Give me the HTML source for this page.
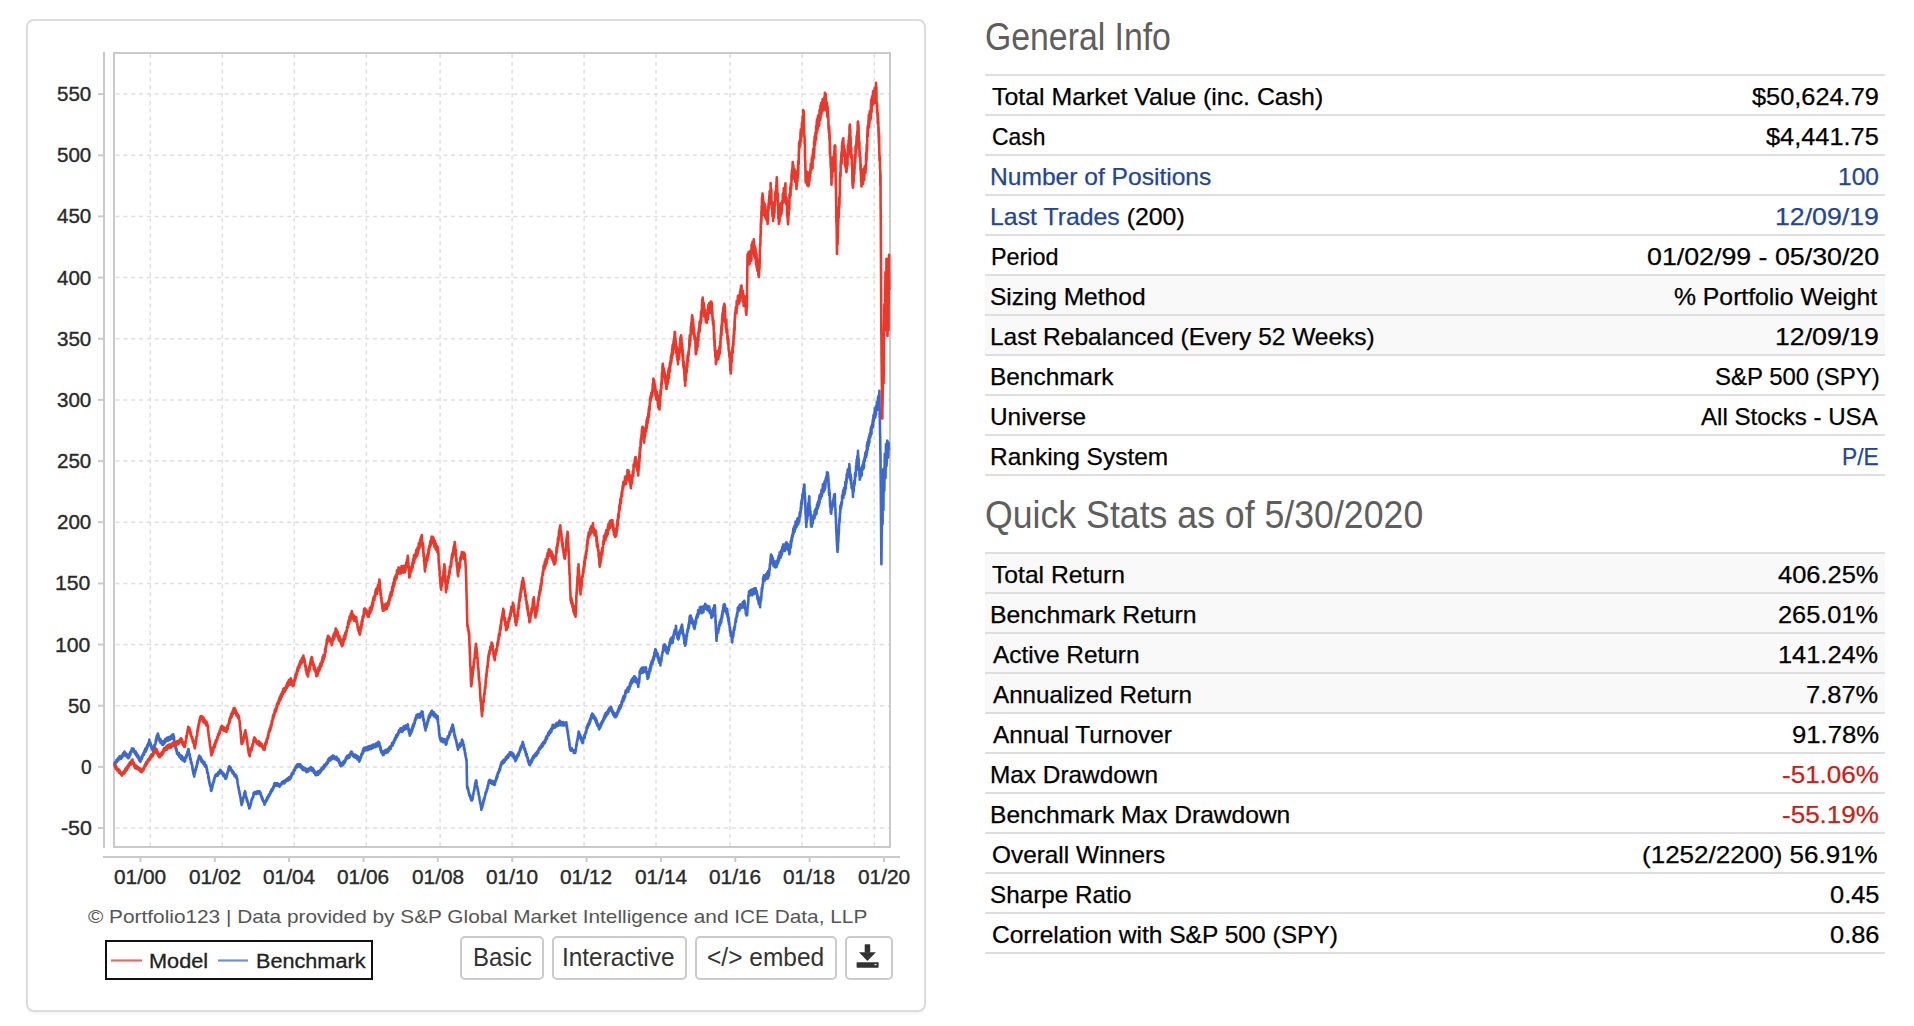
<!DOCTYPE html><html><head><meta charset="utf-8"><style>
*{margin:0;padding:0;box-sizing:border-box}
html,body{width:1914px;height:1026px;background:#fff;overflow:hidden;font-family:"Liberation Sans",sans-serif}
.card{position:absolute;left:25.5px;top:18.5px;width:900px;height:993.5px;border:2px solid #dcdcdc;border-radius:8px;box-shadow:0 2px 3px rgba(0,0,0,0.05)}
.btn{position:absolute;top:936px;height:44px;border:2px solid #cbcbcb;border-radius:5px;background:#fff}
.ln{position:absolute;left:985px;width:900px;height:2px;background:#dedede}
.bg{position:absolute;left:985px;width:900px;height:38px;background:#f9f9f9}
.t{position:absolute;line-height:40px;white-space:nowrap;transform-origin:0 0}
.lk{color:#23468f}
.ng{color:#c2231b}
</style></head><body><div class="card"></div><svg width="1914" height="1026" style="position:absolute;left:0;top:0"><g stroke="#dfdfdf" stroke-width="1.5" stroke-dasharray="4 3.8"><line x1="115" y1="828.0" x2="889" y2="828.0" stroke-dashoffset="-0.6"/><line x1="115" y1="766.9" x2="889" y2="766.9" stroke-dashoffset="-0.6"/><line x1="115" y1="705.7" x2="889" y2="705.7" stroke-dashoffset="-0.6"/><line x1="115" y1="644.6" x2="889" y2="644.6" stroke-dashoffset="-0.6"/><line x1="115" y1="583.4" x2="889" y2="583.4" stroke-dashoffset="-0.6"/><line x1="115" y1="522.2" x2="889" y2="522.2" stroke-dashoffset="-0.6"/><line x1="115" y1="461.1" x2="889" y2="461.1" stroke-dashoffset="-0.6"/><line x1="115" y1="399.9" x2="889" y2="399.9" stroke-dashoffset="-0.6"/><line x1="115" y1="338.8" x2="889" y2="338.8" stroke-dashoffset="-0.6"/><line x1="115" y1="277.6" x2="889" y2="277.6" stroke-dashoffset="-0.6"/><line x1="115" y1="216.4" x2="889" y2="216.4" stroke-dashoffset="-0.6"/><line x1="115" y1="155.3" x2="889" y2="155.3" stroke-dashoffset="-0.6"/><line x1="115" y1="94.1" x2="889" y2="94.1" stroke-dashoffset="-0.6"/><line x1="150.3" y1="54" x2="150.3" y2="846" stroke-dashoffset="0"/><line x1="222.3" y1="54" x2="222.3" y2="846" stroke-dashoffset="0"/><line x1="294.3" y1="54" x2="294.3" y2="846" stroke-dashoffset="0"/><line x1="366.3" y1="54" x2="366.3" y2="846" stroke-dashoffset="0"/><line x1="440.1" y1="54" x2="440.1" y2="846" stroke-dashoffset="0"/><line x1="512.1" y1="54" x2="512.1" y2="846" stroke-dashoffset="0"/><line x1="584.1" y1="54" x2="584.1" y2="846" stroke-dashoffset="0"/><line x1="656.0" y1="54" x2="656.0" y2="846" stroke-dashoffset="0"/><line x1="730.0" y1="54" x2="730.0" y2="846" stroke-dashoffset="0"/><line x1="802.0" y1="54" x2="802.0" y2="846" stroke-dashoffset="0"/><line x1="874.3" y1="54" x2="874.3" y2="846" stroke-dashoffset="0"/></g><rect x="114" y="53" width="776" height="794" fill="none" stroke="#cacaca" stroke-width="2"/><g stroke="#cacaca" stroke-width="2"><line x1="104" y1="52" x2="104" y2="848"/><line x1="98" y1="828.0" x2="104" y2="828.0"/><line x1="98" y1="766.9" x2="104" y2="766.9"/><line x1="98" y1="705.7" x2="104" y2="705.7"/><line x1="98" y1="644.6" x2="104" y2="644.6"/><line x1="98" y1="583.4" x2="104" y2="583.4"/><line x1="98" y1="522.2" x2="104" y2="522.2"/><line x1="98" y1="461.1" x2="104" y2="461.1"/><line x1="98" y1="399.9" x2="104" y2="399.9"/><line x1="98" y1="338.8" x2="104" y2="338.8"/><line x1="98" y1="277.6" x2="104" y2="277.6"/><line x1="98" y1="216.4" x2="104" y2="216.4"/><line x1="98" y1="155.3" x2="104" y2="155.3"/><line x1="98" y1="94.1" x2="104" y2="94.1"/></g><g stroke="#cacaca" stroke-width="2"><line x1="103" y1="857" x2="900" y2="857"/><line x1="140.4" y1="857" x2="140.4" y2="862"/><line x1="214.8" y1="857" x2="214.8" y2="862"/><line x1="289.1" y1="857" x2="289.1" y2="862"/><line x1="363.5" y1="857" x2="363.5" y2="862"/><line x1="437.8" y1="857" x2="437.8" y2="862"/><line x1="512.2" y1="857" x2="512.2" y2="862"/><line x1="586.6" y1="857" x2="586.6" y2="862"/><line x1="660.9" y1="857" x2="660.9" y2="862"/><line x1="735.3" y1="857" x2="735.3" y2="862"/><line x1="809.6" y1="857" x2="809.6" y2="862"/><line x1="884.0" y1="857" x2="884.0" y2="862"/></g><polyline fill="none" stroke="#3e68c9" stroke-width="2.6" stroke-linejoin="round" points="114.40,763.2 114.52,763.0 114.64,764.8 114.76,763.2 114.88,763.7 115.00,762.1 115.12,763.5 115.24,764.4 115.36,762.8 115.48,762.0 115.60,762.6 115.72,762.0 115.84,762.2 115.96,762.5 116.08,761.6 116.20,760.9 116.32,761.7 116.44,760.1 116.56,762.0 116.68,762.2 116.81,760.4 116.93,761.9 117.05,761.3 117.17,761.0 117.29,760.0 117.41,761.3 117.53,759.1 117.65,760.7 117.77,759.8 117.89,760.7 118.01,758.4 118.13,758.4 118.25,760.1 118.37,757.9 118.49,760.2 118.61,759.2 118.73,758.7 118.85,758.5 118.97,758.1 119.09,759.5 119.21,759.0 119.33,758.5 119.45,758.6 119.57,756.3 119.69,756.6 119.81,758.5 119.93,758.5 120.05,756.6 120.17,757.2 120.29,758.4 120.41,756.7 120.53,758.2 120.65,756.4 120.77,758.7 120.89,758.9 121.01,756.6 121.13,757.2 121.25,756.2 121.37,756.0 121.49,756.8 121.62,755.5 121.74,755.8 121.86,757.2 121.98,757.0 122.10,757.5 122.22,756.6 122.34,756.1 122.46,754.8 122.58,756.6 122.70,754.2 122.82,755.0 122.94,753.6 123.06,755.1 123.18,754.2 123.30,753.4 123.42,753.0 123.54,753.1 123.66,754.7 123.78,754.8 123.90,754.9 124.02,752.6 124.14,754.0 124.26,754.2 124.39,752.5 124.51,751.6 124.63,752.0 124.75,754.2 124.87,752.8 124.99,753.0 125.11,753.2 125.24,753.3 125.36,754.5 125.48,755.8 125.60,755.6 125.72,754.9 125.84,753.4 125.96,753.7 126.09,753.6 126.21,755.2 126.33,756.4 126.45,756.5 126.57,754.5 126.69,754.1 126.81,754.9 126.94,754.2 127.06,755.4 127.18,754.5 127.30,756.0 127.42,755.6 127.54,757.5 127.66,755.5 127.79,757.0 127.91,757.4 128.03,756.5 128.15,755.6 128.27,758.2 128.39,757.4 128.51,754.9 128.64,757.1 128.76,756.2 128.88,757.2 129.00,755.8 129.12,757.5 129.24,756.7 129.36,755.2 129.47,754.5 129.59,754.7 129.71,755.2 129.83,755.6 129.95,752.8 130.07,752.2 130.19,753.4 130.30,754.8 130.42,754.8 130.54,752.1 130.66,751.5 130.78,751.7 130.90,751.4 131.01,752.7 131.13,752.0 131.25,751.7 131.37,750.0 131.49,751.4 131.61,749.8 131.73,750.4 131.84,748.6 131.96,749.7 132.08,750.3 132.20,748.7 132.32,748.9 132.44,749.9 132.56,748.7 132.68,750.0 132.80,749.9 132.92,748.6 133.04,749.7 133.16,750.8 133.29,750.1 133.41,750.8 133.53,751.6 133.65,748.7 133.77,751.6 133.89,751.7 134.01,751.6 134.13,751.7 134.25,750.3 134.37,750.5 134.49,752.4 134.61,751.6 134.73,751.4 134.85,751.2 134.97,753.8 135.09,752.5 135.21,753.8 135.34,752.7 135.46,753.2 135.58,752.8 135.70,751.6 135.82,752.7 135.94,754.9 136.06,754.9 136.18,755.2 136.30,753.5 136.42,754.3 136.54,753.1 136.66,755.1 136.78,755.5 136.90,755.1 137.02,754.6 137.14,756.1 137.26,756.9 137.39,754.5 137.51,756.6 137.63,757.1 137.75,757.4 137.87,755.0 137.99,756.5 138.11,757.7 138.23,756.3 138.35,756.0 138.47,756.2 138.59,758.7 138.71,757.4 138.83,757.8 138.95,758.3 139.07,757.7 139.19,760.0 139.31,760.4 139.44,760.3 139.56,758.7 139.68,758.6 139.80,760.5 139.92,760.9 140.04,759.5 140.16,760.3 140.28,761.5 140.40,761.8 140.52,760.6 140.64,760.9 140.76,760.2 140.88,760.4 141.00,760.5 141.12,759.3 141.24,758.4 141.36,759.9 141.48,757.8 141.60,756.6 141.72,759.0 141.84,756.8 141.96,756.7 142.08,758.1 142.20,756.6 142.32,757.5 142.44,755.8 142.56,754.8 142.69,755.4 142.81,754.6 142.93,754.5 143.05,754.4 143.17,754.7 143.29,755.3 143.41,754.3 143.53,752.8 143.65,753.1 143.77,755.0 143.89,752.5 144.01,752.4 144.13,753.6 144.25,753.9 144.37,751.6 144.49,750.8 144.61,752.4 144.73,750.9 144.85,752.1 144.97,750.5 145.09,750.2 145.21,748.9 145.33,751.6 145.45,750.7 145.57,751.6 145.69,751.1 145.81,748.2 145.93,748.6 146.05,748.3 146.17,750.8 146.29,749.3 146.41,748.1 146.53,748.7 146.65,748.3 146.77,746.5 146.89,748.9 147.01,748.0 147.14,746.2 147.26,746.6 147.38,745.1 147.50,745.3 147.62,745.7 147.74,746.3 147.86,746.6 147.98,745.2 148.10,743.6 148.22,745.7 148.34,743.8 148.46,743.1 148.58,743.0 148.70,744.2 148.82,742.9 148.94,741.8 149.06,741.4 149.18,742.1 149.30,739.5 149.42,741.3 149.54,741.8 149.66,742.5 149.78,742.8 149.89,742.1 150.01,744.1 150.13,744.5 150.25,742.6 150.37,742.6 150.49,743.0 150.61,745.7 150.72,744.9 150.84,744.5 150.96,746.3 151.08,745.6 151.20,746.5 151.32,746.6 151.44,747.6 151.56,745.8 151.68,748.7 151.79,746.5 151.91,747.3 152.03,748.3 152.15,749.5 152.27,749.5 152.39,749.0 152.51,748.7 152.62,748.3 152.74,749.6 152.86,750.3 152.98,749.9 153.10,752.2 153.22,749.9 153.34,751.4 153.46,750.1 153.58,750.1 153.69,748.0 153.81,747.7 153.93,747.6 154.05,748.5 154.17,746.9 154.29,747.9 154.41,744.8 154.53,744.7 154.65,745.7 154.76,745.2 154.88,745.9 155.00,744.9 155.12,744.7 155.24,744.6 155.36,744.2 155.48,743.7 155.60,742.6 155.72,740.8 155.84,740.0 155.95,739.6 156.07,741.0 156.19,741.6 156.31,739.2 156.43,737.9 156.55,737.6 156.67,736.2 156.79,738.8 156.91,737.5 157.02,736.0 157.14,735.8 157.26,735.5 157.38,735.8 157.50,735.2 157.62,734.6 157.74,733.6 157.86,735.5 157.98,736.2 158.09,734.2 158.21,735.7 158.33,735.8 158.45,735.2 158.57,736.5 158.69,738.8 158.81,738.8 158.93,738.1 159.05,737.7 159.16,740.3 159.28,740.0 159.40,738.5 159.52,738.2 159.64,740.1 159.76,741.3 159.88,740.5 160.00,740.1 160.12,740.5 160.24,741.1 160.35,739.2 160.47,742.6 160.59,742.3 160.71,742.7 160.83,739.7 160.95,742.9 161.07,741.8 161.19,742.8 161.31,741.0 161.42,741.0 161.54,742.7 161.66,743.6 161.78,741.7 161.90,742.9 162.02,744.5 162.14,743.0 162.26,742.8 162.38,743.5 162.50,743.1 162.62,743.7 162.74,743.3 162.86,741.5 162.98,742.5 163.10,744.9 163.22,743.6 163.34,742.6 163.46,742.5 163.58,741.4 163.70,743.2 163.82,743.1 163.94,740.7 164.06,743.8 164.18,742.6 164.30,741.1 164.42,742.4 164.54,741.2 164.66,742.2 164.78,741.1 164.90,742.6 165.02,741.0 165.14,742.1 165.26,742.2 165.38,738.9 165.50,739.8 165.62,741.4 165.74,740.4 165.86,740.8 165.98,740.9 166.10,739.0 166.22,740.3 166.34,739.7 166.46,740.3 166.58,738.9 166.70,739.2 166.82,739.8 166.94,740.0 167.06,739.4 167.18,738.6 167.30,737.5 167.42,739.4 167.54,739.7 167.66,738.4 167.78,737.9 167.90,740.6 168.02,738.7 168.14,737.2 168.26,738.8 168.38,738.1 168.50,738.5 168.62,740.4 168.74,739.0 168.86,738.7 168.98,737.0 169.10,738.2 169.22,739.2 169.34,738.1 169.46,738.3 169.58,739.7 169.70,737.2 169.82,739.1 169.94,737.6 170.06,739.6 170.18,738.4 170.30,737.5 170.42,737.6 170.54,736.5 170.66,738.3 170.78,738.3 170.90,738.6 171.02,738.3 171.14,735.8 171.26,736.7 171.38,736.7 171.50,735.6 171.62,738.8 171.74,737.1 171.86,736.0 171.98,738.5 172.10,738.5 172.22,734.9 172.34,735.3 172.46,737.5 172.58,736.4 172.70,734.5 172.82,737.4 172.94,734.6 173.06,736.4 173.18,734.2 173.30,735.2 173.42,735.3 173.54,737.1 173.66,737.4 173.78,738.4 173.89,736.3 174.01,737.6 174.13,739.8 174.25,741.9 174.37,741.9 174.49,741.3 174.61,741.5 174.72,743.1 174.84,743.8 174.96,744.6 175.08,743.2 175.20,745.4 175.32,745.3 175.44,745.1 175.56,748.1 175.68,745.8 175.79,747.2 175.91,748.9 176.03,748.5 176.15,750.1 176.27,750.7 176.39,749.9 176.51,749.6 176.62,749.1 176.74,750.7 176.86,752.2 176.98,753.7 177.10,753.1 177.22,754.1 177.34,753.3 177.46,752.8 177.58,753.1 177.70,752.7 177.82,753.6 177.94,754.7 178.07,754.4 178.19,754.3 178.31,755.0 178.43,754.2 178.55,753.4 178.67,752.8 178.79,753.4 178.91,754.5 179.03,755.4 179.15,754.2 179.27,754.2 179.39,756.9 179.51,757.1 179.63,754.9 179.75,755.7 179.87,756.1 180.00,757.0 180.12,754.9 180.24,757.4 180.36,755.3 180.48,755.9 180.60,755.9 180.72,757.0 180.84,756.9 180.96,757.0 181.08,758.9 181.20,756.1 181.32,757.6 181.44,757.3 181.56,755.9 181.68,755.7 181.80,757.7 181.93,756.4 182.05,757.9 182.17,758.4 182.29,759.2 182.41,759.2 182.53,760.3 182.65,760.1 182.77,757.5 182.89,757.3 183.01,758.9 183.13,759.6 183.25,759.9 183.37,757.6 183.49,758.9 183.61,758.2 183.73,760.3 183.86,760.8 183.98,760.9 184.10,760.0 184.22,759.4 184.34,759.0 184.46,761.7 184.58,759.0 184.70,760.1 184.82,759.5 184.94,760.0 185.06,758.7 185.17,761.0 185.29,759.1 185.41,757.3 185.53,757.4 185.65,757.1 185.77,757.8 185.89,756.5 186.01,757.6 186.12,756.6 186.24,757.9 186.36,755.1 186.48,755.8 186.60,756.9 186.72,755.6 186.84,756.0 186.96,755.3 187.07,753.7 187.19,754.9 187.31,755.3 187.43,751.7 187.55,751.4 187.67,752.9 187.79,751.4 187.91,752.6 188.03,751.2 188.14,749.9 188.26,751.5 188.38,750.2 188.50,749.0 188.62,749.6 188.74,751.6 188.86,750.8 188.99,753.9 189.11,753.2 189.23,753.9 189.35,754.9 189.47,755.2 189.59,754.1 189.71,754.7 189.83,755.4 189.96,757.9 190.08,757.7 190.20,758.8 190.32,759.7 190.44,758.3 190.56,758.1 190.68,760.0 190.80,759.8 190.93,762.7 191.05,761.4 191.17,762.2 191.29,763.0 191.41,762.0 191.53,763.9 191.65,763.3 191.77,763.8 191.90,764.9 192.02,765.0 192.14,765.3 192.26,767.4 192.38,766.0 192.50,769.3 192.62,768.2 192.74,770.2 192.87,769.4 192.99,771.6 193.11,770.1 193.23,772.0 193.35,773.5 193.47,773.3 193.59,774.3 193.71,774.8 193.84,774.8 193.96,774.8 194.08,775.9 194.20,776.6 194.32,776.0 194.44,773.6 194.56,772.9 194.67,772.8 194.79,773.1 194.91,772.7 195.03,773.0 195.15,772.0 195.27,771.9 195.39,769.9 195.50,769.2 195.62,768.5 195.74,769.8 195.86,770.1 195.98,769.3 196.10,767.8 196.22,768.7 196.33,767.1 196.45,766.0 196.57,767.2 196.69,766.4 196.81,765.9 196.93,765.9 197.05,763.9 197.17,762.2 197.28,763.4 197.40,761.3 197.52,761.4 197.64,763.3 197.76,761.8 197.88,760.0 198.00,761.0 198.11,759.6 198.23,760.4 198.35,760.0 198.47,759.6 198.59,757.5 198.71,757.8 198.83,757.8 198.94,758.6 199.06,757.0 199.18,755.9 199.30,757.7 199.42,755.7 199.54,756.2 199.66,756.6 199.78,756.8 199.90,757.4 200.02,758.9 200.14,759.1 200.27,758.2 200.39,758.8 200.51,756.9 200.63,758.2 200.75,757.6 200.87,759.1 200.99,757.9 201.11,758.6 201.23,759.9 201.35,760.4 201.47,761.6 201.59,760.4 201.71,759.5 201.83,760.7 201.96,759.6 202.08,762.0 202.20,760.3 202.32,760.4 202.44,762.3 202.56,762.5 202.68,761.3 202.80,762.0 202.92,763.1 203.04,762.0 203.16,762.5 203.28,763.4 203.40,763.8 203.52,763.7 203.64,762.8 203.77,762.6 203.89,762.1 204.01,763.5 204.13,761.7 204.25,762.3 204.37,764.9 204.49,762.4 204.61,765.4 204.73,763.7 204.85,764.1 204.97,766.4 205.09,765.3 205.21,765.6 205.33,765.8 205.46,765.7 205.58,765.5 205.70,765.4 205.82,765.5 205.94,764.9 206.06,766.6 206.18,765.3 206.30,767.6 206.42,766.6 206.54,766.8 206.66,768.6 206.78,770.0 206.90,768.5 207.01,771.0 207.13,769.9 207.25,772.9 207.37,772.6 207.49,772.0 207.61,773.5 207.73,773.3 207.85,773.4 207.97,773.2 208.09,774.2 208.20,776.4 208.32,777.8 208.44,777.7 208.56,776.2 208.68,777.2 208.80,778.4 208.92,780.6 209.04,780.9 209.16,779.6 209.28,781.2 209.40,782.9 209.51,782.4 209.63,784.2 209.75,783.0 209.87,783.8 209.99,784.1 210.11,786.3 210.23,784.9 210.35,785.2 210.47,785.7 210.59,786.0 210.70,786.5 210.82,787.9 210.94,790.0 211.06,790.9 211.18,789.3 211.30,790.2 211.42,790.8 211.54,789.3 211.66,789.2 211.78,789.3 211.89,787.8 212.01,786.8 212.13,787.3 212.25,788.0 212.37,786.8 212.49,785.1 212.61,785.0 212.72,785.5 212.84,783.2 212.96,784.6 213.08,783.6 213.20,783.7 213.32,782.5 213.44,782.5 213.56,782.4 213.68,780.5 213.79,781.3 213.91,781.6 214.03,781.8 214.15,779.1 214.27,778.3 214.39,778.8 214.51,779.0 214.62,777.9 214.74,777.9 214.86,777.4 214.98,776.5 215.10,777.1 215.22,775.3 215.34,776.1 215.46,776.0 215.59,775.7 215.71,775.2 215.83,775.8 215.95,775.7 216.07,776.1 216.19,774.4 216.31,774.9 216.44,776.0 216.56,774.9 216.68,774.9 216.80,775.5 216.92,775.7 217.04,775.6 217.16,774.7 217.29,774.3 217.41,775.0 217.53,774.4 217.65,773.4 217.77,775.7 217.89,775.5 218.01,772.6 218.14,773.0 218.26,773.8 218.38,772.0 218.50,772.7 218.62,773.8 218.74,772.7 218.86,773.2 218.99,773.9 219.11,772.8 219.23,772.0 219.35,772.1 219.47,772.0 219.59,771.0 219.71,771.8 219.84,772.0 219.96,771.8 220.08,769.7 220.20,770.2 220.32,770.4 220.44,770.5 220.56,771.7 220.67,770.3 220.79,772.3 220.91,770.5 221.03,771.0 221.15,770.7 221.27,771.3 221.39,773.3 221.51,772.8 221.62,773.4 221.74,772.2 221.86,771.8 221.98,773.1 222.10,772.2 222.22,773.3 222.34,773.8 222.46,772.3 222.57,773.4 222.69,774.2 222.81,774.1 222.93,774.0 223.05,775.5 223.17,775.1 223.29,774.6 223.41,775.6 223.53,774.7 223.64,774.6 223.76,776.3 223.88,776.1 224.00,773.9 224.12,776.3 224.24,774.2 224.36,776.5 224.47,775.5 224.59,776.8 224.71,775.4 224.83,776.1 224.95,777.0 225.07,778.4 225.19,776.9 225.31,776.6 225.43,776.6 225.54,777.9 225.66,778.9 225.78,778.2 225.90,778.7 226.02,778.1 226.14,778.4 226.26,776.6 226.37,776.2 226.49,777.7 226.61,776.2 226.73,776.0 226.85,774.9 226.97,775.5 227.09,774.5 227.20,773.5 227.32,772.7 227.44,772.4 227.56,772.5 227.68,772.1 227.80,772.2 227.91,772.6 228.03,770.3 228.15,771.0 228.27,769.3 228.39,771.2 228.51,769.8 228.63,768.3 228.74,768.9 228.86,767.4 228.98,768.4 229.10,767.6 229.22,766.3 229.34,766.2 229.46,766.2 229.58,768.9 229.70,769.2 229.82,768.8 229.94,768.3 230.07,769.0 230.19,769.4 230.31,767.6 230.43,767.6 230.55,769.7 230.67,767.5 230.79,767.5 230.91,770.3 231.03,769.8 231.15,769.7 231.27,770.5 231.39,770.8 231.51,769.9 231.63,770.3 231.75,771.2 231.87,771.6 232.00,770.9 232.12,772.5 232.24,770.6 232.36,770.5 232.48,772.3 232.60,771.7 232.72,772.1 232.84,773.5 232.96,772.4 233.08,772.7 233.20,771.9 233.32,773.4 233.44,772.9 233.56,772.1 233.68,774.0 233.80,774.0 233.93,773.2 234.05,774.7 234.17,775.3 234.29,775.7 234.41,774.7 234.53,776.1 234.65,775.2 234.77,776.3 234.89,775.6 235.01,774.5 235.13,774.6 235.25,775.9 235.37,775.5 235.49,774.5 235.61,776.1 235.73,776.8 235.86,775.3 235.98,777.7 236.10,776.8 236.22,777.7 236.34,778.0 236.46,776.0 236.58,778.4 236.70,778.5 236.82,777.8 236.94,777.6 237.06,779.5 237.18,778.6 237.30,779.2 237.41,782.2 237.53,782.4 237.65,783.4 237.77,784.0 237.89,784.2 238.01,785.4 238.13,786.3 238.25,786.9 238.37,787.0 238.49,786.7 238.60,788.4 238.72,788.7 238.84,789.6 238.96,790.1 239.08,790.0 239.20,791.9 239.32,790.9 239.44,792.7 239.56,793.8 239.68,793.0 239.80,793.6 239.91,793.4 240.03,795.2 240.15,796.6 240.27,796.3 240.39,797.7 240.51,797.2 240.63,798.3 240.75,799.2 240.87,801.2 240.99,799.8 241.10,801.4 241.22,803.2 241.34,802.8 241.46,804.1 241.58,805.1 241.70,804.2 241.82,804.1 241.94,804.4 242.06,802.9 242.17,802.1 242.29,801.5 242.41,801.4 242.53,802.3 242.65,800.4 242.77,800.3 242.89,800.8 243.00,798.0 243.12,798.3 243.24,799.4 243.36,798.4 243.48,798.1 243.60,797.3 243.71,797.6 243.83,795.6 243.95,796.5 244.07,794.7 244.19,794.8 244.31,794.7 244.43,792.9 244.54,793.5 244.66,792.9 244.78,792.7 244.90,791.6 245.02,791.2 245.14,792.6 245.26,792.8 245.38,793.9 245.49,792.6 245.61,794.9 245.73,796.0 245.85,796.1 245.97,795.7 246.09,796.6 246.21,798.2 246.33,797.2 246.45,797.0 246.56,798.4 246.68,800.2 246.80,799.4 246.92,799.4 247.04,799.0 247.16,801.4 247.28,801.9 247.40,800.5 247.52,800.7 247.64,802.8 247.75,802.4 247.87,802.1 247.99,802.4 248.11,802.7 248.23,805.3 248.35,805.2 248.47,804.5 248.59,805.4 248.71,806.4 248.82,805.1 248.94,807.0 249.06,807.0 249.18,808.3 249.30,808.5 249.42,807.1 249.54,808.2 249.66,807.5 249.79,807.0 249.91,805.7 250.03,806.3 250.15,805.2 250.27,806.4 250.39,805.5 250.51,804.0 250.64,804.8 250.76,803.4 250.88,803.3 251.00,803.4 251.12,803.2 251.24,801.1 251.36,801.1 251.49,800.6 251.61,799.8 251.73,800.2 251.85,798.8 251.97,799.1 252.09,798.6 252.21,798.6 252.34,799.1 252.46,797.8 252.58,797.5 252.70,797.5 252.82,797.9 252.94,796.8 253.06,796.5 253.19,797.0 253.31,796.1 253.43,795.9 253.55,793.3 253.67,793.1 253.79,794.7 253.91,792.7 254.04,793.1 254.16,793.9 254.28,793.2 254.40,793.8 254.52,792.2 254.64,792.3 254.76,792.8 254.89,792.0 255.01,792.7 255.13,793.0 255.25,792.5 255.37,792.7 255.49,792.9 255.61,793.8 255.74,793.4 255.86,792.1 255.98,793.9 256.10,794.0 256.22,793.5 256.34,793.5 256.46,792.5 256.59,793.0 256.71,793.4 256.83,792.8 256.95,792.1 257.07,791.9 257.19,792.1 257.31,791.4 257.44,793.1 257.56,793.5 257.68,793.3 257.80,792.0 257.92,791.7 258.04,791.9 258.16,793.2 258.29,792.8 258.41,793.4 258.53,793.3 258.65,791.2 258.77,793.0 258.89,792.0 259.01,792.9 259.14,791.5 259.26,792.8 259.38,792.9 259.50,792.8 259.62,791.4 259.74,792.9 259.86,793.9 259.98,793.5 260.10,792.5 260.21,792.9 260.33,793.3 260.45,792.6 260.57,793.2 260.69,794.5 260.81,794.1 260.93,796.3 261.05,794.7 261.17,796.8 261.29,795.6 261.40,796.5 261.52,795.9 261.64,797.8 261.76,796.9 261.88,797.1 262.00,798.5 262.12,799.1 262.24,799.4 262.36,797.7 262.48,799.8 262.60,798.7 262.71,799.3 262.83,799.5 262.95,800.0 263.07,801.2 263.19,801.0 263.31,800.7 263.43,800.5 263.55,801.2 263.67,802.1 263.79,801.9 263.90,802.2 264.02,802.7 264.14,803.0 264.26,803.0 264.38,804.3 264.50,803.5 264.62,804.7 264.74,803.4 264.86,802.4 264.98,801.8 265.10,803.5 265.22,802.3 265.34,801.1 265.46,801.2 265.58,802.3 265.70,802.0 265.82,801.7 265.94,800.3 266.06,801.0 266.18,799.7 266.30,799.7 266.42,800.8 266.54,800.5 266.66,800.4 266.78,798.9 266.90,800.6 267.02,799.0 267.14,797.7 267.26,799.4 267.38,797.1 267.50,797.2 267.62,797.4 267.74,798.6 267.86,796.9 267.98,796.8 268.10,797.0 268.22,796.2 268.34,797.6 268.46,796.5 268.58,795.4 268.70,795.8 268.82,794.5 268.94,796.1 269.06,795.1 269.18,795.4 269.30,795.4 269.42,794.3 269.54,795.4 269.66,794.4 269.78,793.7 269.90,794.1 270.02,794.7 270.14,793.7 270.26,792.0 270.38,791.8 270.50,792.3 270.62,792.4 270.74,792.9 270.86,792.6 270.98,792.1 271.10,790.4 271.22,792.4 271.34,790.7 271.46,790.6 271.58,791.4 271.70,789.3 271.82,789.3 271.94,791.1 272.06,790.1 272.18,790.2 272.30,788.7 272.42,788.5 272.54,790.2 272.66,788.6 272.78,789.4 272.90,788.4 273.02,789.1 273.14,787.1 273.26,788.4 273.38,786.6 273.50,786.9 273.62,786.6 273.74,785.9 273.86,787.6 273.98,786.1 274.10,784.8 274.22,783.8 274.34,785.9 274.46,785.3 274.58,785.3 274.70,784.4 274.82,783.1 274.94,783.3 275.06,783.9 275.18,785.4 275.30,784.1 275.41,785.8 275.53,783.4 275.65,783.7 275.77,784.2 275.89,784.3 276.01,785.5 276.13,785.2 276.25,784.1 276.37,785.0 276.49,784.1 276.60,783.4 276.72,785.0 276.84,784.0 276.96,784.4 277.08,783.3 277.20,785.8 277.32,784.2 277.44,783.2 277.56,784.0 277.68,783.6 277.80,785.0 277.91,785.2 278.03,784.6 278.15,785.2 278.27,784.6 278.39,785.0 278.51,785.3 278.63,784.7 278.75,784.8 278.87,785.0 278.99,784.6 279.10,784.3 279.22,786.5 279.34,786.1 279.46,786.9 279.58,785.8 279.70,786.2 279.82,786.4 279.94,785.1 280.06,785.0 280.18,784.8 280.31,784.2 280.43,785.5 280.55,784.5 280.67,784.5 280.79,783.5 280.91,783.6 281.03,783.5 281.15,784.1 281.27,784.2 281.39,783.7 281.52,784.4 281.64,783.2 281.76,782.8 281.88,783.9 282.00,783.1 282.12,782.0 282.24,783.1 282.36,782.7 282.48,782.8 282.61,782.3 282.73,781.8 282.85,781.5 282.97,781.5 283.09,782.6 283.21,783.3 283.33,782.6 283.45,781.2 283.57,782.3 283.69,782.3 283.82,782.0 283.94,781.6 284.06,783.4 284.18,780.8 284.30,781.9 284.42,783.2 284.54,781.5 284.66,781.0 284.78,781.6 284.90,781.9 285.02,781.4 285.14,782.3 285.26,780.4 285.38,782.2 285.50,781.0 285.62,781.7 285.74,780.4 285.86,780.8 285.98,779.6 286.10,780.0 286.22,780.1 286.34,781.2 286.46,779.5 286.58,779.3 286.70,780.7 286.82,780.6 286.94,779.9 287.06,778.9 287.18,779.8 287.30,780.8 287.42,780.2 287.54,780.4 287.66,778.7 287.78,778.3 287.90,780.1 288.02,778.8 288.14,780.5 288.26,779.7 288.38,779.8 288.50,779.2 288.62,779.6 288.74,778.9 288.86,777.4 288.98,778.6 289.10,778.4 289.22,777.5 289.34,778.0 289.46,779.8 289.58,779.5 289.70,777.8 289.82,778.6 289.94,777.6 290.06,778.8 290.18,779.0 290.30,776.7 290.42,776.9 290.55,778.1 290.67,775.8 290.79,775.6 290.91,776.7 291.03,776.7 291.15,777.8 291.27,775.5 291.39,774.7 291.51,776.2 291.63,774.3 291.75,773.5 291.87,775.2 291.99,774.4 292.12,774.7 292.24,774.4 292.36,773.9 292.48,773.0 292.60,772.4 292.72,773.8 292.84,772.5 292.96,773.5 293.08,773.9 293.20,772.5 293.32,773.3 293.44,772.5 293.56,773.0 293.68,770.9 293.81,769.8 293.93,771.7 294.05,771.7 294.17,771.1 294.29,769.7 294.41,770.3 294.53,770.5 294.65,769.7 294.77,769.6 294.89,768.9 295.01,767.7 295.13,770.0 295.25,767.7 295.38,768.2 295.50,767.8 295.62,767.5 295.74,767.9 295.86,767.3 295.98,766.5 296.10,767.2 296.22,766.0 296.34,767.3 296.46,767.4 296.57,765.3 296.69,765.4 296.81,766.9 296.93,766.0 297.05,764.9 297.17,765.8 297.29,767.3 297.40,764.5 297.52,766.6 297.64,766.6 297.76,766.3 297.88,764.3 298.00,765.9 298.11,764.4 298.23,764.7 298.35,764.9 298.47,765.3 298.59,765.0 298.71,766.3 298.83,765.7 298.94,766.0 299.06,765.8 299.18,765.6 299.30,764.8 299.42,764.7 299.54,766.1 299.66,766.9 299.78,764.3 299.90,766.7 300.03,766.5 300.15,764.3 300.27,765.9 300.39,765.1 300.51,766.9 300.63,767.3 300.75,766.5 300.87,765.4 300.99,767.5 301.11,767.8 301.24,766.9 301.36,766.4 301.48,766.2 301.60,767.8 301.72,766.0 301.84,768.0 301.96,767.7 302.08,767.4 302.20,767.2 302.32,768.4 302.45,769.1 302.57,769.9 302.69,768.3 302.81,769.4 302.93,767.8 303.05,770.0 303.17,768.9 303.29,769.6 303.41,769.5 303.53,767.8 303.65,767.4 303.78,767.8 303.90,770.1 304.02,768.2 304.14,768.8 304.26,769.7 304.38,769.5 304.50,769.1 304.62,770.0 304.74,769.3 304.86,770.4 304.99,769.2 305.11,770.5 305.23,769.9 305.35,768.5 305.47,769.9 305.59,770.7 305.71,768.6 305.83,769.2 305.95,771.5 306.07,770.3 306.20,771.5 306.32,769.6 306.44,771.6 306.56,772.2 306.68,771.8 306.80,770.5 306.92,771.0 307.04,770.4 307.16,770.7 307.28,772.0 307.40,770.6 307.52,771.8 307.64,771.4 307.76,769.1 307.88,771.6 307.99,769.9 308.11,768.8 308.23,770.8 308.35,769.0 308.47,768.8 308.59,770.2 308.71,769.2 308.83,769.7 308.95,770.6 309.07,770.1 309.19,768.2 309.31,768.4 309.43,768.5 309.55,770.5 309.67,769.6 309.79,770.1 309.91,767.7 310.03,768.0 310.14,768.6 310.26,769.6 310.38,769.8 310.50,768.0 310.62,768.3 310.74,769.8 310.86,767.8 310.98,767.1 311.10,769.7 311.22,769.5 311.34,768.2 311.46,768.3 311.58,768.1 311.70,770.2 311.82,770.5 311.94,768.1 312.06,769.5 312.18,770.7 312.30,769.8 312.42,770.2 312.54,769.6 312.66,769.8 312.78,770.7 312.90,768.6 313.02,770.7 313.14,770.9 313.26,770.8 313.38,771.9 313.50,771.7 313.62,769.5 313.74,769.7 313.86,772.6 313.98,771.6 314.10,771.4 314.22,770.5 314.34,772.9 314.46,771.2 314.58,771.3 314.70,772.2 314.82,772.5 314.94,772.2 315.06,772.2 315.18,773.8 315.30,773.1 315.42,772.3 315.54,774.9 315.66,772.6 315.78,774.0 315.90,772.2 316.02,774.0 316.14,774.6 316.26,773.3 316.38,773.4 316.50,775.3 316.62,774.0 316.74,775.2 316.86,773.6 316.98,774.8 317.10,773.8 317.22,773.0 317.35,772.9 317.47,773.8 317.59,773.2 317.71,772.9 317.83,771.4 317.95,772.2 318.07,773.1 318.19,774.6 318.31,771.7 318.43,772.5 318.55,773.1 318.67,772.1 318.79,771.0 318.92,772.8 319.04,772.6 319.16,772.9 319.28,773.3 319.40,770.8 319.52,770.8 319.64,770.9 319.76,772.3 319.88,773.1 320.00,771.4 320.12,772.0 320.24,770.2 320.36,769.7 320.48,772.1 320.61,770.3 320.73,769.7 320.85,769.9 320.97,770.8 321.09,769.0 321.21,768.8 321.33,771.1 321.45,769.4 321.57,768.2 321.69,768.7 321.81,767.8 321.93,768.2 322.05,769.1 322.18,768.9 322.30,767.5 322.42,769.7 322.54,768.0 322.66,767.7 322.78,768.8 322.90,768.3 323.02,766.7 323.14,767.6 323.26,766.9 323.38,768.9 323.50,766.7 323.62,767.3 323.75,766.0 323.87,766.6 323.99,767.1 324.11,766.9 324.23,767.8 324.35,764.8 324.47,766.7 324.59,765.7 324.71,766.1 324.83,765.7 324.95,766.2 325.07,766.5 325.19,765.6 325.32,765.5 325.44,765.9 325.56,764.9 325.68,765.7 325.80,764.1 325.92,763.8 326.04,763.9 326.16,763.5 326.28,764.8 326.40,762.8 326.52,763.1 326.64,764.5 326.76,764.3 326.88,762.9 327.01,762.3 327.13,762.4 327.25,763.3 327.37,763.3 327.49,762.2 327.61,761.2 327.73,762.9 327.85,763.1 327.97,761.1 328.09,759.8 328.21,760.1 328.33,761.4 328.45,759.4 328.58,761.5 328.70,761.1 328.82,761.0 328.94,759.1 329.06,758.6 329.18,758.5 329.30,758.9 329.42,759.4 329.54,759.5 329.66,757.8 329.78,760.2 329.90,758.5 330.02,758.9 330.14,759.5 330.26,758.2 330.38,760.4 330.50,758.0 330.62,759.8 330.74,760.1 330.86,760.0 330.99,758.5 331.11,758.8 331.23,756.7 331.35,759.5 331.47,757.0 331.59,758.7 331.71,758.8 331.83,759.2 331.95,757.0 332.07,757.3 332.19,758.7 332.31,758.9 332.43,756.1 332.55,758.4 332.67,755.7 332.79,757.5 332.91,755.5 333.03,756.1 333.15,756.2 333.27,756.6 333.39,756.6 333.51,757.2 333.63,757.9 333.75,756.7 333.87,757.0 333.99,756.0 334.11,756.8 334.24,757.8 334.36,758.1 334.48,756.7 334.60,758.2 334.72,759.1 334.84,757.1 334.96,759.0 335.08,757.2 335.20,758.0 335.32,757.1 335.44,758.8 335.56,757.4 335.68,757.9 335.80,757.8 335.92,757.7 336.04,757.2 336.16,759.1 336.28,757.2 336.40,758.5 336.52,756.7 336.64,759.1 336.76,759.5 336.88,760.3 337.00,758.5 337.12,757.8 337.25,759.6 337.37,758.2 337.49,759.3 337.61,759.7 337.73,758.9 337.85,759.7 337.97,760.2 338.09,760.7 338.21,759.0 338.33,761.2 338.45,760.8 338.57,759.1 338.69,759.8 338.81,761.0 338.93,760.6 339.05,760.4 339.17,762.9 339.29,761.2 339.41,760.9 339.53,762.2 339.65,762.6 339.78,763.2 339.90,765.3 340.02,765.2 340.14,764.2 340.26,765.2 340.38,763.6 340.50,764.3 340.62,764.0 340.74,765.1 340.86,764.5 340.98,766.3 341.10,765.3 341.22,765.8 341.34,765.2 341.46,764.8 341.58,763.2 341.70,763.4 341.82,764.9 341.94,763.0 342.06,762.8 342.18,763.0 342.30,764.5 342.42,763.2 342.54,765.0 342.66,765.2 342.78,763.9 342.90,762.4 343.02,764.7 343.14,763.9 343.26,764.8 343.38,764.0 343.50,761.3 343.61,763.3 343.73,762.2 343.85,761.4 343.97,761.9 344.09,763.5 344.21,762.1 344.33,763.2 344.45,760.6 344.57,761.9 344.69,762.8 344.81,761.8 344.93,762.4 345.05,761.0 345.17,760.8 345.29,760.3 345.41,759.6 345.53,760.4 345.65,760.8 345.77,758.4 345.89,758.6 346.01,757.8 346.13,758.4 346.25,758.0 346.37,759.1 346.49,756.7 346.61,757.1 346.73,756.9 346.85,756.9 346.97,757.7 347.09,757.2 347.21,755.8 347.33,757.1 347.45,756.7 347.57,758.3 347.69,757.9 347.81,757.3 347.93,755.7 348.05,755.9 348.17,756.3 348.29,756.9 348.40,757.2 348.52,756.8 348.64,755.4 348.76,757.9 348.88,755.7 349.00,757.9 349.12,754.8 349.24,757.6 349.36,755.0 349.48,755.2 349.60,757.0 349.72,754.4 349.84,755.7 349.96,754.7 350.08,754.9 350.20,754.5 350.32,754.4 350.44,755.2 350.56,754.1 350.68,752.4 350.80,753.6 350.92,753.3 351.04,752.0 351.16,752.7 351.28,754.0 351.40,751.6 351.52,754.6 351.64,754.0 351.76,752.4 351.88,753.5 351.99,754.4 352.11,752.4 352.23,752.3 352.35,753.7 352.47,755.2 352.59,755.0 352.71,754.4 352.83,755.8 352.95,754.5 353.07,755.3 353.19,754.7 353.31,754.2 353.43,755.5 353.55,755.6 353.67,755.8 353.79,756.9 353.91,755.9 354.02,754.9 354.14,757.1 354.26,755.4 354.38,755.0 354.50,755.1 354.62,755.2 354.74,755.6 354.86,756.3 354.98,754.6 355.10,756.2 355.22,756.6 355.34,756.6 355.46,757.2 355.58,757.6 355.70,757.3 355.82,757.7 355.94,755.4 356.06,757.0 356.18,755.8 356.29,756.4 356.41,755.4 356.53,758.2 356.65,756.2 356.77,756.7 356.89,756.1 357.01,758.8 357.13,756.3 357.25,758.6 357.37,759.5 357.49,758.0 357.61,758.5 357.73,758.5 357.85,756.4 357.97,758.8 358.09,757.8 358.21,756.8 358.32,758.9 358.44,758.5 358.56,759.5 358.68,757.5 358.80,760.8 358.92,759.8 359.04,760.3 359.16,761.6 359.28,759.4 359.40,761.2 359.52,758.6 359.64,760.4 359.76,758.5 359.88,758.2 360.00,760.3 360.12,759.5 360.24,757.5 360.36,759.4 360.48,758.7 360.60,758.0 360.72,757.3 360.84,756.2 360.96,756.2 361.08,756.8 361.20,757.2 361.32,754.7 361.44,754.0 361.56,755.7 361.68,754.4 361.80,755.2 361.92,753.2 362.04,753.7 362.16,753.3 362.28,754.7 362.40,753.0 362.52,751.8 362.64,751.7 362.76,753.5 362.88,750.6 363.00,751.3 363.12,752.9 363.24,751.7 363.36,748.8 363.48,751.2 363.60,750.4 363.72,748.5 363.84,749.6 363.96,751.1 364.08,747.9 364.20,750.1 364.32,748.1 364.44,750.0 364.56,750.8 364.68,748.8 364.80,748.4 364.92,750.1 365.04,750.2 365.16,749.0 365.28,748.2 365.40,748.6 365.52,748.2 365.64,748.9 365.76,748.0 365.88,748.2 366.00,747.4 366.12,747.8 366.24,749.6 366.36,748.0 366.48,749.5 366.60,748.3 366.72,749.8 366.84,747.0 366.96,748.3 367.08,750.2 367.20,747.6 367.32,748.2 367.43,750.1 367.55,750.1 367.67,746.8 367.79,749.1 367.91,747.3 368.03,748.5 368.15,747.0 368.27,749.8 368.39,747.6 368.51,746.3 368.63,746.6 368.75,748.9 368.87,748.5 368.99,748.3 369.11,746.7 369.23,746.1 369.35,748.0 369.47,746.1 369.59,748.7 369.71,748.4 369.83,746.5 369.95,747.4 370.07,749.1 370.19,748.3 370.31,748.6 370.43,747.0 370.55,747.0 370.67,748.5 370.79,747.1 370.91,745.9 371.03,747.6 371.15,745.9 371.27,748.9 371.39,746.8 371.51,745.6 371.63,747.1 371.75,746.4 371.87,746.6 371.99,748.3 372.11,746.2 372.23,747.8 372.35,747.8 372.47,745.8 372.59,746.1 372.71,744.7 372.83,744.7 372.95,744.7 373.07,747.9 373.19,744.6 373.31,747.3 373.43,745.2 373.55,746.8 373.67,745.4 373.79,746.4 373.91,747.0 374.03,744.6 374.15,745.2 374.27,746.5 374.39,745.9 374.51,744.8 374.63,745.6 374.75,745.5 374.87,745.2 374.98,746.8 375.10,745.4 375.22,744.5 375.34,747.3 375.46,747.2 375.58,746.9 375.70,744.3 375.82,746.9 375.94,744.1 376.06,746.0 376.18,746.2 376.30,744.0 376.42,743.1 376.54,744.2 376.66,745.0 376.78,744.1 376.90,746.2 377.02,745.7 377.14,746.3 377.26,744.2 377.38,746.3 377.50,745.9 377.62,743.7 377.74,744.1 377.86,745.0 377.98,743.7 378.10,742.7 378.22,742.8 378.34,741.9 378.46,742.2 378.58,744.2 378.70,743.3 378.82,742.8 378.94,742.9 379.06,742.1 379.18,745.4 379.30,743.4 379.42,743.2 379.54,746.3 379.66,746.7 379.78,746.5 379.90,745.8 380.02,746.5 380.14,747.9 380.26,746.1 380.38,747.9 380.50,750.2 380.62,749.5 380.74,747.7 380.86,749.9 380.98,749.6 381.10,751.0 381.22,751.5 381.34,752.6 381.46,752.5 381.58,751.0 381.70,750.4 381.82,751.5 381.94,752.6 382.06,753.4 382.18,752.4 382.30,752.3 382.42,753.2 382.54,753.0 382.66,751.6 382.78,754.6 382.90,753.2 383.02,755.1 383.14,755.0 383.26,752.3 383.38,752.2 383.50,752.6 383.62,752.0 383.74,754.8 383.86,753.7 383.98,752.8 384.10,751.3 384.22,751.5 384.34,750.7 384.46,752.9 384.58,753.2 384.70,751.2 384.82,752.7 384.94,751.5 385.06,752.5 385.18,752.2 385.30,750.7 385.42,752.9 385.54,750.0 385.66,750.5 385.78,749.9 385.90,751.6 386.02,750.3 386.14,752.6 386.26,750.1 386.38,750.2 386.50,751.1 386.62,749.7 386.74,751.9 386.86,752.0 386.98,750.6 387.10,750.4 387.22,751.8 387.34,750.4 387.46,751.4 387.58,752.1 387.70,752.4 387.82,749.6 387.94,751.1 388.06,751.1 388.18,748.9 388.30,749.3 388.42,749.9 388.54,749.1 388.66,750.8 388.78,748.2 388.90,748.3 389.02,750.6 389.14,747.5 389.26,749.6 389.38,748.2 389.50,748.9 389.62,748.2 389.74,746.9 389.87,748.5 389.99,746.5 390.11,748.2 390.23,749.2 390.35,746.3 390.47,746.5 390.59,747.5 390.71,748.8 390.83,748.6 390.95,746.3 391.07,746.6 391.19,746.9 391.31,746.1 391.43,746.4 391.55,745.3 391.67,744.6 391.79,744.2 391.91,744.3 392.03,743.0 392.15,744.6 392.27,744.1 392.39,743.2 392.51,744.1 392.63,745.6 392.76,744.5 392.88,743.9 393.00,743.3 393.12,744.2 393.24,742.3 393.36,742.8 393.48,741.4 393.60,741.3 393.72,743.1 393.84,741.8 393.96,741.3 394.08,740.6 394.20,742.0 394.32,739.5 394.44,739.6 394.56,739.6 394.68,740.8 394.80,739.0 394.92,739.0 395.04,737.7 395.16,739.8 395.28,739.9 395.40,738.9 395.52,739.5 395.64,737.3 395.77,738.3 395.89,737.0 396.01,736.9 396.13,735.3 396.25,736.8 396.37,735.8 396.49,736.7 396.61,735.8 396.73,734.6 396.85,737.0 396.97,737.0 397.09,735.7 397.21,736.0 397.33,734.0 397.45,734.5 397.57,735.5 397.69,735.5 397.81,734.7 397.93,733.5 398.05,735.0 398.17,732.5 398.29,733.0 398.41,733.3 398.53,732.8 398.66,733.4 398.78,730.8 398.90,731.7 399.02,731.8 399.14,730.1 399.26,730.0 399.38,730.3 399.50,732.3 399.62,730.6 399.74,732.0 399.86,729.6 399.98,730.3 400.10,729.8 400.22,729.0 400.34,730.3 400.46,728.2 400.58,730.1 400.70,728.2 400.83,729.2 400.95,730.7 401.07,728.7 401.19,728.0 401.31,731.3 401.43,728.6 401.55,730.4 401.67,731.1 401.79,731.6 401.91,728.2 402.04,732.0 402.16,731.1 402.28,730.4 402.40,731.4 402.52,730.9 402.64,731.5 402.76,731.0 402.88,729.1 403.00,730.3 403.12,728.6 403.25,727.7 403.37,727.0 403.49,727.1 403.61,726.6 403.73,728.8 403.85,726.5 403.97,727.8 404.09,729.6 404.21,726.0 404.33,727.8 404.45,727.9 404.58,727.6 404.70,727.8 404.82,726.4 404.94,727.8 405.06,726.9 405.18,727.6 405.30,728.8 405.42,728.1 405.54,726.1 405.66,729.2 405.79,726.7 405.91,726.0 406.03,725.4 406.15,726.3 406.27,726.2 406.39,726.0 406.51,726.4 406.63,727.6 406.75,725.3 406.87,728.3 407.00,728.2 407.12,727.7 407.24,726.6 407.36,725.3 407.48,725.4 407.60,725.6 407.72,726.8 407.84,724.4 407.97,726.3 408.09,729.3 408.21,727.1 408.33,729.4 408.46,730.1 408.58,728.2 408.70,730.4 408.82,732.0 408.94,729.1 409.07,730.1 409.19,733.5 409.31,733.6 409.43,731.9 409.56,733.8 409.68,734.4 409.80,735.7 409.92,733.1 410.04,732.6 410.16,734.2 410.28,732.3 410.40,734.2 410.52,732.0 410.65,733.3 410.77,732.9 410.89,733.6 411.01,731.1 411.13,731.6 411.25,731.0 411.37,730.8 411.49,732.1 411.61,729.2 411.73,729.6 411.85,730.1 411.97,728.7 412.09,727.6 412.22,730.6 412.34,728.5 412.46,727.8 412.58,729.0 412.70,725.8 412.82,728.3 412.94,725.5 413.06,724.7 413.18,725.7 413.30,724.6 413.42,727.1 413.54,726.9 413.66,723.8 413.78,726.4 413.91,723.3 414.03,725.1 414.15,724.6 414.27,723.3 414.39,723.4 414.51,723.9 414.63,720.7 414.75,723.2 414.87,720.1 414.99,720.3 415.11,720.8 415.23,719.5 415.35,720.8 415.48,717.8 415.60,718.6 415.72,717.7 415.84,718.9 415.96,718.1 416.08,719.3 416.20,716.9 416.32,718.1 416.44,715.2 416.56,715.0 416.68,717.0 416.80,717.2 416.92,716.0 417.05,716.7 417.17,717.0 417.29,716.4 417.41,715.0 417.53,717.2 417.65,714.8 417.77,717.1 417.89,714.3 418.01,715.5 418.13,716.2 418.25,717.0 418.37,717.1 418.49,717.2 418.62,717.5 418.74,716.8 418.86,715.9 418.98,714.1 419.10,714.6 419.22,714.1 419.34,714.4 419.46,715.3 419.58,717.0 419.70,715.2 419.82,717.5 419.94,717.7 420.06,715.3 420.18,715.1 420.31,713.7 420.43,716.1 420.55,714.7 420.67,713.4 420.79,713.6 420.91,716.1 421.03,716.2 421.15,715.1 421.27,713.5 421.39,712.3 421.51,714.7 421.63,714.0 421.75,711.4 421.88,711.9 422.00,711.7 422.12,713.0 422.24,713.4 422.36,714.7 422.48,715.2 422.60,711.7 422.72,713.2 422.85,714.0 422.97,714.7 423.09,717.6 423.21,719.6 423.34,717.8 423.46,718.2 423.58,721.2 423.70,720.4 423.83,721.6 423.95,720.1 424.07,721.4 424.20,722.2 424.32,725.3 424.44,725.2 424.56,724.5 424.69,724.7 424.81,726.8 424.93,728.1 425.05,727.8 425.18,727.0 425.30,729.5 425.42,727.4 425.54,730.5 425.66,727.5 425.78,727.9 425.90,728.3 426.02,726.0 426.14,724.9 426.26,724.6 426.38,725.7 426.50,727.5 426.62,725.7 426.74,725.7 426.87,725.2 426.99,722.5 427.11,724.2 427.23,724.2 427.35,724.6 427.47,723.1 427.59,721.0 427.71,721.1 427.83,721.5 427.95,719.9 428.07,719.0 428.19,720.8 428.31,721.2 428.43,719.6 428.55,717.4 428.67,716.5 428.79,718.7 428.91,717.3 429.03,717.1 429.15,717.0 429.27,718.1 429.39,715.0 429.51,717.9 429.63,717.2 429.76,715.4 429.88,714.1 430.00,715.5 430.12,717.0 430.24,714.8 430.36,713.2 430.48,715.4 430.60,715.2 430.72,713.5 430.84,712.8 430.96,713.7 431.08,713.8 431.20,712.3 431.32,711.3 431.44,711.1 431.56,711.2 431.68,711.8 431.80,712.6 431.92,710.7 432.05,714.4 432.17,710.9 432.29,713.0 432.41,713.3 432.53,712.5 432.65,712.3 432.77,715.2 432.89,712.9 433.01,714.7 433.13,712.8 433.25,715.4 433.37,714.6 433.49,714.4 433.62,712.5 433.74,715.2 433.86,712.4 433.98,715.8 434.10,714.0 434.22,714.4 434.34,713.9 434.46,716.0 434.58,713.5 434.70,717.0 434.82,714.0 434.94,716.0 435.06,716.7 435.18,716.5 435.31,716.0 435.43,716.9 435.55,714.3 435.67,717.2 435.79,715.6 435.91,717.2 436.03,717.8 436.15,716.9 436.27,717.1 436.39,716.7 436.51,718.1 436.63,715.6 436.75,717.6 436.88,718.1 437.00,719.1 437.12,718.0 437.24,718.5 437.36,717.0 437.48,716.6 437.60,716.0 437.72,719.7 437.84,722.1 437.97,721.8 438.09,721.7 438.21,723.4 438.33,724.2 438.46,724.9 438.58,726.3 438.70,726.0 438.82,730.2 438.94,729.0 439.07,729.8 439.19,733.6 439.31,733.6 439.43,735.9 439.56,734.6 439.68,736.5 439.80,737.6 439.92,737.8 440.04,738.6 440.16,737.4 440.28,739.8 440.40,738.3 440.52,739.8 440.65,738.8 440.77,739.9 440.89,739.0 441.01,740.5 441.13,741.3 441.25,740.0 441.37,738.9 441.49,741.0 441.61,740.0 441.73,740.6 441.85,739.1 441.97,739.9 442.09,738.3 442.22,739.0 442.34,741.1 442.46,740.4 442.58,739.8 442.70,740.6 442.82,742.1 442.94,742.2 443.06,740.3 443.18,739.8 443.30,742.1 443.42,741.3 443.54,742.0 443.66,739.8 443.78,739.2 443.91,741.2 444.03,742.2 444.15,741.4 444.27,739.6 444.39,739.4 444.51,739.9 444.63,741.0 444.75,741.3 444.87,741.2 444.99,740.7 445.11,739.6 445.23,740.9 445.35,740.8 445.48,741.7 445.60,740.9 445.72,744.4 445.84,742.5 445.96,744.6 446.08,742.0 446.20,743.4 446.32,742.6 446.44,741.8 446.56,743.7 446.68,740.2 446.80,740.9 446.92,740.0 447.04,738.7 447.16,740.7 447.28,740.6 447.40,738.3 447.52,737.8 447.64,737.5 447.76,736.4 447.89,737.4 448.01,738.8 448.13,738.5 448.25,738.2 448.37,737.9 448.49,737.3 448.61,736.9 448.73,736.2 448.85,737.2 448.97,735.7 449.09,735.5 449.21,735.8 449.33,733.6 449.45,733.8 449.57,735.3 449.69,731.9 449.81,734.1 449.93,733.6 450.05,734.0 450.17,732.8 450.29,732.8 450.41,731.7 450.53,731.6 450.65,730.9 450.77,730.3 450.89,731.3 451.01,732.0 451.14,728.8 451.26,730.3 451.38,728.1 451.50,727.7 451.62,728.3 451.74,727.9 451.86,727.8 451.98,727.8 452.10,729.5 452.22,725.9 452.34,727.2 452.46,725.2 452.58,724.5 452.70,727.8 452.82,725.0 452.94,728.4 453.06,725.7 453.18,727.1 453.30,727.8 453.42,730.3 453.54,731.2 453.66,728.8 453.78,732.2 453.90,729.7 454.02,731.0 454.15,732.7 454.27,732.4 454.39,734.9 454.51,735.7 454.63,735.7 454.75,737.2 454.87,737.2 454.99,735.2 455.11,735.9 455.23,738.3 455.35,737.3 455.47,737.5 455.59,739.2 455.71,739.7 455.83,739.5 455.95,740.2 456.07,740.9 456.19,739.9 456.31,740.1 456.43,742.5 456.55,742.0 456.68,742.3 456.80,744.6 456.92,743.4 457.04,745.6 457.16,746.3 457.28,746.7 457.40,746.9 457.52,746.1 457.64,745.2 457.76,747.8 457.88,749.1 458.00,749.9 458.12,749.0 458.24,747.4 458.36,747.0 458.48,746.1 458.60,745.8 458.72,745.6 458.84,746.7 458.96,747.9 459.07,747.2 459.19,747.5 459.31,746.3 459.43,747.2 459.55,744.6 459.67,747.1 459.79,745.6 459.91,743.7 460.03,743.3 460.15,746.5 460.27,744.9 460.39,743.7 460.51,744.8 460.63,743.3 460.75,745.9 460.87,743.7 460.99,743.6 461.11,744.2 461.23,744.7 461.34,742.9 461.46,743.5 461.58,742.3 461.70,740.6 461.82,740.6 461.94,741.9 462.06,739.5 462.18,740.5 462.30,741.0 462.42,741.6 462.54,741.0 462.66,741.9 462.78,742.8 462.90,741.4 463.02,741.5 463.14,742.9 463.26,744.7 463.38,744.1 463.49,745.9 463.61,745.2 463.73,745.7 463.85,744.9 463.97,747.4 464.09,749.5 464.21,748.8 464.33,749.0 464.45,748.2 464.57,749.3 464.69,749.6 464.81,751.3 464.93,752.5 465.05,753.5 465.17,754.1 465.29,752.8 465.41,755.7 465.53,755.5 465.64,755.5 465.76,757.2 465.88,757.3 466.00,758.2 466.12,757.9 466.24,760.0 466.36,758.8 466.48,759.3 466.60,761.2 466.73,767.9 466.85,774.2 466.98,780.6 467.10,786.7 467.22,787.6 467.34,787.2 467.46,788.8 467.58,789.0 467.70,787.9 467.82,787.2 467.94,788.1 468.06,788.6 468.18,788.9 468.31,790.3 468.43,790.3 468.55,791.6 468.67,792.3 468.79,792.7 468.91,793.6 469.03,792.5 469.15,792.9 469.27,794.4 469.39,795.6 469.51,794.8 469.63,794.5 469.75,795.9 469.87,795.9 469.99,795.9 470.11,796.3 470.23,795.4 470.35,797.2 470.47,798.3 470.59,797.4 470.72,797.7 470.84,798.2 470.96,798.7 471.08,799.3 471.20,800.4 471.32,799.7 471.44,799.3 471.56,799.2 471.68,800.0 471.80,800.5 471.92,800.4 472.04,800.1 472.16,800.4 472.28,799.6 472.40,798.4 472.52,799.3 472.64,797.9 472.76,797.0 472.88,796.9 472.99,795.9 473.11,794.3 473.23,794.8 473.35,794.5 473.47,793.6 473.59,792.3 473.71,791.9 473.83,791.6 473.95,790.8 474.07,790.2 474.19,790.8 474.31,790.3 474.43,789.3 474.55,787.5 474.67,786.6 474.79,786.6 474.91,786.1 475.03,784.6 475.14,783.4 475.26,783.8 475.38,785.0 475.50,782.3 475.62,782.5 475.74,781.3 475.86,780.6 475.98,781.0 476.10,780.9 476.22,781.3 476.34,780.6 476.46,781.4 476.58,782.2 476.70,784.4 476.82,785.2 476.94,786.2 477.06,786.5 477.18,786.5 477.30,788.2 477.43,786.9 477.55,788.9 477.67,789.2 477.79,788.8 477.91,791.2 478.03,789.9 478.15,791.8 478.27,791.8 478.39,792.1 478.51,794.4 478.63,793.1 478.75,795.2 478.87,795.2 478.99,796.0 479.11,796.4 479.23,796.3 479.35,796.5 479.47,799.4 479.59,799.9 479.71,800.0 479.83,801.1 479.95,801.7 480.07,802.1 480.20,803.4 480.32,802.0 480.44,803.3 480.56,803.9 480.68,805.0 480.80,805.1 480.92,807.3 481.04,807.1 481.16,808.0 481.28,808.1 481.40,809.8 481.52,807.6 481.64,807.8 481.76,807.8 481.88,807.6 482.00,806.4 482.12,807.7 482.24,807.6 482.36,806.4 482.48,806.0 482.60,804.0 482.72,804.6 482.84,803.4 482.96,804.7 483.08,804.4 483.20,802.0 483.32,801.3 483.43,800.6 483.55,802.0 483.67,799.4 483.79,801.0 483.91,800.9 484.03,798.8 484.15,800.0 484.27,798.8 484.39,799.4 484.51,799.0 484.63,797.5 484.75,796.6 484.87,796.8 484.99,796.2 485.11,794.9 485.23,795.4 485.35,794.4 485.47,794.0 485.59,792.5 485.71,793.9 485.83,792.0 485.95,792.6 486.07,792.1 486.19,792.5 486.31,791.5 486.43,791.6 486.55,791.6 486.67,789.7 486.79,789.4 486.91,789.4 487.03,790.2 487.15,788.2 487.27,789.6 487.38,789.0 487.50,788.2 487.62,785.8 487.74,786.2 487.86,787.0 487.98,785.1 488.10,785.7 488.22,784.9 488.34,785.1 488.46,783.3 488.58,783.2 488.70,781.3 488.82,782.8 488.94,781.1 489.06,781.6 489.18,780.9 489.30,782.0 489.42,780.1 489.54,780.8 489.66,782.0 489.78,780.5 489.90,780.1 490.02,782.5 490.14,780.9 490.26,780.3 490.38,782.0 490.50,782.8 490.62,781.5 490.75,781.8 490.87,781.1 490.99,781.1 491.11,780.8 491.23,780.6 491.35,780.9 491.47,781.5 491.59,781.7 491.71,782.5 491.83,781.8 491.95,783.3 492.07,783.9 492.19,781.5 492.31,782.5 492.43,782.4 492.55,783.3 492.67,781.7 492.79,781.8 492.91,781.1 493.03,783.7 493.15,783.3 493.28,783.5 493.40,783.1 493.52,782.1 493.64,781.9 493.76,782.8 493.88,784.7 494.00,782.3 494.12,784.5 494.24,783.7 494.36,782.7 494.48,785.0 494.60,784.7 494.72,783.2 494.84,783.1 494.96,784.4 495.08,782.0 495.20,782.8 495.32,780.6 495.44,781.2 495.57,780.9 495.69,781.4 495.81,780.1 495.93,780.0 496.05,778.8 496.17,779.6 496.29,777.5 496.41,778.7 496.53,777.1 496.65,779.1 496.77,778.0 496.89,775.6 497.01,776.0 497.13,775.8 497.26,776.5 497.38,777.0 497.50,775.9 497.62,773.6 497.74,773.6 497.86,774.5 497.98,772.4 498.10,774.0 498.22,772.4 498.34,772.4 498.46,773.0 498.58,772.9 498.70,772.2 498.82,771.6 498.94,772.5 499.07,770.0 499.19,771.5 499.31,770.7 499.43,768.7 499.55,769.2 499.67,770.4 499.79,770.2 499.91,768.6 500.03,769.8 500.15,769.4 500.27,766.3 500.39,768.0 500.51,766.6 500.63,764.6 500.76,764.8 500.88,764.9 501.00,765.4 501.12,764.2 501.24,765.7 501.36,763.6 501.48,762.2 501.60,764.1 501.72,764.2 501.84,761.9 501.96,761.7 502.08,762.1 502.20,762.0 502.32,762.3 502.44,761.6 502.55,762.7 502.67,761.3 502.79,762.9 502.91,763.5 503.03,760.6 503.15,762.3 503.27,762.6 503.39,762.0 503.51,762.7 503.63,762.6 503.75,762.7 503.87,759.5 503.99,759.5 504.11,759.5 504.23,759.9 504.34,760.6 504.46,760.2 504.58,759.6 504.70,761.6 504.82,759.2 504.94,759.8 505.06,760.2 505.18,759.2 505.30,759.9 505.42,759.3 505.54,758.5 505.66,759.6 505.78,758.3 505.90,757.0 506.01,759.6 506.13,757.7 506.25,757.3 506.37,759.1 506.49,759.4 506.61,758.2 506.73,758.6 506.85,757.9 506.97,757.2 507.09,758.1 507.21,757.0 507.33,757.4 507.45,756.8 507.57,755.4 507.69,756.8 507.80,757.7 507.92,756.9 508.04,756.5 508.16,756.4 508.28,757.6 508.40,754.8 508.52,754.3 508.64,755.7 508.76,755.7 508.88,755.9 509.00,754.1 509.12,754.9 509.24,755.6 509.36,754.3 509.48,755.3 509.59,755.1 509.71,755.0 509.83,752.4 509.95,755.3 510.07,753.1 510.19,753.7 510.31,754.6 510.43,754.4 510.55,753.8 510.67,753.3 510.79,752.2 510.91,753.3 511.03,754.8 511.15,754.4 511.26,753.1 511.38,753.4 511.50,755.4 511.62,754.7 511.74,754.3 511.86,754.1 511.98,754.2 512.10,752.8 512.22,752.8 512.34,753.3 512.46,753.7 512.58,753.8 512.70,755.4 512.82,754.5 512.94,756.4 513.07,753.7 513.19,756.4 513.31,754.6 513.43,753.9 513.55,756.1 513.67,757.6 513.79,757.6 513.91,756.4 514.03,758.0 514.15,758.2 514.27,758.2 514.39,756.1 514.51,757.5 514.63,758.5 514.76,759.7 514.88,757.5 515.00,759.4 515.12,757.5 515.24,759.6 515.36,761.2 515.48,760.5 515.60,759.0 515.72,760.1 515.84,758.7 515.96,759.0 516.08,758.8 516.20,759.8 516.32,759.7 516.44,758.1 516.57,758.3 516.69,758.6 516.81,756.5 516.93,756.8 517.05,757.3 517.17,757.5 517.29,757.0 517.41,754.9 517.53,756.6 517.65,756.2 517.77,755.2 517.89,755.1 518.01,754.8 518.13,753.7 518.26,754.4 518.38,753.3 518.50,753.0 518.62,755.4 518.74,753.4 518.86,752.0 518.98,753.1 519.10,753.3 519.22,751.9 519.34,752.8 519.46,752.7 519.58,751.6 519.70,752.0 519.82,750.7 519.94,749.2 520.07,749.4 520.19,750.1 520.31,750.8 520.43,748.5 520.55,747.5 520.67,748.7 520.79,749.8 520.91,746.4 521.03,747.3 521.15,748.0 521.27,746.8 521.39,747.7 521.51,747.9 521.63,745.5 521.76,747.2 521.88,744.8 522.00,746.1 522.12,744.3 522.24,744.3 522.36,745.7 522.48,744.6 522.60,742.0 522.72,744.2 522.84,742.1 522.96,743.5 523.08,744.2 523.20,745.1 523.32,744.6 523.44,745.8 523.57,744.4 523.69,746.5 523.81,746.8 523.93,746.1 524.05,747.1 524.17,748.2 524.29,749.2 524.41,748.0 524.53,748.0 524.65,750.4 524.77,748.7 524.89,748.5 525.01,750.3 525.13,749.0 525.26,750.8 525.38,752.5 525.50,752.7 525.62,751.3 525.74,751.7 525.86,753.4 525.98,754.7 526.10,755.6 526.22,754.8 526.34,755.0 526.46,755.8 526.58,755.7 526.70,753.7 526.82,756.4 526.94,757.0 527.07,756.5 527.19,756.0 527.31,757.9 527.43,758.6 527.55,757.2 527.67,758.1 527.79,758.3 527.91,761.3 528.03,759.1 528.15,761.8 528.27,759.8 528.39,760.5 528.51,763.0 528.63,762.8 528.76,763.4 528.88,761.3 529.00,764.0 529.12,763.1 529.24,763.6 529.36,764.8 529.48,762.8 529.60,764.2 529.72,764.8 529.84,763.3 529.96,762.7 530.08,765.2 530.20,763.7 530.32,763.9 530.44,761.8 530.56,761.7 530.68,762.2 530.80,763.2 530.92,763.0 531.05,763.0 531.17,760.7 531.29,760.0 531.41,762.1 531.53,759.8 531.65,762.4 531.77,761.4 531.89,761.3 532.01,760.9 532.13,760.9 532.25,758.2 532.37,759.8 532.49,760.3 532.61,757.8 532.73,757.5 532.85,759.0 532.97,757.2 533.09,757.7 533.21,756.9 533.33,756.3 533.45,755.9 533.58,757.1 533.70,756.9 533.82,755.8 533.94,757.6 534.06,757.8 534.18,757.4 534.30,756.7 534.42,755.3 534.54,756.7 534.66,754.6 534.78,756.2 534.90,756.0 535.02,756.0 535.14,754.7 535.26,754.3 535.38,756.2 535.50,753.6 535.62,754.6 535.74,754.4 535.86,753.2 535.98,755.6 536.11,752.8 536.23,753.3 536.35,755.2 536.47,753.4 536.59,755.4 536.71,753.4 536.83,754.0 536.95,752.0 537.07,752.5 537.19,753.0 537.31,751.7 537.43,751.6 537.55,751.0 537.67,753.6 537.79,753.0 537.91,751.4 538.03,752.9 538.15,753.2 538.28,750.6 538.40,752.7 538.52,749.6 538.64,749.6 538.76,749.9 538.88,748.5 539.00,748.5 539.12,747.9 539.24,748.9 539.36,748.1 539.48,749.3 539.60,749.0 539.72,749.3 539.84,747.9 539.96,747.4 540.08,749.4 540.20,748.6 540.32,748.3 540.45,748.5 540.57,746.0 540.69,748.2 540.81,746.0 540.93,746.7 541.05,746.6 541.17,746.8 541.29,746.4 541.41,747.2 541.53,747.5 541.65,744.4 541.77,744.2 541.89,746.7 542.01,743.7 542.13,746.5 542.25,744.4 542.37,746.6 542.49,746.4 542.62,746.0 542.74,745.8 542.86,743.3 542.98,744.5 543.10,745.2 543.22,742.2 543.34,742.9 543.46,742.0 543.58,742.2 543.70,743.5 543.82,743.6 543.94,742.1 544.06,743.7 544.18,742.0 544.30,742.4 544.42,742.2 544.54,741.7 544.66,740.7 544.78,743.2 544.91,742.8 545.03,742.7 545.15,739.9 545.27,742.2 545.39,741.1 545.51,740.8 545.63,741.0 545.75,739.9 545.87,738.5 545.99,737.2 546.11,738.2 546.23,737.4 546.35,738.4 546.47,737.4 546.59,739.3 546.71,736.0 546.83,737.4 546.95,736.8 547.08,738.7 547.20,736.8 547.32,735.9 547.44,735.7 547.56,735.8 547.68,735.4 547.80,735.6 547.92,734.0 548.04,733.5 548.16,735.1 548.28,735.2 548.40,733.0 548.52,732.3 548.64,735.5 548.76,735.0 548.88,734.0 549.00,733.8 549.12,732.9 549.25,733.0 549.37,732.9 549.49,731.4 549.61,732.0 549.73,731.9 549.85,730.8 549.97,730.7 550.09,733.3 550.21,732.4 550.33,733.0 550.45,729.9 550.57,732.7 550.69,731.9 550.81,730.7 550.93,731.4 551.05,728.8 551.17,731.2 551.29,729.6 551.42,731.7 551.54,730.4 551.66,729.2 551.78,728.2 551.90,727.6 552.02,727.8 552.14,727.7 552.26,727.9 552.38,729.0 552.50,728.8 552.62,725.1 552.74,724.8 552.86,725.2 552.98,726.0 553.10,725.4 553.22,724.9 553.34,726.3 553.47,726.9 553.59,728.1 553.71,727.2 553.83,726.7 553.95,727.6 554.07,727.9 554.19,726.0 554.31,727.4 554.43,727.3 554.55,725.9 554.67,727.1 554.79,727.4 554.91,727.0 555.03,725.2 555.16,727.2 555.28,726.3 555.40,727.4 555.52,725.8 555.64,726.6 555.76,723.7 555.88,726.8 556.00,724.5 556.12,724.4 556.24,726.1 556.36,723.2 556.48,726.3 556.60,723.2 556.72,723.3 556.84,724.9 556.97,726.3 557.09,722.9 557.21,723.2 557.33,723.1 557.45,723.3 557.57,723.8 557.69,724.5 557.81,724.5 557.93,723.0 558.05,725.8 558.17,724.0 558.29,725.3 558.41,724.3 558.53,722.8 558.66,722.3 558.78,723.8 558.90,721.9 559.02,722.9 559.14,724.1 559.26,720.7 559.38,721.2 559.50,722.7 559.62,723.3 559.74,720.8 559.86,722.9 559.98,723.9 560.10,723.9 560.22,723.2 560.34,725.2 560.47,721.6 560.59,723.1 560.71,724.6 560.83,724.0 560.95,721.9 561.07,724.9 561.19,722.4 561.31,722.7 561.43,723.4 561.55,722.0 561.67,724.2 561.79,723.4 561.91,722.9 562.03,725.2 562.16,722.7 562.28,725.2 562.40,725.5 562.52,725.5 562.64,724.9 562.76,723.9 562.88,723.7 563.00,724.9 563.12,725.4 563.24,722.0 563.36,723.5 563.48,722.7 563.60,724.5 563.72,725.5 563.84,725.5 563.97,725.1 564.09,724.4 564.21,723.5 564.33,723.4 564.45,725.3 564.57,723.9 564.69,725.1 564.81,724.0 564.93,723.2 565.05,724.8 565.17,722.9 565.29,724.3 565.41,725.1 565.53,723.4 565.66,723.7 565.78,724.2 565.90,723.7 566.02,723.9 566.14,723.4 566.26,722.7 566.38,722.3 566.50,724.8 566.62,724.9 566.74,727.4 566.86,725.2 566.98,727.6 567.10,729.7 567.22,727.5 567.34,730.7 567.47,731.3 567.59,730.3 567.71,733.4 567.83,733.3 567.95,731.7 568.07,735.5 568.19,736.0 568.31,736.8 568.43,735.9 568.55,738.8 568.67,737.8 568.79,740.1 568.91,740.6 569.03,739.5 569.16,740.2 569.28,744.0 569.40,745.0 569.52,743.2 569.64,746.7 569.76,747.4 569.88,747.8 570.00,748.1 570.12,749.3 570.24,747.5 570.36,750.2 570.48,748.6 570.60,748.9 570.72,749.1 570.84,747.7 570.96,750.8 571.08,748.0 571.20,749.2 571.33,749.1 571.45,748.1 571.57,749.1 571.69,750.7 571.81,748.4 571.93,749.7 572.05,748.9 572.17,749.3 572.29,749.8 572.41,750.1 572.53,750.6 572.65,750.3 572.77,750.9 572.89,750.6 573.01,750.8 573.13,750.4 573.25,751.4 573.37,750.0 573.49,750.7 573.61,751.4 573.73,753.0 573.85,750.9 573.97,750.7 574.10,750.3 574.22,751.0 574.34,752.3 574.46,753.0 574.58,752.7 574.70,751.5 574.82,752.3 574.94,751.5 575.06,752.3 575.18,752.1 575.30,752.9 575.42,750.2 575.54,751.4 575.66,750.7 575.78,749.7 575.90,748.0 576.02,748.4 576.14,746.2 576.27,745.3 576.39,745.6 576.51,744.1 576.63,745.9 576.75,742.4 576.87,743.8 576.99,741.1 577.11,740.9 577.23,741.1 577.35,741.1 577.47,738.8 577.59,738.6 577.71,739.4 577.83,738.4 577.96,736.1 578.08,737.4 578.20,736.4 578.32,733.7 578.44,733.0 578.56,734.5 578.68,731.6 578.80,732.3 578.92,734.2 579.04,732.1 579.16,733.5 579.28,734.6 579.40,736.1 579.52,735.6 579.64,735.6 579.77,736.8 579.89,734.4 580.01,734.9 580.13,734.9 580.25,738.3 580.37,736.5 580.49,736.1 580.61,736.2 580.73,737.9 580.85,736.6 580.97,736.5 581.09,740.3 581.21,739.4 581.33,739.2 581.46,738.9 581.58,740.5 581.70,740.1 581.82,740.6 581.94,741.7 582.06,742.0 582.18,740.7 582.30,741.4 582.42,741.4 582.54,742.5 582.66,743.2 582.78,741.8 582.90,742.0 583.02,742.1 583.14,738.6 583.25,739.0 583.37,739.9 583.49,737.8 583.61,738.9 583.73,737.6 583.85,738.8 583.97,738.3 584.09,737.1 584.21,735.2 584.33,737.7 584.45,737.6 584.57,735.1 584.69,738.0 584.81,735.1 584.92,735.5 585.04,734.3 585.16,735.0 585.28,733.4 585.40,733.3 585.52,733.8 585.64,731.5 585.76,732.7 585.88,732.0 586.00,732.9 586.12,731.4 586.24,732.6 586.36,730.8 586.48,730.6 586.60,727.3 586.71,729.2 586.83,726.9 586.95,726.9 587.07,726.4 587.19,726.4 587.31,727.6 587.43,725.2 587.55,725.0 587.67,726.1 587.79,727.6 587.91,724.8 588.03,723.9 588.15,726.4 588.27,725.2 588.39,724.3 588.50,724.8 588.62,724.3 588.74,723.9 588.86,722.5 588.98,725.1 589.10,722.5 589.22,722.9 589.34,723.3 589.46,723.9 589.58,720.3 589.70,721.2 589.82,721.2 589.94,722.8 590.06,720.5 590.17,720.2 590.29,718.5 590.41,721.4 590.53,719.3 590.65,717.8 590.77,717.6 590.89,717.1 591.01,717.4 591.13,718.5 591.25,715.3 591.37,718.7 591.49,716.9 591.61,716.5 591.73,716.6 591.85,716.0 591.96,714.7 592.08,717.4 592.20,713.5 592.32,715.3 592.44,715.6 592.56,715.6 592.68,716.1 592.80,715.3 592.92,714.2 593.04,714.3 593.16,715.0 593.28,715.0 593.40,714.5 593.52,715.9 593.64,718.0 593.76,716.9 593.88,718.5 594.00,716.4 594.12,718.1 594.24,718.1 594.35,718.1 594.47,717.6 594.59,716.8 594.71,718.0 594.83,717.5 594.95,718.8 595.07,720.1 595.19,719.5 595.31,717.7 595.43,720.6 595.55,719.4 595.67,719.7 595.79,720.0 595.91,722.4 596.03,718.8 596.15,722.9 596.27,723.1 596.39,723.2 596.51,720.2 596.63,722.4 596.75,723.3 596.87,721.4 596.99,725.2 597.11,724.8 597.23,722.7 597.35,723.1 597.46,723.0 597.58,724.2 597.70,725.8 597.82,724.3 597.94,725.5 598.06,726.2 598.18,726.5 598.30,726.8 598.42,726.3 598.54,727.0 598.66,726.9 598.78,728.0 598.90,728.8 599.02,727.3 599.14,729.4 599.26,726.4 599.38,726.2 599.50,727.0 599.62,726.8 599.74,727.7 599.86,728.1 599.98,727.8 600.10,726.4 600.22,725.1 600.34,726.0 600.46,724.6 600.58,726.1 600.70,723.5 600.82,724.3 600.94,726.5 601.06,726.1 601.18,722.9 601.30,723.8 601.42,724.5 601.54,722.6 601.66,723.9 601.77,722.0 601.89,723.1 602.01,724.0 602.13,722.2 602.25,720.9 602.37,721.9 602.49,722.7 602.61,720.9 602.73,721.6 602.85,720.8 602.97,720.5 603.09,720.0 603.21,721.5 603.33,718.9 603.45,720.7 603.57,718.6 603.69,719.4 603.81,717.7 603.93,719.6 604.05,716.6 604.17,718.7 604.29,717.7 604.41,719.0 604.53,716.2 604.65,718.7 604.77,717.7 604.89,714.5 605.01,714.4 605.13,715.3 605.25,716.7 605.37,715.7 605.49,717.1 605.61,713.1 605.73,714.9 605.85,716.5 605.97,713.9 606.09,714.6 606.21,715.7 606.33,714.1 606.45,715.7 606.57,715.2 606.69,712.9 606.81,712.8 606.93,712.3 607.05,713.3 607.17,711.8 607.29,713.3 607.41,713.1 607.52,711.8 607.64,713.4 607.76,714.1 607.88,713.8 608.00,711.1 608.12,710.3 608.24,711.9 608.36,712.1 608.48,709.6 608.60,712.6 608.72,710.0 608.84,709.6 608.96,711.1 609.08,708.9 609.20,708.2 609.32,710.8 609.44,709.1 609.56,710.1 609.68,707.7 609.80,708.4 609.92,708.8 610.04,710.0 610.16,709.9 610.28,707.7 610.40,709.6 610.52,708.4 610.64,709.2 610.76,709.4 610.88,707.5 611.00,706.8 611.13,707.7 611.25,710.2 611.37,709.8 611.49,710.8 611.61,708.6 611.73,710.6 611.85,711.4 611.97,710.8 612.09,710.2 612.21,712.4 612.33,711.0 612.46,713.1 612.58,710.9 612.70,710.9 612.82,712.3 612.94,711.9 613.06,714.7 613.18,713.5 613.30,713.3 613.42,714.6 613.54,713.0 613.67,715.2 613.79,713.1 613.91,715.0 614.03,714.5 614.15,712.8 614.27,716.2 614.39,715.1 614.51,713.3 614.63,716.9 614.75,714.3 614.87,716.7 615.00,714.6 615.12,716.4 615.24,713.8 615.36,714.8 615.48,717.3 615.60,716.9 615.72,714.8 615.84,714.7 615.96,716.1 616.08,714.2 616.20,715.1 616.32,716.6 616.44,715.4 616.56,713.4 616.68,714.2 616.81,714.4 616.93,714.1 617.05,715.3 617.17,712.8 617.29,713.0 617.41,714.3 617.53,711.2 617.65,711.0 617.77,710.9 617.89,712.2 618.01,711.2 618.13,709.9 618.25,712.3 618.37,712.1 618.49,709.6 618.61,708.4 618.73,708.0 618.85,711.1 618.98,709.7 619.10,710.0 619.22,707.4 619.34,706.5 619.46,706.4 619.58,706.1 619.70,708.6 619.82,705.5 619.94,705.5 620.06,709.0 620.18,708.2 620.30,706.4 620.42,705.0 620.54,708.1 620.66,707.5 620.78,706.3 620.90,705.5 621.02,707.0 621.15,706.0 621.27,706.3 621.39,705.0 621.51,703.0 621.63,701.3 621.75,702.0 621.87,701.8 621.99,704.2 622.11,701.0 622.23,702.8 622.35,700.1 622.47,700.3 622.59,701.1 622.71,700.1 622.83,698.2 622.95,699.7 623.07,697.5 623.19,701.1 623.32,698.0 623.44,701.1 623.56,696.2 623.68,696.0 623.80,698.0 623.92,695.8 624.04,699.5 624.16,696.5 624.28,697.8 624.40,698.6 624.52,697.3 624.64,697.5 624.76,697.5 624.88,695.7 625.00,696.4 625.12,692.8 625.24,696.5 625.35,692.3 625.47,692.2 625.59,690.9 625.71,691.7 625.83,690.6 625.95,690.2 626.07,690.2 626.19,691.5 626.31,692.4 626.43,692.6 626.55,692.2 626.67,691.1 626.79,692.5 626.91,692.1 627.02,689.2 627.14,692.0 627.26,691.1 627.38,691.8 627.50,688.8 627.62,689.1 627.74,687.5 627.86,687.6 627.98,688.7 628.10,687.9 628.22,689.9 628.34,691.6 628.46,689.4 628.58,689.1 628.70,689.6 628.81,687.0 628.93,689.0 629.05,687.1 629.17,686.7 629.29,686.5 629.41,689.1 629.53,685.5 629.65,685.7 629.77,685.8 629.89,686.3 630.01,683.4 630.13,686.3 630.25,683.9 630.37,684.1 630.49,686.1 630.60,683.7 630.72,681.7 630.84,683.6 630.96,682.1 631.08,683.0 631.20,681.9 631.32,680.3 631.44,681.7 631.56,680.0 631.68,680.0 631.80,682.1 631.92,680.2 632.04,683.1 632.16,679.2 632.27,678.7 632.39,679.9 632.51,680.4 632.63,679.5 632.75,680.6 632.87,680.3 632.99,678.6 633.11,680.3 633.23,677.7 633.35,677.8 633.47,681.0 633.59,681.3 633.71,678.9 633.83,680.7 633.95,676.6 634.06,678.6 634.18,681.5 634.30,678.3 634.42,676.3 634.54,678.5 634.66,679.4 634.78,679.9 634.90,680.2 635.02,680.3 635.14,676.9 635.26,678.6 635.38,678.7 635.50,679.6 635.62,680.1 635.74,679.3 635.87,682.1 635.99,679.8 636.11,678.1 636.23,679.4 636.35,678.5 636.47,682.0 636.59,679.6 636.71,681.3 636.83,681.9 636.95,682.3 637.07,679.5 637.19,680.0 637.31,681.5 637.43,682.0 637.56,682.4 637.68,684.3 637.80,683.3 637.92,682.9 638.04,684.7 638.16,684.3 638.28,687.0 638.40,684.1 638.52,682.9 638.65,683.6 638.77,683.1 638.89,680.8 639.02,681.2 639.14,682.6 639.26,680.2 639.38,679.1 639.51,676.9 639.63,675.4 639.75,671.3 639.88,673.6 640.00,671.3 640.12,674.3 640.24,671.1 640.36,670.5 640.48,672.9 640.60,669.6 640.72,672.5 640.83,672.1 640.95,673.0 641.07,670.6 641.19,668.7 641.31,668.9 641.43,671.1 641.55,669.4 641.67,669.7 641.79,667.8 641.91,670.2 642.03,669.9 642.15,667.7 642.27,670.5 642.38,672.5 642.50,672.4 642.62,672.7 642.74,668.5 642.86,672.6 642.98,669.0 643.10,672.2 643.22,668.6 643.34,669.9 643.46,667.6 643.58,667.6 643.70,667.9 643.82,670.4 643.93,671.3 644.05,667.9 644.17,670.8 644.29,671.6 644.41,670.2 644.53,668.8 644.65,669.6 644.77,670.7 644.89,668.8 645.01,669.9 645.13,668.7 645.25,669.3 645.37,671.7 645.48,667.2 645.60,667.6 645.72,671.2 645.84,670.9 645.96,668.0 646.08,667.6 646.20,670.5 646.32,672.1 646.45,672.1 646.57,672.3 646.69,674.1 646.82,674.2 646.94,672.2 647.06,673.4 647.18,676.3 647.31,675.1 647.43,675.8 647.55,679.0 647.68,677.3 647.80,676.4 647.92,677.2 648.04,675.9 648.16,677.1 648.28,678.0 648.40,677.4 648.52,673.5 648.64,676.7 648.76,672.7 648.88,671.3 649.00,671.4 649.12,673.4 649.24,674.0 649.36,672.9 649.48,669.3 649.60,668.5 649.72,671.7 649.84,669.5 649.96,670.5 650.08,667.6 650.20,667.6 650.32,666.5 650.44,670.7 650.56,664.9 650.68,665.3 650.80,667.6 650.92,663.7 651.04,664.5 651.16,667.4 651.28,662.5 651.40,663.3 651.52,663.0 651.64,661.1 651.76,663.9 651.88,662.1 652.00,663.5 652.12,661.6 652.24,660.2 652.36,664.1 652.48,661.4 652.60,661.5 652.72,662.4 652.84,662.2 652.96,660.7 653.08,659.0 653.20,657.6 653.32,660.7 653.44,656.9 653.56,657.6 653.68,659.4 653.80,659.6 653.92,655.8 654.04,656.9 654.16,657.9 654.28,653.4 654.40,652.6 654.52,652.4 654.64,654.6 654.76,653.4 654.88,655.6 655.00,653.5 655.12,649.5 655.24,651.7 655.36,651.9 655.48,649.4 655.60,650.0 655.72,651.9 655.84,650.7 655.96,654.2 656.08,650.1 656.20,655.0 656.32,655.0 656.44,655.2 656.56,653.5 656.68,655.9 656.81,652.3 656.93,656.0 657.05,653.1 657.17,655.7 657.29,656.6 657.41,655.9 657.53,656.4 657.65,654.8 657.77,653.9 657.89,658.2 658.01,655.4 658.13,657.7 658.25,659.0 658.37,659.0 658.49,657.1 658.61,660.8 658.73,658.9 658.85,661.7 658.97,661.1 659.09,658.1 659.22,661.4 659.34,662.8 659.46,659.7 659.58,661.7 659.70,661.5 659.82,663.2 659.94,663.0 660.06,662.4 660.18,663.3 660.30,664.0 660.42,665.4 660.54,663.2 660.66,661.2 660.78,659.0 660.90,660.4 661.02,658.8 661.13,661.4 661.25,659.5 661.37,661.1 661.49,657.8 661.61,658.1 661.73,655.3 661.85,656.5 661.97,655.7 662.09,655.5 662.21,654.5 662.33,653.4 662.45,652.0 662.57,651.9 662.68,651.1 662.80,652.0 662.92,652.3 663.04,651.0 663.16,649.7 663.28,649.3 663.40,645.7 663.52,646.7 663.64,647.6 663.77,645.2 663.89,649.6 664.01,649.4 664.13,647.9 664.25,644.6 664.38,644.9 664.50,644.8 664.62,649.0 664.74,649.0 664.86,647.1 664.98,644.5 665.11,646.4 665.23,647.5 665.35,649.7 665.47,645.9 665.59,650.6 665.72,650.3 665.84,646.2 665.96,648.7 666.08,649.4 666.20,651.6 666.32,650.3 666.45,647.6 666.57,651.1 666.69,652.4 666.81,652.7 666.93,649.7 667.06,651.2 667.18,649.3 667.30,653.5 667.42,653.4 667.54,653.2 667.66,652.4 667.78,653.4 667.90,649.1 668.02,648.8 668.14,649.1 668.26,648.3 668.38,647.2 668.49,648.0 668.61,647.8 668.73,650.4 668.85,648.6 668.97,647.5 669.09,646.6 669.21,647.0 669.33,644.8 669.45,646.9 669.57,642.4 669.69,645.4 669.81,644.9 669.93,642.5 670.05,644.5 670.17,644.3 670.29,640.9 670.41,639.4 670.52,643.3 670.64,641.6 670.76,642.2 670.88,638.6 671.00,639.9 671.12,639.1 671.24,641.1 671.36,639.1 671.48,638.6 671.60,638.8 671.72,637.5 671.84,638.3 671.96,638.5 672.08,639.7 672.20,638.9 672.32,643.0 672.44,639.3 672.56,638.7 672.67,642.8 672.79,641.6 672.91,636.9 673.03,636.2 673.15,637.9 673.27,637.8 673.39,639.0 673.51,637.8 673.63,634.2 673.75,634.8 673.87,635.0 673.99,633.8 674.11,632.2 674.23,634.2 674.35,633.0 674.47,630.9 674.59,633.0 674.71,633.9 674.82,629.8 674.94,633.9 675.06,634.0 675.18,633.9 675.30,630.4 675.42,631.6 675.54,630.6 675.66,628.6 675.78,630.1 675.90,625.9 676.02,626.7 676.14,627.9 676.26,629.6 676.38,631.0 676.51,631.4 676.63,632.2 676.75,634.8 676.87,635.0 676.99,634.7 677.11,635.7 677.23,637.2 677.35,633.2 677.47,634.8 677.59,638.5 677.72,638.8 677.84,634.8 677.96,637.6 678.08,637.7 678.20,639.5 678.32,638.5 678.44,638.5 678.57,634.9 678.69,638.8 678.81,633.4 678.93,634.3 679.05,634.1 679.18,636.0 679.30,636.3 679.42,631.8 679.54,632.3 679.66,633.4 679.78,631.1 679.91,632.8 680.03,630.1 680.15,633.7 680.27,631.9 680.39,631.2 680.52,631.1 680.64,631.4 680.76,630.6 680.88,630.5 681.00,629.2 681.12,627.3 681.25,629.2 681.37,627.4 681.49,628.7 681.61,625.9 681.73,625.9 681.86,629.4 681.98,624.7 682.10,624.5 682.22,626.2 682.34,629.4 682.46,631.1 682.58,632.8 682.70,630.6 682.82,629.5 682.93,632.9 683.05,632.7 683.17,634.4 683.29,633.5 683.41,633.8 683.53,635.9 683.65,634.5 683.77,638.3 683.89,635.6 684.01,639.7 684.13,639.0 684.25,639.3 684.37,643.6 684.48,642.3 684.60,643.2 684.72,642.5 684.84,640.8 684.96,642.0 685.08,643.2 685.20,645.8 685.32,642.5 685.44,642.1 685.56,644.5 685.68,644.0 685.80,642.4 685.92,638.9 686.04,642.4 686.16,641.1 686.28,636.0 686.41,639.5 686.53,634.5 686.65,635.8 686.77,636.4 686.89,636.4 687.01,634.2 687.13,631.7 687.25,632.5 687.37,631.6 687.49,629.5 687.61,632.3 687.73,628.9 687.85,630.5 687.97,630.4 688.09,629.8 688.21,627.9 688.33,627.7 688.45,625.0 688.57,628.2 688.69,628.3 688.82,625.0 688.94,622.5 689.06,626.1 689.18,624.8 689.30,621.9 689.42,621.0 689.54,619.6 689.66,616.9 689.78,618.6 689.90,616.3 690.02,615.9 690.14,617.4 690.26,618.0 690.38,615.6 690.50,620.0 690.62,617.8 690.74,619.5 690.86,615.8 690.98,618.0 691.11,617.5 691.23,619.5 691.35,617.9 691.47,619.0 691.59,619.6 691.71,623.2 691.83,619.6 691.95,618.7 692.07,620.3 692.19,622.4 692.31,623.4 692.43,622.8 692.55,622.3 692.67,620.6 692.79,622.5 692.91,623.2 693.03,624.2 693.15,622.5 693.27,621.9 693.39,623.8 693.52,621.9 693.64,626.9 693.76,622.2 693.88,627.2 694.00,627.4 694.12,624.8 694.24,625.6 694.36,626.1 694.48,628.9 694.60,626.3 694.72,627.8 694.84,628.0 694.96,625.5 695.08,622.3 695.20,624.5 695.32,621.3 695.44,624.1 695.56,624.1 695.68,620.4 695.81,619.8 695.93,618.8 696.05,622.7 696.17,617.4 696.29,619.1 696.41,617.0 696.53,618.1 696.65,618.8 696.77,616.1 696.89,615.1 697.01,615.3 697.13,614.8 697.25,617.3 697.37,614.0 697.49,615.2 697.61,617.2 697.73,615.0 697.85,614.2 697.97,615.0 698.09,610.4 698.22,612.5 698.34,610.6 698.46,612.2 698.58,614.1 698.70,613.4 698.82,610.4 698.94,614.2 699.06,613.9 699.18,613.8 699.30,612.9 699.42,613.1 699.54,612.8 699.66,611.9 699.78,609.3 699.90,607.2 700.02,608.1 700.14,609.2 700.26,611.1 700.38,609.3 700.50,606.9 700.62,607.6 700.74,607.8 700.86,607.5 700.98,607.0 701.10,608.8 701.22,608.3 701.34,607.7 701.46,611.3 701.58,611.9 701.70,607.6 701.82,608.5 701.94,613.1 702.06,610.6 702.18,610.1 702.30,608.1 702.42,610.0 702.54,610.9 702.66,606.9 702.78,607.6 702.90,610.0 703.02,607.8 703.14,611.6 703.26,607.5 703.38,612.1 703.50,609.6 703.62,608.7 703.74,609.2 703.86,606.0 703.98,606.9 704.10,606.7 704.22,609.0 704.34,608.0 704.46,607.1 704.58,606.6 704.70,609.0 704.82,605.1 704.94,607.8 705.06,608.1 705.18,603.8 705.30,607.6 705.42,605.4 705.54,605.6 705.66,607.8 705.78,607.7 705.90,604.9 706.02,605.9 706.14,607.9 706.26,607.7 706.38,605.6 706.50,608.6 706.62,608.8 706.74,608.1 706.86,605.8 706.98,607.4 707.10,609.7 707.22,607.8 707.34,609.9 707.46,607.4 707.58,608.1 707.71,609.6 707.83,608.0 707.95,609.7 708.07,607.1 708.19,606.8 708.31,606.0 708.43,610.5 708.55,610.9 708.67,610.4 708.79,611.1 708.92,607.7 709.04,610.5 709.16,608.3 709.28,606.5 709.40,608.0 709.52,610.0 709.64,609.2 709.76,613.0 709.88,612.2 710.01,612.4 710.13,610.7 710.25,609.8 710.37,610.5 710.49,610.9 710.61,612.2 710.73,611.3 710.85,614.7 710.97,615.0 711.09,612.3 711.22,612.7 711.34,617.8 711.46,612.6 711.58,617.9 711.70,617.2 711.82,617.2 711.94,616.8 712.06,612.8 712.17,613.4 712.29,615.6 712.41,613.4 712.53,613.4 712.65,616.5 712.77,610.9 712.89,611.6 713.00,612.1 713.12,611.6 713.24,608.2 713.36,611.6 713.48,612.2 713.60,612.0 713.71,612.1 713.83,612.2 713.95,610.1 714.07,612.3 714.19,605.6 714.31,610.9 714.43,610.3 714.54,610.5 714.66,607.3 714.78,605.8 714.90,605.3 715.02,607.7 715.15,613.9 715.27,615.7 715.40,614.5 715.52,623.3 715.65,620.1 715.77,625.1 715.90,630.1 716.02,628.3 716.15,632.6 716.27,634.4 716.40,638.3 716.52,640.8 716.64,638.9 716.76,636.5 716.88,636.7 717.00,632.5 717.12,632.3 717.24,633.4 717.36,631.9 717.48,630.8 717.60,629.9 717.72,630.7 717.84,632.3 717.96,632.8 718.08,633.0 718.20,631.2 718.32,631.7 718.44,629.8 718.56,629.6 718.68,627.7 718.80,625.2 718.92,629.3 719.04,626.1 719.16,624.5 719.28,625.9 719.40,626.2 719.52,623.3 719.64,625.9 719.76,621.9 719.88,623.8 720.00,621.7 720.12,622.1 720.24,622.8 720.36,624.2 720.48,620.1 720.60,622.0 720.72,621.6 720.84,621.5 720.96,620.0 721.08,618.7 721.20,622.6 721.32,621.2 721.44,620.0 721.56,617.7 721.68,616.2 721.80,615.4 721.92,615.2 722.04,614.2 722.16,617.9 722.28,612.6 722.40,616.1 722.52,613.6 722.64,610.5 722.76,613.1 722.88,610.6 723.00,610.3 723.12,611.4 723.24,607.4 723.36,611.5 723.48,608.3 723.60,604.8 723.72,609.2 723.84,607.4 723.96,609.2 724.08,608.2 724.20,607.7 724.32,606.6 724.44,604.1 724.56,605.3 724.68,607.2 724.80,610.0 724.92,604.7 725.03,606.7 725.15,610.6 725.27,610.1 725.39,607.9 725.51,611.2 725.63,611.6 725.75,608.4 725.87,611.4 725.99,609.0 726.11,610.2 726.23,610.4 726.35,612.4 726.47,609.9 726.58,609.8 726.70,614.2 726.82,609.8 726.94,608.7 727.06,613.6 727.18,609.1 727.30,610.4 727.42,614.0 727.54,615.9 727.66,617.1 727.78,615.9 727.90,613.8 728.02,614.4 728.14,618.1 728.26,620.8 728.38,616.9 728.51,618.5 728.63,617.9 728.75,618.2 728.87,623.9 728.99,621.2 729.11,621.0 729.23,624.0 729.35,623.4 729.47,625.2 729.59,625.9 729.71,627.3 729.83,628.4 729.95,630.8 730.07,627.6 730.19,632.4 730.31,632.0 730.43,630.4 730.55,631.8 730.67,631.7 730.79,636.1 730.92,635.0 731.04,636.3 731.16,633.7 731.28,636.8 731.40,634.2 731.52,635.8 731.64,636.8 731.76,639.0 731.88,639.4 732.00,640.1 732.12,642.1 732.24,642.3 732.36,638.5 732.48,638.8 732.60,638.4 732.72,638.4 732.83,635.4 732.95,634.5 733.07,636.0 733.19,636.6 733.31,635.4 733.43,631.9 733.55,634.1 733.67,629.7 733.79,629.1 733.91,629.4 734.03,630.4 734.15,627.2 734.27,627.4 734.38,629.8 734.50,629.8 734.62,626.8 734.74,627.8 734.86,625.1 734.98,626.9 735.10,624.8 735.22,622.2 735.34,622.3 735.46,623.0 735.58,621.1 735.70,619.1 735.82,618.8 735.93,621.9 736.05,621.8 736.17,617.3 736.29,618.4 736.41,617.9 736.53,617.2 736.65,616.2 736.77,614.3 736.89,615.1 737.01,616.7 737.13,616.3 737.25,612.7 737.37,614.8 737.48,611.6 737.60,610.9 737.72,608.7 737.84,607.5 737.96,610.9 738.08,611.7 738.20,607.8 738.32,610.0 738.44,611.3 738.56,607.9 738.68,609.1 738.81,608.6 738.93,606.4 739.05,609.7 739.17,609.1 739.29,606.8 739.41,605.9 739.53,610.1 739.65,606.2 739.78,608.1 739.90,607.3 740.02,604.6 740.14,606.9 740.26,606.3 740.38,605.2 740.50,608.2 740.62,605.0 740.74,604.5 740.87,606.8 740.99,607.7 741.11,608.1 741.23,605.8 741.35,607.3 741.47,606.4 741.59,608.0 741.71,605.6 741.83,606.7 741.96,606.2 742.08,606.1 742.20,607.2 742.32,604.0 742.44,607.1 742.56,605.4 742.68,603.1 742.80,602.0 742.92,606.8 743.05,604.7 743.17,606.4 743.29,606.7 743.41,604.0 743.53,604.7 743.65,602.3 743.77,607.2 743.89,607.2 744.02,603.4 744.14,603.3 744.26,600.7 744.38,603.9 744.50,601.2 744.62,603.6 744.74,602.0 744.86,603.8 744.98,609.3 745.11,607.7 745.23,608.5 745.35,608.5 745.47,609.4 745.59,608.8 745.71,610.1 745.83,613.9 745.95,612.3 746.07,613.5 746.19,610.8 746.32,614.1 746.44,615.0 746.56,615.4 746.68,613.1 746.80,613.7 746.92,613.9 747.04,615.3 747.16,615.3 747.28,612.7 747.40,610.3 747.52,607.8 747.64,607.0 747.76,606.9 747.88,604.1 748.00,604.3 748.12,604.5 748.24,602.1 748.36,601.6 748.48,596.4 748.60,595.2 748.72,594.6 748.84,596.4 748.96,591.8 749.08,594.4 749.20,595.5 749.32,594.4 749.44,591.1 749.56,593.6 749.68,594.9 749.80,593.4 749.92,593.2 750.03,595.4 750.15,592.6 750.27,592.4 750.39,590.4 750.51,593.4 750.63,594.6 750.75,594.0 750.87,592.8 750.99,593.9 751.11,594.3 751.23,594.2 751.35,593.0 751.47,592.3 751.58,589.6 751.70,590.6 751.82,590.3 751.94,591.1 752.06,594.2 752.18,592.8 752.30,595.3 752.42,592.2 752.54,590.5 752.66,594.3 752.78,591.7 752.90,592.8 753.02,589.2 753.13,591.2 753.25,592.3 753.37,592.3 753.49,591.9 753.61,593.1 753.73,590.5 753.85,592.9 753.97,593.4 754.09,591.1 754.21,594.0 754.33,589.5 754.45,588.3 754.57,591.1 754.68,588.4 754.80,588.5 754.92,589.0 755.04,590.6 755.16,589.1 755.28,592.0 755.40,588.4 755.52,592.9 755.64,588.2 755.76,589.9 755.88,591.1 756.00,590.5 756.12,593.1 756.24,590.2 756.36,592.7 756.48,593.0 756.61,591.1 756.73,593.3 756.85,592.2 756.97,593.9 757.09,595.8 757.21,596.9 757.33,594.2 757.45,599.0 757.57,596.7 757.69,598.8 757.81,596.0 757.93,600.3 758.05,600.4 758.17,600.6 758.29,601.0 758.41,596.7 758.53,602.8 758.65,600.4 758.77,600.1 758.89,604.3 759.02,599.5 759.14,599.2 759.26,604.5 759.38,603.2 759.50,600.1 759.62,602.1 759.74,603.5 759.86,601.3 759.98,605.5 760.10,607.1 760.22,602.6 760.34,601.8 760.46,602.6 760.58,601.6 760.70,599.8 760.82,600.2 760.93,597.7 761.05,600.1 761.17,597.2 761.29,597.1 761.41,595.8 761.53,592.7 761.65,591.8 761.77,589.2 761.89,587.9 762.01,591.3 762.13,589.4 762.25,587.4 762.37,588.4 762.48,588.2 762.60,585.3 762.72,584.2 762.84,583.6 762.96,584.5 763.08,577.9 763.20,578.7 763.32,580.2 763.44,578.8 763.56,577.2 763.68,576.2 763.80,577.4 763.92,575.4 764.03,578.4 764.15,577.9 764.27,581.0 764.39,579.0 764.51,575.7 764.63,580.7 764.75,577.9 764.87,576.8 764.99,579.2 765.11,578.6 765.23,575.9 765.35,577.2 765.47,578.4 765.58,579.4 765.70,577.7 765.82,575.7 765.94,578.7 766.06,578.8 766.18,574.0 766.30,576.7 766.42,576.4 766.54,579.0 766.66,574.7 766.78,577.8 766.90,577.4 767.02,574.3 767.13,573.1 767.25,575.8 767.37,573.4 767.49,578.1 767.61,575.5 767.73,576.4 767.85,571.4 767.97,576.2 768.09,578.2 768.21,573.6 768.33,572.2 768.45,571.4 768.57,571.2 768.68,572.5 768.80,575.0 768.92,575.8 769.04,575.2 769.16,574.7 769.28,571.5 769.40,569.4 769.52,568.2 769.65,569.9 769.77,567.6 769.89,564.0 770.02,563.5 770.14,564.3 770.26,563.6 770.38,563.0 770.51,558.8 770.63,562.5 770.75,556.3 770.88,558.2 771.00,554.6 771.12,559.6 771.24,560.7 771.36,555.3 771.48,561.0 771.60,557.5 771.72,558.0 771.84,558.9 771.96,555.9 772.08,558.6 772.21,561.1 772.33,560.8 772.45,557.7 772.57,560.2 772.69,563.7 772.81,562.0 772.93,558.4 773.05,565.4 773.17,562.6 773.29,564.1 773.41,561.0 773.53,564.4 773.65,560.9 773.77,565.8 773.89,565.6 774.01,566.4 774.13,564.9 774.25,562.2 774.37,561.8 774.49,561.0 774.62,561.6 774.74,563.7 774.86,563.4 774.98,563.3 775.10,567.1 775.22,561.8 775.34,561.9 775.46,561.9 775.58,567.5 775.70,562.4 775.82,565.8 775.94,564.4 776.06,566.7 776.18,566.3 776.30,564.0 776.42,563.8 776.53,563.3 776.65,566.8 776.77,563.1 776.89,564.1 777.01,561.9 777.13,560.9 777.25,562.1 777.37,562.2 777.49,564.2 777.61,561.5 777.73,561.9 777.85,560.8 777.97,558.7 778.08,563.0 778.20,562.4 778.32,561.9 778.44,557.5 778.56,560.4 778.68,556.1 778.80,559.6 778.92,557.7 779.04,558.1 779.16,560.2 779.28,555.1 779.40,557.6 779.52,557.7 779.63,555.6 779.75,552.4 779.87,557.3 779.99,552.6 780.11,553.3 780.23,553.2 780.35,557.5 780.47,554.7 780.59,555.4 780.71,557.6 780.83,551.3 780.95,554.7 781.07,552.4 781.18,553.9 781.30,551.1 781.42,555.8 781.54,549.7 781.66,552.9 781.78,551.9 781.90,554.0 782.02,553.7 782.14,552.7 782.26,547.0 782.38,550.6 782.50,550.2 782.62,546.9 782.74,546.5 782.86,547.1 782.98,551.3 783.11,544.9 783.23,544.4 783.35,549.3 783.47,546.4 783.59,547.9 783.71,549.7 783.83,545.7 783.95,550.4 784.07,546.0 784.19,549.7 784.31,548.7 784.43,548.4 784.55,546.8 784.67,546.6 784.79,551.0 784.91,546.6 785.03,546.2 785.15,546.5 785.27,545.0 785.39,549.8 785.52,545.5 785.64,543.3 785.76,543.2 785.88,546.0 786.00,544.8 786.12,549.0 786.24,546.0 786.36,543.6 786.48,542.3 786.60,544.2 786.72,545.7 786.84,547.8 786.96,547.3 787.08,545.8 787.20,547.0 787.32,548.7 787.43,549.0 787.55,547.9 787.67,548.2 787.79,544.0 787.91,549.2 788.03,548.5 788.15,545.8 788.27,549.1 788.39,550.5 788.51,545.9 788.63,545.9 788.75,545.6 788.87,549.9 788.98,549.5 789.10,550.6 789.22,551.8 789.34,554.2 789.46,552.4 789.58,553.3 789.70,549.8 789.82,552.8 789.94,549.2 790.06,546.6 790.18,545.2 790.30,545.8 790.42,545.8 790.53,548.0 790.65,541.4 790.77,542.1 790.89,546.6 791.01,545.1 791.13,544.2 791.25,540.3 791.37,542.1 791.49,537.9 791.61,538.6 791.73,540.8 791.85,540.1 791.97,540.7 792.08,537.0 792.20,535.0 792.32,535.6 792.44,536.8 792.56,534.9 792.68,536.9 792.80,536.0 792.92,531.8 793.04,531.6 793.16,533.8 793.28,528.8 793.40,532.0 793.52,533.9 793.64,528.3 793.76,528.3 793.88,528.2 794.00,528.3 794.12,531.7 794.24,526.6 794.36,529.0 794.47,529.8 794.59,531.6 794.71,525.5 794.83,527.1 794.95,526.6 795.07,526.8 795.19,526.2 795.31,525.0 795.43,528.9 795.55,521.6 795.67,527.5 795.79,527.1 795.91,522.0 796.03,527.5 796.15,522.5 796.27,526.8 796.39,527.0 796.51,522.5 796.63,526.8 796.75,521.9 796.87,522.0 796.99,525.6 797.11,522.5 797.23,523.2 797.35,518.6 797.47,521.0 797.59,524.3 797.71,521.7 797.83,518.5 797.94,522.2 798.06,521.0 798.18,518.1 798.30,524.3 798.42,518.5 798.54,520.5 798.66,521.2 798.78,517.5 798.90,519.0 799.02,520.5 799.14,521.6 799.26,521.6 799.38,516.5 799.50,519.2 799.62,512.9 799.74,515.5 799.86,514.8 799.98,512.1 800.10,516.2 800.22,514.4 800.34,512.5 800.46,511.2 800.58,513.4 800.70,509.3 800.81,507.1 800.93,510.5 801.05,505.2 801.17,503.1 801.29,508.6 801.41,503.3 801.53,500.7 801.65,500.5 801.77,502.5 801.89,504.1 802.01,498.8 802.13,503.1 802.25,498.2 802.37,494.6 802.49,495.5 802.61,495.6 802.73,494.2 802.85,496.3 802.97,497.3 803.09,496.5 803.20,496.9 803.32,492.3 803.44,488.3 803.56,488.7 803.68,492.4 803.80,487.8 803.92,488.2 804.04,487.6 804.16,489.8 804.28,484.5 804.40,484.7 804.52,491.4 804.64,495.0 804.76,492.2 804.88,493.0 804.99,496.8 805.11,500.8 805.23,499.7 805.35,506.1 805.47,509.3 805.59,514.6 805.71,511.3 805.82,516.3 805.94,520.5 806.06,519.7 806.18,523.6 806.30,527.0 806.42,522.0 806.54,522.0 806.66,522.6 806.78,521.3 806.90,517.7 807.02,517.1 807.15,515.0 807.27,519.4 807.39,515.1 807.51,509.5 807.63,516.3 807.75,515.2 807.87,513.4 807.99,513.2 808.11,505.7 808.23,507.5 808.35,503.1 808.48,504.5 808.60,506.5 808.72,503.7 808.84,503.8 808.96,503.6 809.08,498.0 809.20,496.4 809.32,497.5 809.44,504.7 809.55,505.0 809.67,507.0 809.79,506.9 809.91,508.4 810.02,507.9 810.14,513.9 810.26,515.6 810.38,511.2 810.49,511.5 810.61,513.7 810.73,519.0 810.85,521.4 810.96,525.7 811.08,521.4 811.20,525.1 811.32,526.6 811.44,523.8 811.56,523.4 811.68,520.6 811.80,522.8 811.92,526.5 812.04,520.7 812.16,519.9 812.28,518.2 812.40,522.6 812.52,519.9 812.64,518.5 812.76,516.6 812.88,523.3 813.00,518.3 813.12,516.4 813.24,516.3 813.36,516.1 813.48,516.1 813.60,518.0 813.72,514.7 813.84,517.1 813.96,515.5 814.08,516.9 814.20,518.0 814.32,518.4 814.44,514.5 814.56,518.3 814.68,511.1 814.80,515.0 814.92,511.6 815.04,513.7 815.16,512.0 815.28,510.0 815.40,514.2 815.52,509.7 815.64,508.9 815.76,514.8 815.88,508.8 816.00,513.8 816.12,509.0 816.24,512.7 816.36,510.4 816.48,507.8 816.60,513.6 816.72,509.2 816.84,507.6 816.96,504.7 817.08,508.0 817.20,506.0 817.32,506.7 817.44,504.8 817.56,508.7 817.68,503.5 817.80,502.4 817.92,508.4 818.04,505.9 818.16,507.0 818.28,502.7 818.40,504.4 818.52,504.1 818.64,505.9 818.76,501.6 818.88,499.4 819.00,504.7 819.12,497.7 819.24,503.6 819.36,497.7 819.48,495.5 819.60,502.1 819.72,499.4 819.84,495.3 819.96,495.6 820.08,496.5 820.21,499.3 820.33,497.2 820.45,498.4 820.57,494.0 820.69,498.7 820.81,496.4 820.93,498.1 821.05,495.3 821.17,494.0 821.29,495.0 821.41,490.5 821.53,496.4 821.65,494.7 821.77,489.5 821.89,495.9 822.01,491.7 822.13,494.2 822.25,494.2 822.38,493.1 822.50,492.2 822.62,490.4 822.74,489.0 822.86,484.2 822.98,491.3 823.10,485.1 823.22,487.0 823.34,484.4 823.46,486.4 823.58,492.0 823.70,486.1 823.82,488.9 823.94,488.1 824.06,487.2 824.18,486.1 824.30,489.5 824.42,482.2 824.55,490.3 824.67,481.2 824.79,486.8 824.91,486.0 825.03,483.1 825.15,482.9 825.27,488.0 825.39,480.8 825.51,484.7 825.63,478.7 825.75,480.1 825.87,478.3 825.99,481.4 826.11,479.2 826.23,476.7 826.35,479.2 826.47,478.5 826.59,476.4 826.72,475.6 826.84,476.9 826.96,472.4 827.08,473.7 827.20,476.2 827.32,473.2 827.44,474.0 827.56,474.2 827.68,473.5 827.80,474.7 827.92,472.9 828.04,477.8 828.16,475.2 828.28,481.2 828.40,477.8 828.52,483.6 828.65,487.5 828.77,483.5 828.89,483.7 829.01,493.9 829.13,495.2 829.25,489.2 829.37,491.2 829.49,495.6 829.61,494.6 829.73,492.9 829.85,498.8 829.98,502.9 830.10,505.2 830.22,506.8 830.34,505.3 830.46,506.0 830.58,506.7 830.70,512.7 830.82,511.5 830.94,508.0 831.07,507.6 831.19,513.8 831.31,511.6 831.43,510.2 831.55,507.8 831.68,510.0 831.80,509.1 831.92,506.9 832.04,508.1 832.16,507.0 832.28,503.7 832.41,505.9 832.53,506.3 832.65,504.6 832.77,500.7 832.89,501.8 833.02,502.8 833.14,503.5 833.26,501.5 833.38,502.1 833.50,498.5 833.62,502.3 833.75,497.4 833.87,500.0 833.99,496.7 834.11,494.9 834.23,499.3 834.36,498.7 834.48,495.5 834.60,495.9 834.72,498.1 834.84,494.0 834.96,501.6 835.08,503.6 835.20,507.9 835.33,508.3 835.45,509.1 835.57,513.8 835.69,516.4 835.81,515.8 835.93,520.1 836.05,521.7 836.17,526.1 836.29,531.1 836.41,531.5 836.53,535.2 836.65,534.4 836.77,541.2 836.90,540.5 837.02,544.6 837.14,546.5 837.26,546.9 837.38,549.7 837.50,552.0 837.62,548.5 837.74,545.6 837.86,549.9 837.98,545.4 838.10,541.0 838.23,542.4 838.35,540.7 838.47,536.7 838.59,534.8 838.71,534.1 838.83,532.7 838.95,528.3 839.07,524.5 839.19,524.4 839.31,522.4 839.43,518.2 839.55,522.2 839.67,518.9 839.80,517.1 839.92,513.3 840.04,514.2 840.16,513.8 840.28,511.1 840.40,505.5 840.52,506.4 840.64,508.6 840.76,508.9 840.88,508.0 841.00,508.5 841.12,506.3 841.24,505.2 841.36,502.3 841.48,505.7 841.61,502.3 841.73,502.9 841.85,503.2 841.97,503.8 842.09,495.6 842.21,498.7 842.33,497.2 842.45,496.1 842.57,496.3 842.69,495.6 842.81,496.0 842.93,492.7 843.05,494.4 843.17,491.2 843.29,490.5 843.41,498.0 843.53,490.5 843.65,493.1 843.78,494.9 843.90,495.2 844.02,488.1 844.14,488.8 844.26,489.5 844.38,494.6 844.50,491.9 844.62,493.4 844.74,493.1 844.86,492.7 844.98,491.2 845.10,484.9 845.22,486.4 845.34,482.0 845.46,489.7 845.58,483.4 845.70,485.8 845.82,488.8 845.95,481.7 846.07,484.8 846.19,479.0 846.31,481.9 846.43,479.1 846.55,482.7 846.67,474.6 846.79,474.9 846.91,476.2 847.03,473.6 847.15,478.6 847.27,474.8 847.39,477.7 847.51,476.9 847.63,469.8 847.75,475.5 847.87,469.7 847.99,470.5 848.12,469.8 848.24,469.1 848.36,471.6 848.48,471.6 848.60,473.5 848.72,468.3 848.84,468.2 848.96,467.7 849.08,469.4 849.20,471.0 849.32,464.0 849.44,468.7 849.57,467.4 849.69,468.7 849.81,477.0 849.93,471.9 850.05,476.0 850.18,478.1 850.30,475.4 850.42,480.0 850.54,474.4 850.66,474.8 850.78,478.5 850.91,480.8 851.03,484.0 851.15,477.6 851.27,482.7 851.39,484.4 851.52,485.5 851.64,488.3 851.76,486.7 851.88,486.7 852.00,485.5 852.12,487.6 852.25,488.4 852.37,488.9 852.49,487.7 852.61,487.4 852.73,491.2 852.86,494.7 852.98,496.9 853.10,491.6 853.22,493.1 853.34,489.4 853.46,490.5 853.58,491.4 853.70,491.2 853.82,486.9 853.94,486.0 854.06,482.6 854.18,486.2 854.30,480.7 854.41,485.0 854.53,484.3 854.65,483.9 854.77,482.1 854.89,480.9 855.01,474.1 855.13,476.4 855.25,472.7 855.37,477.2 855.49,473.9 855.61,473.0 855.73,476.1 855.85,473.5 855.97,470.2 856.09,465.9 856.21,471.2 856.33,470.3 856.45,465.7 856.57,461.4 856.69,460.7 856.80,460.1 856.92,459.1 857.04,460.5 857.16,460.9 857.28,456.2 857.40,459.4 857.52,456.9 857.64,460.2 857.76,459.0 857.88,454.1 858.00,450.7 858.12,460.3 858.24,455.5 858.36,461.0 858.48,461.9 858.59,460.7 858.71,459.1 858.83,468.2 858.95,470.1 859.07,469.4 859.19,467.0 859.31,471.3 859.42,474.4 859.54,476.5 859.66,471.1 859.78,479.7 859.90,478.3 860.02,474.5 860.14,477.5 860.26,478.2 860.38,473.6 860.50,474.7 860.62,474.3 860.74,472.2 860.86,474.5 860.98,472.1 861.10,473.7 861.22,472.2 861.34,474.6 861.47,470.9 861.59,475.6 861.71,475.2 861.83,467.8 861.95,471.0 862.07,469.1 862.19,468.9 862.31,466.1 862.43,467.6 862.55,469.9 862.67,468.6 862.79,464.4 862.91,464.7 863.03,468.8 863.15,465.0 863.27,468.6 863.39,466.1 863.51,461.4 863.63,465.0 863.75,468.1 863.87,466.4 863.99,466.5 864.11,459.9 864.23,462.2 864.36,459.2 864.48,459.0 864.60,457.5 864.72,460.5 864.84,460.9 864.96,456.6 865.08,455.4 865.20,457.9 865.32,452.9 865.44,457.4 865.56,457.8 865.68,456.7 865.80,456.7 865.92,453.7 866.04,454.2 866.16,456.9 866.28,451.1 866.40,451.9 866.52,455.5 866.65,452.1 866.77,453.9 866.89,445.2 867.01,452.8 867.13,448.1 867.25,450.7 867.37,442.3 867.49,449.8 867.61,449.5 867.73,448.5 867.85,444.0 867.98,441.7 868.10,446.1 868.22,444.4 868.34,439.8 868.46,439.6 868.58,445.7 868.70,440.3 868.82,437.2 868.94,438.0 869.06,436.7 869.18,440.4 869.30,442.7 869.42,441.1 869.55,434.3 869.67,436.0 869.79,437.1 869.91,435.0 870.03,437.9 870.15,435.3 870.27,437.4 870.39,432.1 870.51,436.5 870.63,429.3 870.75,433.9 870.88,430.8 871.00,432.5 871.12,426.6 871.24,430.7 871.36,427.7 871.48,434.1 871.60,426.9 871.72,427.5 871.84,426.8 871.96,427.1 872.08,428.3 872.20,425.0 872.32,423.8 872.44,423.4 872.56,427.8 872.68,425.0 872.80,420.1 872.92,419.8 873.04,427.0 873.16,426.1 873.28,418.8 873.40,418.2 873.52,415.4 873.64,416.8 873.76,421.1 873.88,414.9 874.00,416.3 874.12,418.7 874.24,417.6 874.36,414.0 874.48,414.4 874.60,411.8 874.72,414.5 874.84,408.1 874.96,413.0 875.08,416.7 875.20,417.6 875.32,416.0 875.44,411.6 875.56,408.6 875.68,409.4 875.80,407.3 875.92,414.7 876.04,406.4 876.16,406.6 876.28,407.7 876.40,410.0 876.52,408.6 876.64,405.2 876.76,405.8 876.88,401.7 877.00,402.0 877.12,403.5 877.24,409.9 877.36,409.8 877.48,402.0 877.60,408.4 877.72,407.9 877.84,402.8 877.96,397.8 878.08,404.0 878.20,396.9 878.32,404.4 878.44,399.8 878.56,398.1 878.68,402.8 878.80,395.3 878.92,396.2 879.04,401.5 879.16,394.3 879.28,396.6 879.40,390.9 879.51,399.1 879.63,406.5 879.74,417.6 879.86,416.3 879.97,428.5 880.09,433.7 880.20,437.6 880.33,449.4 880.47,456.4 880.60,473.3 880.73,483.9 880.87,498.9 881.00,518.3 881.13,532.1 881.27,549.4 881.40,564.2 881.53,552.9 881.67,536.1 881.80,529.3 881.93,515.2 882.07,496.9 882.20,481.1 882.33,492.8 882.47,513.4 882.60,524.3 882.73,502.9 882.87,488.8 883.00,469.5 883.13,483.6 883.27,493.8 883.40,510.0 883.53,494.9 883.67,484.5 883.80,468.6 883.92,473.3 884.05,476.6 884.17,480.0 884.30,490.7 884.42,482.7 884.55,474.9 884.67,463.1 884.80,453.7 884.92,464.8 885.03,460.2 885.15,465.4 885.27,476.5 885.38,478.2 885.50,477.5 885.62,470.3 885.75,466.7 885.88,451.5 886.00,444.1 886.12,451.0 886.25,460.8 886.38,465.6 886.50,466.1 886.62,462.5 886.73,462.9 886.85,451.6 886.97,453.7 887.08,446.8 887.20,441.0 887.31,440.7 887.43,441.1 887.54,448.9 887.66,455.4 887.77,451.9 887.89,454.4 888.00,457.6 888.12,455.5 888.24,456.0 888.36,448.1 888.48,443.2 888.60,442.7 888.73,447.3 888.87,447.8 889.00,450.0"/><polyline fill="none" stroke="#e8392c" stroke-width="2.6" stroke-linejoin="round" points="114.40,765.8 114.52,764.6 114.64,765.8 114.76,766.3 114.88,766.6 115.00,765.6 115.12,765.8 115.24,766.7 115.37,767.5 115.49,765.5 115.61,768.6 115.73,767.0 115.85,766.1 115.97,767.0 116.09,766.9 116.21,767.1 116.33,767.4 116.45,766.9 116.57,769.0 116.69,767.5 116.81,767.8 116.93,768.5 117.05,770.3 117.17,768.6 117.30,768.5 117.42,769.2 117.54,769.4 117.66,769.5 117.78,770.4 117.90,769.5 118.02,770.6 118.14,770.8 118.26,770.3 118.38,771.4 118.50,770.5 118.62,769.2 118.74,772.5 118.86,771.5 118.98,771.3 119.10,772.9 119.23,772.7 119.35,770.7 119.47,771.4 119.59,771.2 119.71,772.8 119.83,770.5 119.95,773.3 120.07,772.7 120.19,772.4 120.31,772.0 120.43,773.0 120.55,772.2 120.67,772.6 120.79,772.7 120.91,773.4 121.03,773.1 121.16,772.6 121.28,774.0 121.40,775.0 121.52,774.9 121.64,774.7 121.76,773.6 121.88,775.7 122.00,774.4 122.12,774.7 122.24,773.8 122.36,774.0 122.48,774.3 122.60,774.2 122.72,774.2 122.84,774.0 122.96,773.2 123.08,774.2 123.20,773.3 123.32,772.3 123.44,771.8 123.56,772.2 123.68,773.8 123.80,772.1 123.92,773.8 124.04,771.5 124.16,772.3 124.28,771.0 124.40,771.9 124.52,772.9 124.64,772.5 124.76,770.5 124.88,772.5 125.00,770.3 125.12,769.2 125.24,771.4 125.36,771.6 125.48,771.0 125.60,771.1 125.72,769.1 125.84,768.6 125.96,768.8 126.08,768.2 126.20,768.6 126.32,769.2 126.44,770.0 126.56,767.5 126.68,770.2 126.80,769.6 126.92,769.0 127.04,769.4 127.16,769.4 127.28,768.5 127.40,766.4 127.52,767.7 127.64,768.2 127.76,766.0 127.88,767.7 128.00,765.8 128.12,767.1 128.24,766.3 128.36,765.1 128.48,766.0 128.60,764.4 128.72,766.7 128.84,765.0 128.96,765.2 129.08,765.0 129.20,763.6 129.32,765.6 129.44,764.5 129.56,763.6 129.68,764.9 129.80,764.4 129.92,762.4 130.04,762.4 130.16,763.1 130.28,762.7 130.40,762.6 130.52,762.2 130.64,764.8 130.76,764.1 130.88,762.4 131.00,761.5 131.12,763.3 131.24,764.1 131.36,761.7 131.48,761.3 131.60,760.2 131.72,763.3 131.84,760.1 131.96,762.7 132.08,761.4 132.20,760.1 132.32,760.9 132.44,759.6 132.56,760.6 132.68,762.2 132.80,762.4 132.92,761.7 133.03,761.9 133.15,763.7 133.27,762.5 133.39,763.4 133.51,763.9 133.63,763.0 133.75,762.7 133.87,762.8 133.99,764.7 134.11,764.4 134.23,766.1 134.35,766.2 134.47,764.4 134.58,766.9 134.70,767.6 134.82,765.2 134.94,766.5 135.06,768.0 135.18,765.8 135.30,766.6 135.42,768.4 135.54,768.4 135.66,767.7 135.78,766.8 135.90,765.9 136.02,766.2 136.15,765.5 136.27,767.4 136.39,767.4 136.51,767.2 136.63,766.9 136.75,767.9 136.87,767.4 136.99,767.2 137.11,766.6 137.23,768.9 137.35,767.8 137.47,767.1 137.59,766.7 137.72,768.5 137.84,767.9 137.96,767.3 138.08,767.9 138.20,767.6 138.32,768.2 138.44,767.9 138.56,768.8 138.68,768.6 138.80,769.8 138.92,770.1 139.04,768.8 139.16,768.9 139.28,769.6 139.41,770.2 139.53,770.1 139.65,768.4 139.77,768.6 139.89,770.3 140.01,768.6 140.13,769.4 140.25,769.7 140.37,768.6 140.49,771.7 140.61,769.8 140.73,771.5 140.85,771.3 140.98,771.5 141.10,770.3 141.22,771.5 141.34,771.5 141.46,770.4 141.58,769.7 141.70,772.3 141.82,771.3 141.94,770.5 142.06,770.0 142.18,771.4 142.29,770.4 142.41,769.0 142.53,771.0 142.65,768.8 142.77,768.8 142.89,769.8 143.01,770.2 143.13,770.4 143.25,769.5 143.36,770.3 143.48,768.7 143.60,767.9 143.72,767.5 143.84,769.4 143.96,768.8 144.08,769.1 144.20,767.9 144.32,767.1 144.43,767.4 144.55,765.6 144.67,766.1 144.79,766.3 144.91,766.5 145.03,766.5 145.15,764.3 145.27,765.1 145.38,766.3 145.50,765.0 145.62,766.1 145.74,764.6 145.86,764.2 145.98,763.0 146.10,763.3 146.22,762.0 146.34,763.0 146.45,764.5 146.57,764.2 146.69,763.5 146.81,762.8 146.93,762.8 147.05,762.5 147.17,762.3 147.29,763.3 147.41,762.8 147.52,761.5 147.64,760.9 147.76,761.6 147.88,759.9 148.00,760.9 148.12,759.3 148.24,760.0 148.36,759.7 148.48,760.1 148.60,761.3 148.72,760.4 148.84,759.8 148.97,760.6 149.09,758.7 149.21,759.7 149.33,759.3 149.45,758.1 149.57,759.5 149.69,758.0 149.81,758.6 149.93,757.1 150.05,759.2 150.17,757.3 150.29,759.4 150.41,756.1 150.53,758.4 150.65,756.6 150.77,757.4 150.90,756.9 151.02,755.1 151.14,757.6 151.26,756.9 151.38,755.9 151.50,754.4 151.62,755.2 151.74,756.6 151.86,756.3 151.98,755.1 152.10,755.7 152.22,754.3 152.34,755.7 152.46,756.5 152.58,755.7 152.70,755.8 152.83,754.3 152.95,755.6 153.07,753.2 153.19,754.1 153.31,752.9 153.43,752.9 153.55,753.9 153.67,752.2 153.79,753.2 153.91,753.8 154.03,753.3 154.15,753.3 154.27,752.0 154.39,753.1 154.51,752.0 154.63,750.1 154.76,749.9 154.88,751.4 155.00,749.6 155.12,750.5 155.24,749.1 155.36,748.6 155.48,749.1 155.60,748.3 155.72,750.3 155.84,750.9 155.96,750.7 156.07,749.7 156.19,750.4 156.31,749.0 156.43,750.9 156.55,750.6 156.67,751.2 156.79,749.8 156.91,750.4 157.03,753.1 157.14,752.6 157.26,753.1 157.38,751.7 157.50,754.0 157.62,754.2 157.74,754.8 157.86,755.0 157.97,754.2 158.09,752.6 158.21,754.9 158.33,754.6 158.45,755.9 158.57,755.6 158.69,754.4 158.81,754.5 158.93,755.7 159.04,755.1 159.16,757.3 159.28,756.2 159.40,756.4 159.52,756.0 159.64,756.1 159.76,756.9 159.88,754.6 160.01,757.2 160.13,756.1 160.25,755.5 160.37,756.3 160.49,753.9 160.61,754.3 160.73,754.0 160.85,754.6 160.97,755.1 161.10,754.0 161.22,753.8 161.34,755.2 161.46,752.8 161.58,755.2 161.70,752.2 161.82,755.2 161.94,754.4 162.07,754.5 162.19,754.4 162.31,753.4 162.43,752.7 162.55,754.1 162.67,753.2 162.79,751.5 162.91,751.8 163.03,751.7 163.16,750.8 163.28,750.6 163.40,752.8 163.52,750.0 163.64,749.1 163.76,749.3 163.88,749.0 164.00,749.4 164.12,748.5 164.25,748.1 164.37,748.5 164.49,750.5 164.61,750.5 164.73,749.9 164.85,749.3 164.97,750.5 165.09,749.9 165.22,749.2 165.34,750.0 165.46,749.9 165.58,747.8 165.70,749.5 165.82,748.6 165.94,747.9 166.06,748.8 166.18,746.6 166.29,747.2 166.41,747.3 166.53,746.7 166.65,747.2 166.77,749.7 166.89,747.9 167.01,747.6 167.13,747.5 167.25,747.2 167.36,747.5 167.48,747.0 167.60,747.4 167.72,745.4 167.84,746.8 167.96,747.0 168.08,746.3 168.20,747.7 168.32,747.2 168.43,748.2 168.55,746.3 168.67,745.9 168.79,747.3 168.91,746.1 169.03,745.0 169.15,744.5 169.27,745.2 169.38,746.6 169.50,746.0 169.62,746.9 169.74,747.6 169.86,747.6 169.98,746.3 170.10,747.9 170.22,746.7 170.34,747.6 170.45,745.2 170.57,746.2 170.69,747.8 170.81,747.0 170.93,744.7 171.05,745.6 171.17,745.1 171.29,746.3 171.41,743.9 171.52,745.6 171.64,743.7 171.76,744.9 171.88,746.2 172.00,746.0 172.12,743.6 172.24,744.1 172.36,745.0 172.48,746.3 172.60,743.6 172.72,743.5 172.84,744.9 172.96,746.1 173.08,743.9 173.20,744.3 173.32,743.2 173.44,744.1 173.56,742.3 173.68,745.8 173.80,745.8 173.92,744.0 174.04,745.3 174.16,743.7 174.29,745.0 174.41,743.0 174.53,744.3 174.65,743.7 174.77,743.6 174.89,742.6 175.01,744.2 175.13,743.1 175.25,743.5 175.37,742.3 175.49,745.0 175.61,742.0 175.73,742.6 175.85,744.1 175.97,744.1 176.09,742.0 176.21,741.5 176.33,741.5 176.45,743.1 176.57,743.5 176.69,741.6 176.81,743.9 176.93,742.6 177.05,742.2 177.17,743.2 177.29,743.5 177.41,744.5 177.53,742.7 177.65,741.1 177.77,741.8 177.89,743.6 178.01,741.1 178.13,743.2 178.25,741.7 178.37,740.9 178.49,742.2 178.61,744.0 178.74,742.9 178.86,741.2 178.98,743.3 179.10,741.1 179.22,742.9 179.34,741.7 179.46,742.1 179.58,741.6 179.70,741.0 179.82,740.4 179.94,741.2 180.06,739.2 180.18,739.6 180.30,740.3 180.42,739.6 180.54,740.4 180.66,738.7 180.78,739.6 180.90,740.1 181.02,741.1 181.14,738.4 181.26,739.3 181.38,741.6 181.49,739.0 181.61,741.9 181.73,742.0 181.85,739.6 181.97,742.7 182.09,740.1 182.21,742.2 182.32,743.1 182.44,742.9 182.56,744.7 182.68,743.9 182.80,744.7 182.92,743.5 183.04,743.6 183.16,745.2 183.28,742.1 183.39,743.8 183.51,742.7 183.63,743.1 183.75,744.9 183.87,744.6 183.99,746.5 184.11,746.4 184.22,745.2 184.34,746.8 184.46,745.4 184.58,745.1 184.70,745.8 184.82,746.7 184.94,746.3 185.06,745.2 185.17,743.5 185.29,742.7 185.41,743.6 185.53,742.5 185.65,741.9 185.77,742.1 185.89,740.3 186.01,739.4 186.12,737.5 186.24,739.4 186.36,736.0 186.48,737.7 186.60,738.2 186.72,736.6 186.84,735.4 186.96,734.7 187.07,733.1 187.19,733.1 187.31,734.0 187.43,733.1 187.55,730.0 187.67,729.4 187.79,731.7 187.91,730.8 188.03,728.4 188.14,730.7 188.26,726.8 188.38,727.2 188.50,728.3 188.62,727.0 188.74,728.5 188.86,729.6 188.98,727.9 189.10,727.7 189.22,730.9 189.35,727.8 189.47,729.0 189.59,730.7 189.71,731.1 189.83,731.4 189.95,730.0 190.07,732.2 190.19,731.4 190.31,732.7 190.43,734.5 190.55,732.0 190.67,733.3 190.79,733.6 190.92,736.2 191.04,735.8 191.16,735.1 191.28,735.9 191.40,735.8 191.52,736.2 191.64,736.6 191.76,736.6 191.88,738.8 192.00,738.4 192.12,737.1 192.24,737.7 192.36,738.7 192.48,738.1 192.61,738.8 192.73,741.4 192.85,740.4 192.97,742.3 193.09,740.7 193.21,740.3 193.33,742.7 193.45,740.5 193.57,743.1 193.69,742.9 193.81,741.8 193.93,743.0 194.05,744.7 194.18,746.3 194.30,743.8 194.42,746.2 194.54,744.3 194.66,747.4 194.78,746.0 194.90,748.4 195.02,747.2 195.14,744.6 195.26,744.5 195.38,745.6 195.50,742.7 195.61,744.4 195.73,741.3 195.85,741.5 195.97,741.8 196.09,741.7 196.21,738.1 196.33,739.8 196.45,736.9 196.57,736.4 196.69,736.7 196.80,736.2 196.92,735.6 197.04,736.1 197.16,735.0 197.28,733.6 197.40,730.2 197.52,732.3 197.64,730.4 197.76,728.3 197.88,729.5 198.00,730.6 198.11,729.0 198.23,725.7 198.35,728.2 198.47,726.2 198.59,725.3 198.71,723.5 198.83,725.4 198.95,724.3 199.07,722.7 199.19,723.6 199.30,723.1 199.42,720.0 199.54,722.2 199.66,720.8 199.78,719.2 199.90,719.1 200.02,719.2 200.14,717.3 200.26,719.4 200.38,717.7 200.50,716.8 200.62,716.4 200.74,716.5 200.87,718.7 200.99,717.2 201.11,719.2 201.23,716.0 201.35,717.6 201.47,717.4 201.59,717.7 201.71,718.3 201.83,718.0 201.95,717.7 202.07,717.7 202.19,716.6 202.31,717.4 202.43,717.0 202.55,717.6 202.67,720.4 202.80,721.5 202.92,718.0 203.04,718.0 203.16,718.6 203.28,721.2 203.40,719.6 203.52,717.6 203.64,718.8 203.76,718.8 203.88,719.5 204.00,719.9 204.12,722.0 204.24,720.6 204.36,723.2 204.48,719.9 204.60,722.8 204.73,720.6 204.85,722.8 204.97,720.2 205.09,723.5 205.21,720.7 205.33,723.7 205.45,721.9 205.57,720.9 205.69,721.1 205.81,721.6 205.93,721.4 206.05,722.6 206.17,725.4 206.29,725.3 206.41,721.6 206.53,722.7 206.66,723.9 206.78,722.6 206.90,725.5 207.02,723.6 207.14,724.0 207.26,724.2 207.38,725.3 207.50,725.5 207.62,725.1 207.74,726.9 207.86,725.9 207.97,729.2 208.09,730.3 208.21,731.6 208.33,731.0 208.45,733.5 208.57,734.8 208.69,735.2 208.81,735.9 208.93,737.0 209.04,737.5 209.16,738.2 209.28,740.1 209.40,740.0 209.52,741.5 209.64,740.6 209.76,742.4 209.88,744.6 209.99,743.4 210.11,746.4 210.23,746.7 210.35,746.6 210.47,748.1 210.59,746.7 210.71,750.5 210.83,749.0 210.94,750.8 211.06,753.3 211.18,751.9 211.30,755.5 211.42,754.2 211.54,755.2 211.66,753.9 211.78,754.0 211.90,752.5 212.02,753.4 212.14,752.1 212.26,752.2 212.38,751.9 212.50,750.7 212.62,752.8 212.74,751.1 212.86,749.3 212.98,748.6 213.10,751.2 213.22,747.5 213.34,749.1 213.46,748.7 213.58,746.5 213.70,748.8 213.82,747.5 213.94,747.3 214.06,746.3 214.18,744.8 214.30,745.5 214.42,746.1 214.54,747.1 214.66,747.2 214.78,744.0 214.90,743.0 215.02,744.3 215.14,745.2 215.26,745.1 215.38,741.7 215.50,743.7 215.62,740.9 215.74,742.4 215.86,740.2 215.98,740.6 216.10,741.6 216.22,740.4 216.34,742.3 216.46,739.8 216.58,739.6 216.70,739.4 216.82,740.1 216.94,740.2 217.06,740.4 217.18,737.3 217.30,737.3 217.42,738.9 217.54,736.7 217.66,736.6 217.78,737.7 217.90,736.8 218.02,736.9 218.14,734.4 218.26,734.9 218.38,734.6 218.50,734.2 218.62,733.3 218.74,734.1 218.86,734.2 218.98,734.7 219.10,735.0 219.22,732.2 219.34,734.1 219.46,733.3 219.58,730.8 219.70,733.7 219.82,732.2 219.94,733.1 220.06,731.0 220.18,730.5 220.30,730.4 220.42,729.0 220.54,730.2 220.66,728.5 220.78,729.0 220.90,727.1 221.02,728.7 221.14,726.7 221.26,729.3 221.38,727.6 221.50,728.8 221.62,728.5 221.74,725.9 221.86,729.5 221.98,728.9 222.10,729.8 222.21,728.4 222.33,729.7 222.45,728.8 222.57,726.8 222.69,729.7 222.81,728.7 222.93,730.1 223.05,729.8 223.17,728.0 223.29,726.8 223.40,730.4 223.52,727.2 223.64,727.4 223.76,727.1 223.88,727.9 224.00,730.4 224.12,729.4 224.24,729.3 224.36,730.8 224.48,729.2 224.60,728.6 224.71,728.0 224.83,730.2 224.95,728.2 225.07,729.1 225.19,730.3 225.31,730.7 225.43,730.7 225.55,729.0 225.67,731.3 225.79,731.0 225.90,729.8 226.02,730.5 226.14,730.2 226.26,731.0 226.38,730.2 226.50,731.9 226.62,730.3 226.74,730.7 226.86,728.3 226.98,726.6 227.10,729.6 227.22,726.3 227.34,727.2 227.47,729.0 227.59,727.3 227.71,728.9 227.83,725.0 227.95,726.5 228.07,725.9 228.19,726.6 228.31,725.8 228.43,725.5 228.55,724.0 228.67,724.4 228.79,723.1 228.91,722.7 229.03,722.0 229.15,722.9 229.27,720.0 229.40,721.9 229.52,722.8 229.64,721.9 229.76,718.3 229.88,720.0 230.00,717.8 230.12,719.1 230.24,720.1 230.36,718.4 230.48,717.5 230.60,716.0 230.72,716.0 230.84,716.6 230.96,717.1 231.08,717.9 231.20,713.9 231.33,714.8 231.45,716.3 231.57,715.3 231.69,714.2 231.81,714.4 231.93,713.9 232.05,716.4 232.17,714.4 232.29,713.4 232.41,711.7 232.53,713.3 232.65,714.0 232.77,711.4 232.89,714.0 233.01,710.1 233.13,712.0 233.26,711.4 233.38,709.9 233.50,711.4 233.62,708.4 233.74,709.4 233.86,709.1 233.98,710.4 234.10,710.7 234.22,708.8 234.34,710.0 234.46,708.1 234.59,710.7 234.71,709.9 234.83,711.7 234.95,709.0 235.07,712.2 235.19,708.9 235.31,712.9 235.44,711.3 235.56,711.7 235.68,711.5 235.80,712.3 235.92,710.9 236.04,713.4 236.16,712.6 236.29,713.8 236.41,715.5 236.53,712.4 236.65,713.1 236.77,713.7 236.89,713.0 237.01,715.8 237.14,714.3 237.26,716.2 237.38,714.0 237.50,715.1 237.62,715.7 237.74,716.9 237.86,717.7 237.99,716.7 238.11,715.3 238.23,716.0 238.35,715.9 238.47,715.4 238.59,715.6 238.71,718.0 238.84,718.8 238.96,719.3 239.08,717.0 239.20,718.4 239.32,719.0 239.44,719.9 239.56,720.5 239.68,723.2 239.80,722.9 239.91,726.8 240.03,727.0 240.15,727.0 240.27,727.2 240.39,730.8 240.51,730.4 240.63,730.6 240.75,733.2 240.87,735.9 240.99,738.3 241.10,737.6 241.22,739.1 241.34,741.7 241.46,742.5 241.58,744.0 241.70,742.6 241.82,743.8 241.94,741.9 242.06,743.9 242.17,743.4 242.29,741.8 242.41,740.9 242.53,741.6 242.65,743.0 242.77,741.6 242.89,739.8 243.01,741.9 243.12,739.7 243.24,740.1 243.36,741.0 243.48,740.6 243.60,736.8 243.72,739.3 243.84,736.5 243.96,738.3 244.07,735.1 244.19,736.8 244.31,737.5 244.43,735.6 244.55,733.3 244.67,735.0 244.79,733.5 244.91,732.2 245.03,731.6 245.14,733.4 245.26,732.3 245.38,730.2 245.50,732.4 245.62,731.8 245.74,733.9 245.86,733.9 245.97,734.9 246.09,735.7 246.21,734.3 246.33,736.5 246.45,737.6 246.57,736.9 246.69,739.5 246.81,738.0 246.93,739.2 247.04,739.6 247.16,740.7 247.28,743.0 247.40,743.2 247.52,744.2 247.64,745.4 247.76,746.0 247.88,746.2 247.99,747.5 248.11,749.0 248.23,749.2 248.35,750.9 248.47,749.1 248.59,752.6 248.71,750.9 248.83,753.2 248.94,753.4 249.06,755.0 249.18,754.8 249.30,754.3 249.42,755.6 249.54,754.5 249.66,753.7 249.79,756.1 249.91,753.1 250.03,752.4 250.15,753.2 250.27,751.3 250.39,752.4 250.51,751.7 250.64,750.8 250.76,750.2 250.88,748.4 251.00,748.1 251.12,750.5 251.24,748.1 251.36,748.8 251.49,747.3 251.61,749.8 251.73,749.4 251.85,748.7 251.97,747.2 252.09,747.1 252.21,747.8 252.34,746.2 252.46,744.1 252.58,745.9 252.70,745.5 252.82,745.4 252.94,745.2 253.06,743.8 253.19,743.4 253.31,742.8 253.43,740.6 253.55,739.8 253.67,741.2 253.79,739.2 253.91,739.1 254.04,739.4 254.16,740.1 254.28,737.5 254.40,738.5 254.52,737.5 254.64,740.5 254.76,738.5 254.88,739.3 255.00,738.0 255.12,740.3 255.24,740.9 255.36,739.7 255.48,739.6 255.60,741.4 255.72,739.5 255.84,742.1 255.96,739.6 256.08,739.7 256.20,742.4 256.32,741.2 256.44,742.9 256.56,742.7 256.68,742.9 256.80,742.7 256.93,743.5 257.05,743.1 257.17,743.4 257.29,742.3 257.41,743.8 257.53,743.0 257.65,742.6 257.77,742.7 257.89,743.1 258.01,741.8 258.13,743.1 258.25,744.5 258.37,742.6 258.49,744.0 258.61,741.6 258.73,741.2 258.85,743.1 258.97,742.0 259.09,742.3 259.21,744.7 259.33,742.8 259.45,745.0 259.57,745.9 259.69,742.4 259.81,744.8 259.93,743.4 260.05,744.8 260.17,743.4 260.29,744.2 260.41,742.8 260.53,744.3 260.65,745.1 260.77,745.1 260.89,744.0 261.01,746.2 261.13,743.7 261.25,743.6 261.37,743.7 261.49,744.8 261.61,745.8 261.73,746.7 261.85,744.3 261.98,744.4 262.10,745.5 262.22,746.4 262.34,745.2 262.46,745.8 262.58,745.9 262.70,748.2 262.82,748.1 262.94,746.2 263.06,746.8 263.18,747.9 263.30,749.4 263.42,747.6 263.54,749.5 263.66,747.3 263.78,749.4 263.90,747.5 264.02,748.8 264.14,747.9 264.26,746.9 264.38,748.6 264.50,749.5 264.62,749.8 264.74,747.7 264.86,746.4 264.98,745.8 265.10,745.2 265.23,744.8 265.35,743.2 265.47,745.5 265.59,742.8 265.71,743.6 265.83,744.6 265.95,742.0 266.07,743.3 266.19,743.5 266.31,744.0 266.43,740.2 266.56,742.6 266.68,742.8 266.80,739.1 266.92,739.0 267.04,740.1 267.16,738.3 267.28,738.2 267.40,738.7 267.52,738.4 267.64,736.8 267.77,736.8 267.89,738.4 268.01,734.8 268.13,735.3 268.25,736.9 268.37,736.1 268.49,735.7 268.61,732.0 268.73,732.8 268.85,732.1 268.97,730.9 269.10,732.5 269.22,730.0 269.34,731.4 269.46,730.8 269.58,729.2 269.70,728.6 269.82,731.2 269.94,730.6 270.06,730.3 270.18,728.8 270.30,727.3 270.42,729.3 270.54,729.1 270.66,728.7 270.78,725.1 270.90,726.2 271.02,725.5 271.14,727.0 271.26,724.7 271.38,726.6 271.50,724.5 271.61,722.0 271.73,724.1 271.85,720.9 271.97,721.6 272.09,722.5 272.21,722.6 272.33,722.2 272.45,719.6 272.57,719.6 272.69,717.8 272.81,719.3 272.93,716.0 273.05,718.3 273.17,718.4 273.29,718.7 273.41,715.6 273.53,714.6 273.65,716.5 273.77,716.6 273.89,713.8 274.01,715.7 274.13,714.3 274.25,715.0 274.37,715.0 274.49,714.8 274.61,710.8 274.73,711.6 274.85,712.3 274.97,709.5 275.09,712.5 275.20,710.1 275.32,712.5 275.44,710.7 275.56,709.8 275.68,709.7 275.80,708.4 275.92,710.2 276.04,707.9 276.16,710.8 276.28,709.1 276.40,709.7 276.52,708.3 276.64,707.4 276.76,705.7 276.88,704.3 277.00,707.6 277.12,705.6 277.24,706.8 277.36,704.8 277.48,703.1 277.60,703.8 277.72,703.7 277.85,704.1 277.97,702.2 278.09,704.3 278.21,703.5 278.33,703.1 278.45,701.2 278.57,704.1 278.69,702.9 278.81,702.7 278.93,699.5 279.05,699.6 279.17,699.2 279.29,701.5 279.42,697.9 279.54,700.9 279.66,698.4 279.78,701.0 279.90,700.5 280.02,697.0 280.14,699.8 280.26,697.6 280.38,698.6 280.50,696.3 280.62,695.3 280.74,699.2 280.86,695.2 280.98,696.5 281.11,697.5 281.23,697.0 281.35,693.8 281.47,694.2 281.59,696.2 281.71,696.9 281.83,694.2 281.95,694.4 282.07,694.3 282.19,692.1 282.31,693.0 282.43,693.3 282.55,694.1 282.68,694.7 282.80,694.5 282.92,693.9 283.04,694.4 283.16,690.3 283.28,689.1 283.40,692.2 283.52,690.6 283.64,692.7 283.76,692.3 283.88,688.4 284.00,689.8 284.12,689.2 284.24,691.2 284.36,691.1 284.48,689.4 284.60,692.0 284.72,690.2 284.84,690.0 284.96,688.0 285.08,689.9 285.20,689.6 285.32,688.5 285.44,689.6 285.56,689.4 285.68,689.5 285.80,689.7 285.92,688.8 286.04,686.3 286.16,686.2 286.28,688.5 286.40,687.2 286.52,685.0 286.64,686.4 286.76,688.0 286.88,684.2 287.00,684.6 287.12,686.6 287.24,682.8 287.36,683.9 287.48,686.8 287.60,685.5 287.72,684.7 287.84,686.3 287.96,684.9 288.08,685.4 288.20,684.5 288.32,682.5 288.44,681.2 288.56,681.8 288.68,681.4 288.80,684.7 288.92,680.0 289.04,680.2 289.16,680.0 289.28,682.7 289.40,683.7 289.52,680.4 289.64,684.7 289.76,682.3 289.88,682.1 290.00,683.3 290.12,683.1 290.24,680.8 290.36,681.5 290.48,679.8 290.60,682.4 290.72,678.2 290.84,678.7 290.96,678.6 291.08,679.5 291.20,679.4 291.32,682.5 291.44,680.9 291.56,680.6 291.68,683.3 291.79,684.7 291.91,684.7 292.03,680.7 292.15,682.8 292.27,682.7 292.39,684.5 292.51,682.0 292.62,683.2 292.74,686.1 292.86,683.9 292.98,684.7 293.10,686.1 293.22,684.2 293.34,684.8 293.47,685.8 293.59,682.7 293.71,685.4 293.83,684.3 293.95,681.0 294.08,684.1 294.20,681.8 294.32,680.1 294.44,681.8 294.56,681.4 294.68,681.2 294.81,678.5 294.93,677.2 295.05,676.7 295.17,678.6 295.29,675.0 295.42,679.0 295.54,678.1 295.66,674.5 295.78,677.6 295.90,677.5 296.02,673.7 296.15,674.6 296.27,673.9 296.39,674.7 296.51,674.4 296.63,672.3 296.76,672.0 296.88,674.4 297.00,671.0 297.12,670.7 297.24,669.2 297.36,669.0 297.48,671.1 297.60,671.4 297.72,668.7 297.85,667.1 297.97,669.0 298.09,670.7 298.21,668.0 298.33,669.5 298.45,669.5 298.57,666.3 298.69,667.1 298.81,668.3 298.93,665.5 299.05,664.6 299.17,665.2 299.29,664.8 299.42,667.8 299.54,664.0 299.66,663.8 299.78,663.0 299.90,663.8 300.02,665.5 300.14,663.0 300.26,661.0 300.38,664.1 300.50,663.8 300.62,662.5 300.74,663.7 300.86,664.0 300.98,661.5 301.11,661.9 301.23,662.1 301.35,659.6 301.47,660.4 301.59,663.5 301.71,662.2 301.83,659.4 301.95,659.0 302.07,657.9 302.19,660.4 302.31,660.7 302.43,661.5 302.55,662.0 302.68,659.0 302.80,657.7 302.92,660.4 303.04,658.2 303.16,656.8 303.28,659.8 303.40,655.5 303.52,658.9 303.64,660.1 303.76,657.9 303.88,660.1 303.99,661.4 304.11,659.5 304.23,658.6 304.35,660.0 304.47,659.9 304.59,662.7 304.71,660.7 304.83,661.9 304.95,665.2 305.06,666.1 305.18,666.5 305.30,664.4 305.42,665.7 305.54,666.3 305.66,667.8 305.78,666.0 305.90,670.6 306.02,667.1 306.14,667.4 306.25,671.2 306.37,670.9 306.49,672.3 306.61,670.3 306.73,674.2 306.85,670.9 306.97,673.9 307.09,673.1 307.21,673.8 307.32,672.4 307.44,674.3 307.56,674.1 307.68,675.3 307.80,674.8 307.92,676.5 308.04,676.3 308.17,672.9 308.29,674.4 308.41,672.4 308.53,670.7 308.65,671.1 308.77,669.6 308.90,668.5 309.02,668.9 309.14,671.4 309.26,666.7 309.38,669.4 309.51,668.6 309.63,669.7 309.75,666.3 309.87,665.9 309.99,664.3 310.12,667.0 310.24,662.6 310.36,666.3 310.48,663.6 310.60,664.7 310.73,660.0 310.85,660.3 310.97,662.1 311.09,659.0 311.21,658.2 311.33,661.2 311.46,661.4 311.58,658.8 311.70,657.0 311.82,660.0 311.94,657.2 312.06,657.4 312.18,659.3 312.30,659.9 312.42,662.1 312.54,662.5 312.66,661.6 312.78,661.7 312.90,664.8 313.02,663.2 313.14,665.8 313.26,664.5 313.38,663.5 313.50,663.8 313.62,666.1 313.74,668.7 313.86,669.1 313.98,666.5 314.10,665.0 314.22,667.7 314.34,667.5 314.46,668.2 314.58,670.3 314.70,670.5 314.82,670.2 314.94,669.6 315.06,669.5 315.18,667.8 315.30,671.7 315.42,670.6 315.54,672.1 315.66,669.8 315.78,670.6 315.90,671.0 316.02,673.4 316.14,671.3 316.26,673.1 316.38,676.3 316.50,675.2 316.62,676.1 316.74,674.0 316.86,672.2 316.98,675.7 317.10,672.2 317.22,674.0 317.34,675.7 317.46,670.2 317.58,672.2 317.70,671.4 317.82,671.5 317.94,673.6 318.06,671.7 318.18,673.1 318.30,672.1 318.42,667.7 318.54,671.5 318.66,667.9 318.78,669.3 318.90,670.2 319.02,671.0 319.14,670.2 319.26,667.7 319.38,670.2 319.50,666.3 319.62,669.8 319.74,669.1 319.86,668.6 319.98,668.4 320.10,664.8 320.22,664.1 320.34,666.9 320.46,666.4 320.58,663.3 320.70,665.1 320.82,664.1 320.94,665.9 321.06,665.5 321.18,666.6 321.30,663.9 321.42,663.9 321.54,665.6 321.66,661.3 321.78,662.0 321.90,663.3 322.02,660.7 322.14,661.5 322.26,659.9 322.38,659.6 322.50,659.1 322.62,657.0 322.74,657.2 322.86,661.9 322.98,657.1 323.10,661.2 323.22,660.8 323.34,660.2 323.46,655.0 323.58,656.3 323.70,659.1 323.82,655.5 323.94,655.8 324.06,655.6 324.18,654.7 324.30,657.2 324.42,656.2 324.54,656.9 324.67,655.9 324.79,655.4 324.91,654.7 325.03,649.8 325.15,648.8 325.27,652.9 325.40,648.6 325.52,652.0 325.64,647.9 325.76,648.2 325.88,646.1 326.01,646.0 326.13,647.9 326.25,646.2 326.37,644.0 326.49,644.8 326.62,643.4 326.74,640.3 326.86,641.0 326.98,643.7 327.10,638.9 327.23,642.2 327.35,638.6 327.47,640.6 327.59,640.6 327.71,638.3 327.83,636.0 327.96,639.4 328.08,635.7 328.20,637.6 328.32,636.5 328.44,636.8 328.55,638.9 328.67,636.5 328.79,639.2 328.91,639.3 329.03,638.6 329.15,640.9 329.26,637.6 329.38,637.2 329.50,638.3 329.62,638.9 329.74,639.6 329.85,639.0 329.97,641.5 330.09,639.2 330.21,638.8 330.33,641.2 330.45,639.1 330.56,638.8 330.68,640.8 330.80,639.6 330.92,641.6 331.04,642.0 331.15,641.9 331.27,639.2 331.39,642.0 331.51,643.9 331.63,644.7 331.75,645.1 331.86,642.4 331.98,643.6 332.10,644.4 332.22,643.1 332.34,639.8 332.47,641.2 332.59,641.7 332.71,638.8 332.83,638.3 332.95,639.5 333.08,640.3 333.20,638.4 333.32,636.4 333.44,635.1 333.56,639.6 333.68,634.3 333.81,634.3 333.93,637.2 334.05,635.0 334.17,637.5 334.29,634.9 334.42,633.2 334.54,637.8 334.66,634.1 334.78,632.2 334.90,635.7 335.02,635.4 335.15,631.7 335.27,634.5 335.39,633.0 335.51,630.0 335.63,628.6 335.76,633.6 335.88,628.9 336.00,628.7 336.12,632.0 336.24,633.3 336.36,632.1 336.48,630.0 336.60,630.6 336.72,632.2 336.84,630.6 336.96,634.2 337.08,634.3 337.20,632.7 337.32,634.9 337.44,636.4 337.55,633.3 337.67,632.0 337.79,632.8 337.91,635.6 338.03,637.8 338.15,636.1 338.27,634.7 338.39,638.0 338.51,637.1 338.63,636.8 338.75,640.0 338.87,636.1 338.99,639.1 339.11,640.6 339.23,640.0 339.35,635.8 339.47,639.8 339.59,641.2 339.71,640.6 339.83,639.0 339.95,637.7 340.07,640.9 340.19,637.7 340.31,639.9 340.43,638.8 340.55,641.7 340.66,639.5 340.78,642.3 340.90,640.1 341.02,643.9 341.14,643.9 341.26,643.9 341.38,641.4 341.50,644.9 341.62,641.1 341.74,641.1 341.86,646.3 341.98,642.8 342.10,644.2 342.22,642.2 342.34,645.9 342.46,645.9 342.58,644.8 342.70,640.3 342.82,641.9 342.94,644.0 343.06,644.5 343.18,639.0 343.30,640.5 343.42,642.1 343.54,640.6 343.66,641.5 343.78,639.4 343.90,636.1 344.02,636.6 344.14,638.5 344.26,638.1 344.38,635.4 344.51,635.8 344.63,637.5 344.75,636.8 344.87,638.1 344.99,634.8 345.11,638.8 345.23,638.6 345.35,632.7 345.47,633.4 345.59,635.1 345.71,632.9 345.83,635.4 345.95,634.2 346.07,631.3 346.19,632.3 346.31,633.3 346.43,632.3 346.55,630.6 346.67,630.9 346.79,631.4 346.91,630.3 347.03,627.0 347.15,627.2 347.27,627.9 347.39,628.2 347.51,627.7 347.63,627.7 347.75,627.4 347.87,624.8 347.99,623.1 348.11,627.4 348.23,622.8 348.35,621.8 348.47,622.5 348.59,621.6 348.71,620.2 348.83,622.8 348.95,624.1 349.07,622.9 349.19,621.6 349.32,622.4 349.44,619.4 349.56,616.7 349.68,616.4 349.80,621.1 349.92,619.0 350.04,619.1 350.16,620.6 350.28,620.8 350.40,620.9 350.52,616.9 350.64,619.1 350.76,613.6 350.88,617.1 351.00,616.7 351.12,614.4 351.24,614.1 351.36,618.7 351.48,616.8 351.60,615.2 351.72,613.9 351.84,611.0 351.96,615.2 352.08,612.5 352.19,614.0 352.31,616.5 352.43,616.0 352.55,618.3 352.67,617.1 352.79,615.2 352.91,617.3 353.03,616.2 353.15,615.3 353.26,616.7 353.38,614.8 353.50,615.8 353.62,616.8 353.74,619.5 353.86,620.2 353.98,620.7 354.10,619.3 354.22,617.4 354.34,620.4 354.45,616.9 354.57,616.3 354.69,617.3 354.81,620.2 354.93,617.8 355.05,619.6 355.17,618.6 355.29,619.6 355.41,619.8 355.52,620.4 355.64,621.2 355.76,618.1 355.88,619.9 356.00,620.2 356.12,619.2 356.24,618.0 356.36,617.2 356.48,621.6 356.59,620.2 356.71,622.8 356.83,622.5 356.95,622.9 357.07,622.8 357.19,624.6 357.31,623.6 357.43,625.5 357.54,624.9 357.66,627.9 357.78,628.6 357.90,628.6 358.02,628.3 358.14,630.4 358.26,629.3 358.38,628.4 358.49,630.4 358.61,630.3 358.73,627.1 358.85,628.2 358.97,630.3 359.09,628.2 359.21,633.3 359.32,632.6 359.44,630.4 359.56,630.8 359.68,634.3 359.80,634.6 359.92,631.5 360.04,633.7 360.16,631.2 360.28,632.5 360.39,630.1 360.51,631.2 360.63,627.3 360.75,626.3 360.87,625.8 360.99,626.7 361.11,625.3 361.23,624.6 361.35,628.1 361.46,626.5 361.58,621.2 361.70,622.9 361.82,622.8 361.94,625.1 362.06,624.6 362.18,623.3 362.30,619.8 362.42,619.4 362.54,621.6 362.65,616.5 362.77,617.1 362.89,618.2 363.01,615.7 363.13,618.2 363.25,616.0 363.37,615.5 363.49,617.2 363.61,616.3 363.72,615.1 363.84,611.6 363.96,610.3 364.08,609.0 364.20,611.4 364.32,612.1 364.44,613.0 364.56,612.3 364.67,609.1 364.79,608.3 364.91,609.9 365.03,612.0 365.15,611.7 365.27,609.7 365.38,610.4 365.50,611.8 365.62,609.3 365.74,612.6 365.86,613.3 365.98,612.4 366.09,610.8 366.21,610.0 366.33,609.9 366.45,613.9 366.57,613.9 366.69,612.9 366.81,612.9 366.92,612.4 367.04,612.3 367.16,615.0 367.28,613.3 367.40,615.0 367.52,613.6 367.63,614.2 367.75,613.0 367.87,611.8 367.99,616.8 368.11,614.4 368.23,614.3 368.34,614.7 368.46,612.6 368.58,614.1 368.70,616.7 368.82,612.2 368.94,611.4 369.06,612.2 369.18,611.7 369.30,614.3 369.42,613.8 369.54,610.7 369.66,612.9 369.78,608.4 369.90,612.9 370.02,613.4 370.14,608.1 370.26,609.0 370.38,607.5 370.50,609.3 370.62,608.2 370.74,611.8 370.86,610.0 370.98,608.8 371.10,606.6 371.22,609.7 371.34,608.9 371.47,608.3 371.59,609.8 371.71,607.1 371.83,606.0 371.95,605.8 372.07,603.8 372.19,607.7 372.31,606.0 372.43,602.4 372.55,603.9 372.67,604.9 372.79,601.7 372.91,605.4 373.03,600.1 373.15,604.0 373.27,598.3 373.39,600.3 373.51,600.8 373.63,598.6 373.75,600.5 373.87,596.6 373.99,599.1 374.11,599.2 374.23,597.8 374.35,599.7 374.47,599.8 374.59,596.3 374.71,596.2 374.83,595.6 374.95,595.1 375.07,596.0 375.19,592.4 375.31,596.3 375.43,592.1 375.55,592.8 375.67,590.7 375.79,589.8 375.91,593.2 376.03,591.3 376.15,589.1 376.27,591.8 376.39,591.7 376.51,589.6 376.63,592.3 376.76,589.3 376.88,589.7 377.00,588.2 377.12,593.6 377.24,591.2 377.36,588.9 377.48,588.3 377.60,586.8 377.72,588.4 377.84,590.8 377.96,585.1 378.08,586.7 378.20,588.7 378.32,585.3 378.44,586.2 378.56,587.6 378.68,587.5 378.80,587.0 378.92,582.3 379.04,582.5 379.16,584.1 379.28,582.4 379.40,579.6 379.52,583.5 379.64,581.3 379.76,583.0 379.87,585.2 379.99,588.0 380.11,590.0 380.23,591.6 380.35,589.8 380.47,589.1 380.59,595.3 380.70,593.9 380.82,594.0 380.94,593.2 381.06,599.0 381.18,596.6 381.30,600.3 381.41,597.4 381.53,602.4 381.65,601.4 381.77,601.1 381.89,601.5 382.01,604.7 382.13,602.9 382.24,607.8 382.36,608.6 382.48,603.4 382.60,605.5 382.72,604.7 382.84,610.8 382.96,606.5 383.09,607.4 383.21,604.9 383.33,605.3 383.45,604.7 383.57,605.7 383.69,607.2 383.81,607.7 383.94,610.4 384.06,609.8 384.18,605.9 384.30,607.0 384.42,609.6 384.54,608.0 384.66,608.1 384.79,605.7 384.91,606.5 385.03,605.3 385.15,604.4 385.27,605.8 385.39,608.7 385.51,609.5 385.64,604.7 385.76,605.7 385.88,604.5 386.00,604.2 386.12,606.5 386.24,608.2 386.36,603.6 386.49,605.2 386.61,608.3 386.73,605.7 386.85,608.9 386.97,607.7 387.09,604.9 387.21,606.2 387.34,604.8 387.46,604.1 387.58,605.4 387.70,605.8 387.82,606.0 387.94,604.3 388.06,605.0 388.18,603.6 388.30,601.6 388.42,601.7 388.54,605.4 388.67,600.6 388.79,600.9 388.91,599.6 389.03,603.3 389.15,600.3 389.27,601.4 389.39,597.6 389.51,600.8 389.63,600.8 389.75,595.9 389.87,597.0 389.99,595.3 390.11,597.0 390.23,599.0 390.35,594.1 390.47,595.4 390.60,596.7 390.72,596.5 390.84,592.1 390.96,596.4 391.08,592.3 391.20,592.1 391.32,593.4 391.44,593.1 391.56,593.5 391.68,595.2 391.80,593.1 391.92,589.5 392.04,590.2 392.16,587.4 392.28,586.8 392.40,591.9 392.53,591.5 392.65,590.3 392.77,589.5 392.89,589.6 393.01,584.2 393.13,586.3 393.25,584.5 393.37,582.9 393.49,582.4 393.61,587.1 393.73,586.1 393.85,582.1 393.97,583.5 394.09,584.2 394.21,584.9 394.33,578.6 394.46,584.3 394.58,583.9 394.70,577.9 394.82,578.5 394.94,577.3 395.06,576.5 395.18,580.9 395.30,578.4 395.42,577.2 395.54,577.3 395.66,576.6 395.78,579.5 395.89,579.0 396.01,575.6 396.13,574.8 396.25,574.6 396.37,577.3 396.49,574.7 396.61,574.4 396.73,577.7 396.84,573.4 396.96,570.4 397.08,573.7 397.20,571.2 397.32,572.5 397.44,570.6 397.56,571.2 397.68,570.0 397.79,571.3 397.91,573.7 398.03,570.5 398.15,571.0 398.27,569.3 398.39,571.1 398.51,567.4 398.62,567.3 398.74,573.3 398.86,570.1 398.98,572.1 399.10,571.6 399.22,570.0 399.34,570.5 399.46,568.0 399.58,571.4 399.71,573.4 399.83,573.4 399.95,571.3 400.07,571.9 400.19,569.3 400.31,570.8 400.43,573.0 400.55,569.0 400.68,573.2 400.80,573.3 400.92,571.5 401.04,570.7 401.16,571.1 401.28,572.5 401.40,570.4 401.52,566.1 401.64,570.3 401.77,572.1 401.89,569.5 402.01,570.8 402.13,566.3 402.25,568.6 402.37,566.2 402.49,569.0 402.61,568.7 402.73,567.8 402.86,570.8 402.98,570.8 403.10,567.8 403.22,572.8 403.34,569.5 403.46,566.9 403.58,569.5 403.70,570.2 403.82,565.8 403.95,569.7 404.07,566.8 404.19,569.2 404.31,568.6 404.43,569.4 404.55,570.3 404.67,567.7 404.79,570.7 404.92,572.1 405.04,566.6 405.16,567.8 405.28,570.7 405.40,570.5 405.52,566.4 405.64,567.3 405.76,565.9 405.88,568.6 406.00,564.2 406.11,564.9 406.23,564.0 406.35,562.4 406.47,566.4 406.59,563.9 406.71,563.8 406.83,565.7 406.95,559.7 407.07,561.7 407.19,561.4 407.30,562.5 407.42,560.7 407.54,559.1 407.66,557.2 407.78,555.9 407.90,559.4 408.02,557.6 408.14,559.3 408.25,561.9 408.37,562.5 408.49,565.0 408.61,568.0 408.73,569.5 408.85,570.8 408.96,571.3 409.08,574.2 409.20,577.4 409.32,577.2 409.44,577.3 409.56,575.6 409.68,575.9 409.80,573.1 409.92,576.5 410.04,575.8 410.16,570.4 410.28,570.0 410.40,573.0 410.52,572.9 410.64,567.3 410.76,569.4 410.88,567.4 411.00,567.9 411.12,567.9 411.24,571.4 411.36,570.0 411.48,568.8 411.60,568.5 411.72,565.9 411.84,565.6 411.96,568.0 412.08,568.7 412.20,567.6 412.32,564.8 412.43,562.8 412.55,563.8 412.67,567.5 412.79,561.8 412.91,561.2 413.03,562.7 413.15,559.7 413.27,558.8 413.39,562.7 413.51,562.0 413.63,563.4 413.75,562.1 413.87,561.0 413.99,555.2 414.11,559.9 414.23,561.9 414.35,557.6 414.47,560.2 414.59,554.9 414.71,555.5 414.83,554.7 414.95,556.2 415.07,558.8 415.19,554.3 415.31,556.8 415.43,553.7 415.55,557.9 415.67,553.3 415.79,554.7 415.91,557.2 416.03,553.3 416.15,550.2 416.27,554.2 416.39,552.1 416.51,549.7 416.63,550.0 416.75,555.1 416.87,551.9 416.99,551.3 417.11,555.6 417.23,550.0 417.35,553.5 417.47,547.7 417.59,550.8 417.71,550.9 417.83,553.5 417.95,550.6 418.07,549.4 418.19,547.3 418.31,551.4 418.43,549.4 418.55,546.1 418.67,546.9 418.78,543.3 418.90,549.1 419.02,544.5 419.14,543.1 419.26,546.0 419.38,546.0 419.50,547.9 419.62,544.2 419.74,543.1 419.86,542.7 419.98,541.3 420.10,540.2 420.22,545.2 420.34,544.0 420.46,542.9 420.58,538.5 420.70,541.4 420.82,544.4 420.94,540.4 421.06,542.0 421.18,536.5 421.30,542.8 421.42,537.6 421.54,536.7 421.66,537.9 421.78,536.8 421.90,535.0 422.02,541.5 422.14,540.1 422.26,542.6 422.38,546.2 422.50,545.6 422.62,547.7 422.73,545.1 422.85,547.0 422.97,543.3 423.09,548.6 423.21,546.1 423.33,549.1 423.45,554.1 423.57,556.7 423.69,553.0 423.81,554.8 423.93,554.0 424.05,561.4 424.17,558.5 424.28,562.4 424.40,559.8 424.52,565.9 424.64,564.0 424.76,569.6 424.88,570.2 425.00,571.5 425.12,565.6 425.24,565.2 425.36,566.4 425.48,563.1 425.60,567.2 425.72,565.4 425.84,564.7 425.97,563.4 426.09,564.6 426.21,558.4 426.33,557.7 426.45,558.2 426.57,561.6 426.69,557.4 426.81,561.7 426.93,561.1 427.05,559.2 427.17,555.5 427.29,556.2 427.41,560.2 427.53,556.3 427.66,554.0 427.78,553.6 427.90,557.5 428.02,553.2 428.14,553.4 428.26,556.1 428.38,549.9 428.50,554.7 428.62,553.8 428.74,550.3 428.86,552.5 428.98,547.6 429.10,547.1 429.22,550.8 429.34,545.9 429.47,546.4 429.59,545.6 429.71,545.3 429.83,547.4 429.95,546.2 430.07,546.3 430.19,541.2 430.31,544.6 430.43,542.4 430.55,544.6 430.67,543.6 430.79,545.3 430.91,544.1 431.03,542.2 431.16,544.0 431.28,538.8 431.40,541.8 431.52,536.9 431.64,540.9 431.76,539.6 431.88,539.6 432.00,536.7 432.12,539.2 432.24,541.7 432.36,539.3 432.48,540.3 432.59,543.0 432.71,542.1 432.83,537.8 432.95,541.0 433.07,537.1 433.19,543.2 433.31,542.3 433.43,542.0 433.55,541.3 433.66,538.5 433.78,541.1 433.90,543.4 434.02,542.4 434.14,542.3 434.26,545.5 434.38,544.6 434.50,544.3 434.62,547.3 434.73,540.6 434.85,541.2 434.97,542.4 435.09,542.4 435.21,545.9 435.33,544.4 435.45,548.2 435.57,543.4 435.68,549.0 435.80,549.4 435.92,543.7 436.04,547.6 436.16,548.4 436.28,548.2 436.40,547.4 436.52,550.2 436.64,548.3 436.75,546.4 436.87,550.7 436.99,545.8 437.11,551.1 437.23,552.0 437.35,551.0 437.47,550.2 437.59,552.1 437.71,547.0 437.82,549.5 437.94,548.4 438.06,552.2 438.18,554.3 438.30,550.5 438.42,552.6 438.54,555.7 438.65,561.9 438.77,559.9 438.89,563.5 439.01,564.3 439.13,567.6 439.25,570.0 439.36,565.7 439.48,570.0 439.60,570.4 439.72,575.9 439.84,576.6 439.95,576.6 440.07,576.8 440.19,581.3 440.31,578.8 440.43,583.6 440.55,581.4 440.66,586.1 440.78,585.0 440.90,588.2 441.02,584.7 441.14,589.8 441.26,585.1 441.38,584.0 441.49,583.0 441.61,586.8 441.73,584.7 441.85,582.6 441.97,584.9 442.09,582.2 442.21,581.5 442.32,581.1 442.44,582.4 442.56,580.9 442.68,579.0 442.80,576.5 442.92,575.5 443.04,577.2 443.16,579.9 443.27,578.2 443.39,574.7 443.51,572.5 443.63,569.9 443.75,573.4 443.87,570.6 443.99,567.9 444.11,573.1 444.22,568.2 444.34,564.2 444.46,565.6 444.58,566.0 444.70,567.4 444.82,567.0 444.94,568.9 445.05,573.8 445.17,574.7 445.29,576.8 445.41,582.2 445.53,583.3 445.65,583.9 445.76,588.0 445.88,590.5 446.00,592.2 446.12,589.8 446.24,589.0 446.36,586.9 446.48,586.8 446.60,585.3 446.72,584.4 446.84,583.9 446.96,588.5 447.08,584.9 447.21,582.3 447.33,583.9 447.45,581.7 447.57,580.6 447.69,583.2 447.81,580.7 447.93,581.3 448.05,581.2 448.17,576.5 448.29,577.0 448.41,578.5 448.53,575.5 448.65,578.4 448.77,575.8 448.89,576.5 449.01,572.5 449.13,573.2 449.25,575.0 449.38,574.9 449.50,569.8 449.62,570.5 449.74,573.2 449.86,566.6 449.98,568.5 450.10,566.6 450.22,568.5 450.34,567.6 450.46,567.9 450.58,566.8 450.70,565.4 450.82,566.2 450.94,562.5 451.06,561.5 451.18,566.1 451.30,561.0 451.42,563.0 451.55,557.5 451.67,560.0 451.79,558.5 451.91,555.6 452.03,555.5 452.15,554.4 452.27,555.4 452.39,555.4 452.51,553.2 452.63,553.7 452.75,557.1 452.87,554.5 452.99,551.2 453.11,551.3 453.23,555.3 453.35,549.2 453.47,553.0 453.59,547.2 453.72,548.1 453.84,548.4 453.96,549.7 454.08,545.4 454.20,546.6 454.32,545.8 454.44,545.6 454.56,544.4 454.68,542.0 454.80,544.0 454.92,542.7 455.04,548.6 455.16,547.4 455.27,546.2 455.39,549.1 455.51,553.5 455.63,550.3 455.75,549.7 455.87,555.7 455.99,555.8 456.10,558.8 456.22,561.0 456.34,557.9 456.46,558.2 456.58,561.3 456.70,563.7 456.81,563.5 456.93,567.2 457.05,562.4 457.17,566.3 457.29,567.3 457.41,570.1 457.53,571.2 457.64,573.6 457.76,570.4 457.88,575.7 458.00,575.6 458.12,576.3 458.24,575.0 458.36,572.4 458.49,571.1 458.61,571.9 458.73,570.5 458.85,568.8 458.97,565.8 459.09,567.3 459.21,567.3 459.34,563.2 459.46,564.8 459.58,568.2 459.70,566.0 459.82,562.9 459.94,566.5 460.06,563.5 460.19,560.9 460.31,557.6 460.43,559.1 460.55,560.8 460.67,558.7 460.79,558.5 460.91,556.1 461.04,558.8 461.16,556.9 461.28,555.2 461.40,555.1 461.52,554.7 461.64,552.9 461.75,553.7 461.87,552.0 461.99,557.7 462.11,553.6 462.23,552.4 462.35,552.5 462.46,557.8 462.58,554.0 462.70,553.1 462.82,555.7 462.94,552.6 463.05,556.2 463.17,557.5 463.29,553.2 463.41,556.3 463.53,558.6 463.65,554.2 463.76,554.7 463.88,552.6 464.00,558.6 464.12,554.3 464.24,554.3 464.35,553.2 464.47,554.1 464.59,556.1 464.71,556.1 464.83,554.2 464.95,560.1 465.06,560.8 465.18,557.7 465.30,559.9 465.43,563.1 465.55,564.2 465.68,566.3 465.80,567.8 465.93,572.9 466.05,573.4 466.18,579.3 466.30,582.9 466.43,589.9 466.55,594.8 466.68,598.8 466.80,600.2 466.93,607.4 467.05,615.7 467.18,617.1 467.30,626.1 467.42,625.7 467.54,626.4 467.66,627.2 467.77,626.4 467.89,625.6 468.01,630.3 468.13,627.5 468.25,627.8 468.37,630.1 468.49,630.5 468.61,632.1 468.73,633.0 468.84,631.4 468.96,635.6 469.08,632.5 469.20,634.4 469.32,640.0 469.44,642.7 469.55,646.4 469.67,646.9 469.79,653.2 469.91,651.6 470.02,655.2 470.14,661.4 470.26,664.2 470.38,666.9 470.49,666.9 470.61,670.9 470.73,672.7 470.85,679.7 470.96,681.4 471.08,683.9 471.20,686.2 471.32,683.8 471.44,685.0 471.56,684.8 471.68,682.6 471.80,682.8 471.92,680.2 472.04,679.6 472.16,679.2 472.28,677.8 472.40,674.6 472.51,677.0 472.63,672.7 472.75,674.2 472.87,669.0 472.99,670.6 473.11,667.0 473.23,670.5 473.35,667.5 473.47,668.5 473.59,665.9 473.71,662.8 473.83,661.1 473.95,661.5 474.07,660.1 474.19,662.1 474.31,659.1 474.43,659.3 474.55,659.1 474.67,658.6 474.79,654.0 474.90,655.6 475.02,652.1 475.14,649.8 475.26,652.0 475.38,648.7 475.50,647.3 475.62,650.1 475.74,645.2 475.86,644.2 475.98,643.7 476.10,645.9 476.22,648.4 476.34,646.9 476.46,650.7 476.58,651.2 476.70,649.0 476.83,651.7 476.95,651.8 477.07,653.1 477.19,658.3 477.31,657.5 477.43,657.3 477.55,659.2 477.67,662.0 477.79,664.4 477.91,663.5 478.03,666.0 478.15,667.5 478.27,666.9 478.40,668.9 478.52,672.3 478.64,671.4 478.76,677.8 478.88,677.9 479.00,680.5 479.12,677.2 479.24,680.4 479.36,681.5 479.48,683.3 479.60,682.9 479.73,686.6 479.85,688.5 479.97,687.6 480.09,691.1 480.21,695.3 480.33,697.3 480.45,695.5 480.57,701.1 480.69,698.1 480.81,700.6 480.93,702.1 481.05,705.4 481.17,704.8 481.30,708.8 481.42,709.9 481.54,710.7 481.66,712.7 481.78,711.9 481.90,715.8 482.02,716.1 482.14,712.2 482.26,711.9 482.38,712.0 482.50,710.1 482.62,710.9 482.74,709.8 482.85,707.9 482.97,704.3 483.09,702.6 483.21,702.5 483.33,701.7 483.45,700.4 483.57,702.2 483.69,701.4 483.81,697.1 483.93,698.2 484.05,697.1 484.17,694.1 484.29,694.3 484.41,693.6 484.52,694.8 484.64,691.5 484.76,689.5 484.88,690.1 485.00,686.9 485.12,687.1 485.24,688.5 485.36,686.1 485.48,686.6 485.60,683.1 485.72,679.8 485.84,682.9 485.96,678.9 486.08,676.6 486.19,676.8 486.31,674.3 486.43,677.1 486.55,675.8 486.67,672.9 486.79,671.7 486.91,669.1 487.03,671.5 487.15,667.8 487.27,667.1 487.39,665.9 487.51,667.2 487.63,667.4 487.75,664.5 487.86,663.2 487.98,660.5 488.10,661.9 488.22,657.7 488.34,661.2 488.46,655.5 488.58,657.7 488.70,656.5 488.82,656.4 488.94,653.2 489.06,655.0 489.18,654.3 489.30,651.9 489.42,654.1 489.54,650.7 489.66,653.5 489.78,651.9 489.90,649.8 490.02,650.0 490.14,650.6 490.26,646.8 490.38,649.7 490.50,650.3 490.62,649.6 490.74,649.8 490.86,647.6 490.98,649.7 491.10,646.2 491.22,645.1 491.34,645.1 491.46,643.8 491.58,642.5 491.70,643.5 491.82,645.4 491.94,643.1 492.06,645.6 492.18,643.0 492.30,648.2 492.43,649.5 492.55,645.2 492.67,645.5 492.79,650.6 492.91,650.0 493.03,649.6 493.15,651.6 493.27,650.9 493.39,652.5 493.51,654.3 493.63,655.6 493.75,655.5 493.88,657.3 494.00,654.1 494.12,653.8 494.24,656.8 494.36,654.1 494.48,655.2 494.60,658.2 494.72,660.2 494.84,659.7 494.96,655.5 495.08,653.9 495.20,654.9 495.33,653.3 495.45,655.4 495.57,653.1 495.69,653.8 495.81,653.1 495.93,651.6 496.05,649.2 496.17,650.7 496.29,651.6 496.41,651.3 496.53,650.5 496.65,650.3 496.77,650.6 496.90,647.6 497.02,648.6 497.14,644.7 497.26,645.0 497.38,645.1 497.50,642.7 497.62,642.3 497.74,644.2 497.86,645.4 497.98,641.2 498.10,640.6 498.23,643.0 498.35,639.8 498.47,637.9 498.59,639.8 498.71,635.7 498.83,638.8 498.95,633.9 499.07,634.7 499.19,636.5 499.31,636.7 499.43,635.8 499.55,633.5 499.67,635.1 499.80,631.4 499.92,629.8 500.04,631.2 500.16,628.4 500.28,627.5 500.40,630.3 500.52,625.0 500.64,629.2 500.76,628.1 500.88,624.2 501.00,626.5 501.12,621.5 501.24,624.4 501.36,619.9 501.48,621.5 501.60,621.2 501.72,619.3 501.84,617.0 501.96,617.0 502.08,618.8 502.20,618.6 502.32,614.8 502.44,616.8 502.56,618.2 502.68,613.3 502.80,611.6 502.92,613.4 503.04,611.3 503.16,608.8 503.28,612.9 503.40,612.1 503.52,612.1 503.64,610.4 503.76,614.3 503.88,610.7 504.00,616.0 504.12,616.5 504.25,618.4 504.37,619.4 504.49,620.3 504.61,620.4 504.73,617.8 504.85,619.7 504.97,618.1 505.09,622.1 505.21,621.8 505.33,625.2 505.45,624.4 505.57,624.5 505.70,627.0 505.82,626.0 505.94,628.0 506.06,630.1 506.18,629.0 506.30,627.7 506.42,629.1 506.54,628.4 506.66,629.7 506.78,624.7 506.90,625.3 507.02,628.1 507.14,627.7 507.25,623.6 507.37,626.0 507.49,625.2 507.61,622.8 507.73,622.0 507.85,627.2 507.97,623.2 508.09,622.2 508.21,623.4 508.33,623.7 508.45,622.1 508.57,621.1 508.69,618.5 508.81,621.7 508.92,619.3 509.04,619.9 509.16,621.3 509.28,617.4 509.40,617.8 509.52,618.4 509.64,619.3 509.76,617.7 509.88,615.6 510.00,613.5 510.12,614.4 510.24,615.2 510.36,615.2 510.48,613.2 510.59,616.0 510.71,611.1 510.83,614.7 510.95,609.7 511.07,613.0 511.19,612.6 511.31,608.5 511.43,606.7 511.55,607.4 511.67,611.5 511.79,606.3 511.91,611.7 512.03,608.9 512.15,608.8 512.26,609.6 512.38,607.9 512.50,608.8 512.62,607.3 512.74,606.7 512.86,605.1 512.98,602.7 513.10,603.5 513.22,603.5 513.34,605.6 513.46,606.7 513.58,605.1 513.70,609.8 513.83,611.3 513.95,611.4 514.07,608.3 514.19,609.2 514.31,609.2 514.43,614.1 514.55,616.0 514.67,617.0 514.79,614.6 514.91,615.0 515.03,616.6 515.15,616.7 515.27,622.3 515.40,622.0 515.52,620.6 515.64,619.5 515.76,619.5 515.88,625.0 516.00,623.5 516.12,621.0 516.24,625.2 516.36,620.5 516.48,622.5 516.60,622.7 516.72,621.3 516.84,620.5 516.95,619.9 517.07,615.9 517.19,617.5 517.31,619.5 517.43,615.3 517.55,615.9 517.67,611.9 517.79,616.2 517.91,614.9 518.03,609.7 518.15,608.5 518.27,612.0 518.39,607.4 518.51,608.7 518.62,604.9 518.74,607.4 518.86,603.1 518.98,608.2 519.10,604.9 519.22,600.5 519.34,599.6 519.46,601.6 519.58,598.4 519.70,596.6 519.82,600.9 519.94,597.1 520.06,593.8 520.18,597.1 520.29,596.9 520.41,595.2 520.53,597.5 520.65,591.0 520.77,593.8 520.89,591.9 521.01,588.2 521.13,592.7 521.25,587.5 521.37,591.1 521.49,589.5 521.61,584.5 521.73,585.3 521.85,587.6 521.96,582.3 522.08,581.4 522.20,586.7 522.32,582.1 522.44,582.4 522.56,581.2 522.68,580.6 522.80,580.6 522.92,578.9 523.04,578.1 523.16,580.4 523.28,580.0 523.39,585.6 523.51,585.0 523.63,585.4 523.75,588.1 523.87,582.3 523.99,588.2 524.11,586.5 524.23,583.8 524.35,589.0 524.47,588.6 524.58,588.7 524.70,590.0 524.82,592.1 524.94,593.0 525.06,592.3 525.18,591.4 525.30,596.3 525.42,595.9 525.54,593.7 525.66,596.5 525.77,599.7 525.89,595.7 526.01,599.0 526.13,599.2 526.25,600.3 526.37,600.4 526.49,604.0 526.61,601.6 526.73,601.9 526.84,605.6 526.96,607.0 527.08,607.3 527.20,609.2 527.32,607.3 527.44,604.8 527.56,607.1 527.68,608.9 527.80,611.1 527.92,612.5 528.03,610.2 528.15,613.7 528.27,615.1 528.39,615.4 528.51,613.4 528.63,616.2 528.75,615.7 528.87,616.0 528.99,616.9 529.11,618.5 529.22,618.7 529.34,620.6 529.46,622.3 529.58,621.8 529.70,619.4 529.82,618.8 529.94,617.4 530.07,621.5 530.19,618.3 530.31,617.3 530.43,615.9 530.55,617.9 530.68,614.0 530.80,615.3 530.92,612.7 531.04,615.8 531.16,614.3 531.28,611.4 531.41,613.5 531.53,608.7 531.65,611.5 531.77,612.4 531.89,607.8 532.02,607.9 532.14,607.6 532.26,610.0 532.38,607.2 532.50,607.2 532.62,606.3 532.75,602.8 532.87,603.2 532.99,599.9 533.11,600.6 533.23,603.0 533.36,602.6 533.48,603.3 533.60,598.0 533.72,601.7 533.84,597.4 533.96,598.7 534.08,603.0 534.19,605.3 534.31,603.6 534.43,608.3 534.55,607.5 534.67,607.4 534.79,608.8 534.91,611.6 535.02,615.7 535.14,612.3 535.26,613.8 535.38,615.0 535.50,617.4 535.62,615.2 535.74,614.4 535.86,611.5 535.98,612.1 536.10,611.3 536.22,611.9 536.34,614.8 536.46,608.7 536.58,612.2 536.70,610.9 536.82,607.0 536.94,609.6 537.06,611.1 537.18,607.5 537.30,609.9 537.42,606.3 537.54,606.0 537.66,603.0 537.78,603.4 537.90,605.7 538.02,600.8 538.14,602.8 538.26,600.2 538.38,599.5 538.50,597.2 538.62,597.4 538.74,599.8 538.86,597.8 538.98,595.6 539.10,597.1 539.22,595.9 539.34,592.4 539.46,591.7 539.58,594.6 539.70,590.7 539.82,589.8 539.94,590.7 540.06,591.1 540.18,592.0 540.30,591.1 540.42,586.0 540.54,587.4 540.66,589.8 540.78,590.0 540.90,583.7 541.02,585.9 541.14,585.5 541.26,584.7 541.38,585.6 541.50,582.7 541.62,578.3 541.74,582.9 541.86,579.8 541.98,578.3 542.10,579.3 542.22,576.8 542.34,575.7 542.46,574.0 542.58,575.8 542.70,573.1 542.82,571.5 542.94,575.1 543.06,570.7 543.18,571.7 543.30,571.2 543.42,571.2 543.54,566.1 543.66,565.7 543.78,567.8 543.90,566.3 544.02,565.8 544.14,566.9 544.26,568.0 544.38,568.9 544.50,565.1 544.62,564.6 544.74,562.1 544.87,561.4 544.99,567.7 545.11,565.1 545.23,562.3 545.35,566.4 545.47,560.9 545.59,560.2 545.71,559.0 545.83,563.8 545.95,562.0 546.07,560.0 546.19,564.3 546.31,562.1 546.43,560.6 546.55,561.0 546.67,562.8 546.79,562.5 546.91,557.0 547.03,555.6 547.15,556.8 547.27,559.5 547.39,559.4 547.51,557.5 547.63,553.0 547.76,557.9 547.88,556.3 548.00,552.7 548.12,554.5 548.24,554.6 548.36,553.4 548.48,552.9 548.60,549.9 548.72,552.2 548.84,554.1 548.96,549.3 549.08,553.4 549.20,554.7 549.32,552.4 549.44,550.8 549.56,549.5 549.68,553.5 549.80,551.9 549.93,555.7 550.05,551.0 550.17,555.1 550.29,551.5 550.41,550.6 550.53,551.9 550.65,553.9 550.77,554.1 550.89,555.7 551.01,555.6 551.13,552.8 551.25,553.4 551.38,551.7 551.50,551.5 551.62,557.0 551.74,558.1 551.86,556.7 551.98,554.2 552.10,558.4 552.22,557.5 552.34,556.3 552.46,560.0 552.58,558.8 552.70,554.3 552.83,555.0 552.95,558.6 553.07,558.9 553.19,559.3 553.31,559.2 553.43,562.5 553.55,559.8 553.67,560.2 553.79,559.5 553.91,559.9 554.03,558.4 554.15,564.5 554.27,558.8 554.40,558.4 554.52,563.2 554.64,562.3 554.76,557.9 554.88,561.0 555.00,559.5 555.12,562.2 555.24,563.5 555.36,558.4 555.48,556.8 555.60,561.3 555.72,556.3 555.84,556.2 555.96,554.8 556.08,556.7 556.20,554.0 556.31,553.4 556.43,549.0 556.55,547.1 556.67,550.9 556.79,552.5 556.91,548.6 557.03,549.1 557.15,549.3 557.27,546.1 557.39,543.5 557.51,544.8 557.63,545.6 557.75,545.4 557.87,538.5 557.99,541.2 558.11,543.3 558.23,540.8 558.35,537.1 558.47,541.1 558.59,540.1 558.70,538.6 558.82,533.6 558.94,532.6 559.06,530.3 559.18,532.1 559.30,535.6 559.42,534.2 559.54,532.2 559.66,531.5 559.78,527.7 559.90,530.9 560.02,526.9 560.14,526.4 560.26,525.3 560.38,525.7 560.50,530.0 560.62,533.3 560.74,532.6 560.86,533.7 560.98,530.6 561.10,535.9 561.21,535.5 561.33,533.5 561.45,535.4 561.57,540.1 561.69,541.6 561.81,537.3 561.93,540.2 562.05,538.1 562.17,544.2 562.29,543.2 562.41,546.7 562.53,543.6 562.65,542.3 562.77,546.5 562.89,546.3 563.01,550.1 563.13,547.6 563.25,550.2 563.37,551.4 563.49,552.4 563.60,551.2 563.72,550.6 563.84,555.2 563.96,553.6 564.08,554.3 564.20,557.7 564.32,555.8 564.44,556.6 564.56,556.7 564.68,558.4 564.80,558.2 564.92,558.8 565.04,555.3 565.16,555.7 565.28,556.3 565.40,551.9 565.52,554.7 565.65,551.3 565.77,549.1 565.89,548.9 566.01,551.5 566.13,543.9 566.25,541.1 566.37,542.7 566.49,545.1 566.61,537.9 566.73,542.4 566.85,538.0 566.98,535.0 567.10,537.8 567.22,537.2 567.34,536.8 567.46,535.1 567.58,531.8 567.70,532.8 567.82,537.6 567.94,535.2 568.06,541.8 568.18,546.0 568.30,543.0 568.43,549.9 568.55,549.1 568.67,550.6 568.79,554.0 568.91,558.3 569.03,564.3 569.15,566.0 569.27,564.0 569.39,570.2 569.51,574.8 569.63,573.5 569.75,575.0 569.88,580.5 570.00,581.6 570.12,589.1 570.24,589.5 570.36,591.6 570.48,594.2 570.60,600.3 570.72,599.3 570.84,600.8 570.96,600.8 571.08,599.3 571.20,602.8 571.32,597.9 571.44,598.2 571.56,603.6 571.68,602.3 571.80,600.9 571.91,604.4 572.03,604.0 572.15,604.1 572.27,601.6 572.39,604.8 572.51,607.3 572.63,604.8 572.75,603.8 572.87,605.7 572.99,606.8 573.11,608.7 573.23,607.3 573.35,610.0 573.47,611.6 573.59,606.0 573.71,611.9 573.83,608.7 573.95,611.7 574.07,610.6 574.19,610.2 574.30,612.7 574.42,614.3 574.54,613.9 574.66,609.7 574.78,614.1 574.90,613.2 575.02,612.6 575.14,612.9 575.26,614.5 575.38,615.3 575.50,616.6 575.62,613.5 575.74,614.1 575.86,607.0 575.98,606.0 576.10,604.8 576.23,604.0 576.35,596.4 576.47,595.3 576.59,592.1 576.71,593.8 576.83,588.2 576.95,591.7 577.07,584.4 577.19,583.8 577.31,583.1 577.43,577.6 577.55,576.0 577.67,577.2 577.80,576.5 577.92,572.2 578.04,567.5 578.16,568.8 578.28,568.7 578.40,566.6 578.52,564.4 578.64,570.5 578.75,568.9 578.87,573.0 578.99,571.2 579.11,574.8 579.22,574.2 579.34,579.7 579.46,578.3 579.58,582.3 579.69,581.6 579.81,585.6 579.93,586.9 580.05,591.0 580.16,590.8 580.28,590.9 580.40,592.2 580.52,594.5 580.64,588.3 580.76,591.4 580.88,586.3 581.00,588.6 581.12,589.5 581.24,582.3 581.36,587.8 581.48,585.7 581.60,580.1 581.72,585.5 581.84,581.9 581.96,578.7 582.08,576.9 582.20,576.8 582.32,576.0 582.44,577.5 582.56,576.0 582.68,576.6 582.80,573.3 582.92,573.9 583.04,570.2 583.16,572.8 583.28,568.8 583.40,573.1 583.52,570.3 583.64,569.0 583.76,566.6 583.88,568.4 584.00,565.1 584.12,564.7 584.24,561.6 584.36,562.5 584.48,566.4 584.60,560.8 584.72,563.5 584.84,558.3 584.96,557.3 585.08,560.2 585.20,559.9 585.32,559.7 585.44,555.7 585.56,556.7 585.68,558.0 585.80,553.8 585.92,554.4 586.04,551.7 586.16,552.4 586.28,554.6 586.40,550.3 586.52,550.5 586.64,549.5 586.76,550.9 586.88,544.6 587.00,547.6 587.12,547.2 587.24,546.4 587.36,542.4 587.48,539.5 587.60,543.6 587.72,541.1 587.84,540.7 587.96,536.6 588.08,540.3 588.20,535.7 588.32,536.3 588.44,536.8 588.56,537.0 588.68,532.5 588.80,535.3 588.92,532.3 589.04,537.5 589.16,533.3 589.28,533.7 589.40,535.7 589.52,533.9 589.64,534.7 589.76,532.0 589.88,532.6 590.00,531.7 590.12,528.5 590.24,528.4 590.36,529.8 590.48,534.5 590.60,529.8 590.72,530.4 590.84,528.8 590.96,528.8 591.08,526.3 591.20,526.8 591.32,530.9 591.44,530.8 591.56,527.2 591.68,530.0 591.80,530.1 591.92,525.8 592.04,526.3 592.16,527.6 592.28,532.3 592.40,525.9 592.52,529.0 592.64,525.3 592.76,526.4 592.88,525.9 593.00,523.4 593.12,529.0 593.24,528.5 593.36,528.5 593.48,530.0 593.60,530.3 593.72,528.2 593.83,529.5 593.95,531.6 594.07,529.3 594.19,533.7 594.31,529.5 594.43,532.1 594.55,531.9 594.67,535.4 594.79,534.7 594.91,532.6 595.03,533.6 595.15,534.6 595.27,532.3 595.38,530.7 595.50,534.0 595.62,534.3 595.74,532.1 595.86,530.9 595.98,531.6 596.10,532.2 596.22,535.5 596.34,535.7 596.46,541.6 596.58,536.4 596.70,538.3 596.82,540.5 596.94,546.1 597.05,540.4 597.17,547.1 597.29,542.2 597.41,547.0 597.53,544.1 597.65,546.6 597.77,545.7 597.89,547.1 598.01,549.4 598.13,550.9 598.25,549.4 598.37,549.3 598.49,550.8 598.61,555.6 598.73,556.7 598.85,552.7 598.96,557.9 599.08,558.7 599.20,559.0 599.32,559.8 599.44,564.4 599.56,559.6 599.68,566.7 599.80,564.5 599.92,560.8 600.04,566.0 600.15,562.7 600.27,560.7 600.39,560.8 600.51,558.4 600.63,562.7 600.75,558.4 600.86,555.5 600.98,559.2 601.10,559.7 601.22,554.0 601.34,552.0 601.45,552.3 601.57,553.5 601.69,555.5 601.81,550.3 601.93,552.2 602.05,551.0 602.16,554.4 602.28,550.7 602.40,547.9 602.52,551.9 602.64,549.3 602.75,548.2 602.87,547.5 602.99,548.2 603.11,541.9 603.23,542.2 603.35,541.3 603.46,543.6 603.58,540.4 603.70,543.0 603.82,543.9 603.94,536.0 604.06,536.5 604.18,539.6 604.30,537.1 604.42,536.6 604.54,536.8 604.66,535.8 604.78,538.1 604.90,534.8 605.02,536.3 605.14,538.1 605.26,536.1 605.38,540.4 605.50,533.6 605.62,538.6 605.74,535.9 605.86,535.8 605.98,532.1 606.10,535.9 606.22,530.2 606.34,536.7 606.46,535.2 606.58,536.8 606.70,531.3 606.82,535.4 606.94,534.1 607.06,531.2 607.18,531.4 607.30,529.8 607.42,529.6 607.54,530.0 607.66,528.3 607.78,534.3 607.90,528.0 608.02,526.4 608.14,525.7 608.26,524.3 608.38,524.3 608.50,527.4 608.62,526.0 608.74,527.1 608.86,529.7 608.98,526.8 609.10,527.8 609.22,524.6 609.34,527.4 609.46,525.1 609.58,522.4 609.70,521.9 609.82,522.1 609.94,525.8 610.06,527.8 610.18,520.9 610.30,525.8 610.42,526.2 610.54,522.7 610.66,525.8 610.78,523.0 610.90,522.5 611.02,524.9 611.14,520.9 611.26,522.3 611.38,521.5 611.50,522.6 611.62,520.4 611.74,520.9 611.86,521.6 611.98,525.0 612.10,525.2 612.22,522.4 612.34,521.2 612.46,520.4 612.59,525.4 612.71,526.7 612.83,527.8 612.95,527.3 613.07,530.1 613.19,524.2 613.31,525.0 613.43,531.6 613.55,527.3 613.67,529.9 613.79,529.9 613.91,534.4 614.03,531.1 614.15,533.9 614.27,531.7 614.39,531.0 614.51,535.4 614.64,530.3 614.76,536.1 614.88,534.2 615.00,532.1 615.12,537.0 615.24,534.5 615.36,535.8 615.48,532.9 615.60,532.3 615.72,534.4 615.84,536.2 615.96,531.0 616.08,529.0 616.20,530.5 616.32,535.1 616.44,531.8 616.56,527.7 616.68,527.2 616.80,531.8 616.92,530.2 617.04,529.5 617.16,524.2 617.28,528.4 617.41,520.1 617.53,523.3 617.65,525.8 617.77,525.5 617.89,521.6 618.01,518.8 618.13,516.3 618.25,517.4 618.37,513.8 618.49,518.7 618.61,514.5 618.73,512.8 618.85,516.9 618.97,511.6 619.09,509.9 619.21,506.6 619.33,510.1 619.45,505.1 619.57,509.6 619.69,509.8 619.81,507.9 619.93,509.1 620.05,502.7 620.17,505.3 620.29,499.5 620.41,503.5 620.53,501.1 620.65,498.3 620.77,499.1 620.89,503.2 621.02,503.1 621.14,496.4 621.26,497.1 621.38,496.7 621.50,493.7 621.62,495.8 621.74,492.0 621.86,493.1 621.98,491.0 622.10,496.2 622.22,494.7 622.34,489.0 622.46,491.2 622.58,486.4 622.70,489.7 622.82,487.6 622.94,486.9 623.06,488.4 623.18,483.4 623.30,482.9 623.43,481.8 623.55,482.6 623.67,483.6 623.79,482.1 623.91,485.8 624.03,483.2 624.15,481.7 624.27,483.0 624.39,484.2 624.51,481.6 624.63,484.5 624.76,480.5 624.88,483.4 625.00,476.8 625.12,481.8 625.24,482.3 625.36,480.8 625.48,477.9 625.60,481.5 625.72,479.7 625.84,478.3 625.97,484.0 626.09,482.4 626.21,481.6 626.33,476.6 626.45,480.6 626.57,476.6 626.69,478.3 626.81,475.2 626.93,480.3 627.05,478.0 627.17,479.9 627.30,478.5 627.42,473.8 627.54,470.0 627.66,471.5 627.78,476.5 627.90,473.3 628.02,474.8 628.14,475.3 628.26,470.4 628.38,472.0 628.50,476.7 628.62,470.8 628.74,471.7 628.86,471.9 628.98,474.4 629.10,476.2 629.22,475.4 629.34,478.0 629.46,479.1 629.58,482.1 629.70,475.1 629.82,475.8 629.94,479.3 630.06,475.9 630.18,479.3 630.30,482.5 630.42,480.3 630.54,486.1 630.66,478.9 630.78,486.6 630.90,488.2 631.02,483.2 631.14,483.8 631.26,480.6 631.38,484.0 631.50,484.0 631.62,477.4 631.74,476.9 631.86,483.5 631.99,478.5 632.11,475.2 632.23,480.5 632.35,474.9 632.47,476.8 632.59,476.1 632.71,476.2 632.83,471.3 632.95,473.4 633.07,476.3 633.19,471.3 633.31,472.6 633.43,473.5 633.55,466.2 633.67,464.3 633.79,466.6 633.91,466.0 634.04,464.7 634.16,464.8 634.28,466.3 634.40,465.8 634.52,463.3 634.64,461.7 634.76,465.2 634.88,459.1 635.00,460.1 635.12,459.7 635.24,457.2 635.36,464.2 635.48,458.0 635.60,457.1 635.72,458.4 635.83,461.6 635.95,466.8 636.07,463.0 636.19,459.0 636.31,463.1 636.43,460.6 636.55,467.3 636.67,462.6 636.79,463.9 636.91,467.7 637.03,469.6 637.15,467.1 637.27,468.1 637.38,465.9 637.50,467.8 637.62,471.7 637.74,468.3 637.86,471.2 637.98,470.1 638.10,469.3 638.22,475.4 638.34,472.5 638.46,466.9 638.58,470.8 638.70,464.0 638.82,464.0 638.94,463.1 639.06,467.2 639.19,458.0 639.31,456.3 639.43,461.8 639.55,452.8 639.67,452.1 639.79,457.7 639.91,447.8 640.03,451.2 640.15,451.4 640.27,450.6 640.39,447.7 640.51,447.3 640.63,441.6 640.75,446.8 640.87,438.5 640.99,440.2 641.11,441.4 641.24,440.2 641.36,438.9 641.48,434.7 641.60,435.2 641.72,434.3 641.84,430.1 641.96,432.5 642.08,432.8 642.20,427.6 642.32,427.9 642.44,432.1 642.55,427.9 642.67,426.7 642.79,429.5 642.91,433.6 643.02,433.9 643.14,429.7 643.26,436.6 643.38,434.6 643.49,437.9 643.61,434.4 643.73,435.4 643.85,437.1 643.96,434.4 644.08,442.6 644.20,442.1 644.32,439.8 644.44,437.0 644.56,433.5 644.68,432.6 644.80,436.9 644.92,433.2 645.03,435.6 645.15,433.4 645.27,428.0 645.39,428.4 645.51,430.1 645.63,431.9 645.75,431.4 645.87,431.3 645.99,425.5 646.11,427.2 646.23,430.8 646.35,430.9 646.47,421.7 646.58,428.4 646.70,420.1 646.82,428.0 646.94,424.7 647.06,425.8 647.18,423.4 647.30,417.6 647.42,420.3 647.54,420.4 647.66,422.8 647.78,422.4 647.90,416.8 648.02,418.2 648.13,420.4 648.25,413.4 648.37,415.2 648.49,414.7 648.61,415.4 648.73,409.5 648.85,417.2 648.97,407.7 649.09,415.3 649.21,406.7 649.33,406.6 649.45,407.9 649.57,410.2 649.68,408.3 649.80,403.4 649.92,403.9 650.04,398.8 650.16,398.0 650.28,398.6 650.40,401.7 650.52,398.9 650.64,395.8 650.76,398.7 650.88,398.1 651.00,399.5 651.12,399.6 651.24,392.7 651.36,397.6 651.48,393.2 651.60,394.3 651.72,397.1 651.84,396.5 651.96,392.3 652.08,393.4 652.20,395.6 652.32,393.3 652.44,389.2 652.56,393.8 652.68,387.4 652.80,384.1 652.92,385.3 653.04,383.9 653.16,387.0 653.28,384.3 653.40,378.5 653.52,381.5 653.64,388.4 653.76,382.7 653.88,382.3 654.00,387.3 654.12,382.3 654.23,380.0 654.35,387.7 654.47,388.1 654.59,384.9 654.71,389.1 654.83,384.2 654.95,391.7 655.07,387.8 655.19,386.2 655.31,386.8 655.43,395.6 655.55,391.3 655.67,392.6 655.78,390.2 655.90,393.2 656.02,395.3 656.14,399.0 656.26,392.1 656.38,399.6 656.50,397.9 656.62,398.7 656.74,392.5 656.86,392.2 656.98,392.1 657.10,399.0 657.22,397.0 657.33,398.9 657.45,394.8 657.57,400.7 657.69,397.4 657.81,404.3 657.93,398.4 658.05,395.7 658.17,407.1 658.29,405.6 658.41,405.8 658.53,406.3 658.65,403.3 658.77,400.1 658.88,408.7 659.00,399.8 659.12,398.3 659.24,405.5 659.36,404.5 659.48,409.5 659.60,403.8 659.72,405.6 659.84,406.5 659.96,401.2 660.08,398.4 660.20,397.7 660.32,399.2 660.43,394.3 660.55,390.0 660.67,391.1 660.79,395.0 660.91,391.1 661.03,390.2 661.15,383.2 661.27,383.2 661.39,388.8 661.51,381.0 661.63,381.3 661.75,384.0 661.87,376.2 661.98,372.8 662.10,374.4 662.22,375.6 662.34,374.3 662.46,367.0 662.58,365.6 662.70,373.5 662.82,363.8 662.94,369.1 663.06,374.1 663.18,374.6 663.31,367.5 663.43,368.9 663.55,374.8 663.67,375.1 663.79,376.4 663.91,368.5 664.03,369.2 664.15,372.3 664.28,377.5 664.40,371.4 664.52,373.8 664.64,372.9 664.76,380.2 664.88,374.9 665.00,373.6 665.12,376.4 665.25,380.8 665.37,379.9 665.49,383.0 665.61,382.8 665.73,383.8 665.85,378.9 665.97,381.0 666.09,381.8 666.22,388.6 666.34,383.6 666.46,384.7 666.58,388.9 666.70,383.8 666.82,386.7 666.94,383.1 667.06,385.2 667.18,377.6 667.30,378.4 667.42,375.6 667.53,384.1 667.65,380.5 667.77,378.3 667.89,379.2 668.01,382.1 668.13,376.7 668.25,371.1 668.37,379.2 668.49,377.2 668.61,375.8 668.73,368.2 668.85,376.0 668.97,378.0 669.08,369.2 669.20,370.9 669.32,369.5 669.44,372.2 669.56,365.8 669.68,368.4 669.80,365.8 669.92,363.4 670.04,371.7 670.16,365.9 670.28,361.8 670.40,363.9 670.52,365.6 670.63,360.6 670.75,362.2 670.87,356.7 670.99,363.1 671.11,357.3 671.23,355.3 671.35,361.2 671.47,359.8 671.59,356.0 671.71,353.0 671.83,352.9 671.95,358.2 672.07,353.8 672.18,349.0 672.30,354.4 672.42,355.3 672.54,345.4 672.66,354.5 672.78,345.2 672.90,350.9 673.02,353.5 673.14,352.5 673.25,343.9 673.37,347.7 673.49,346.5 673.61,341.0 673.72,343.8 673.84,340.0 673.96,343.0 674.08,338.9 674.19,341.5 674.31,341.7 674.43,335.8 674.55,339.8 674.66,332.1 674.78,335.8 674.90,341.0 675.02,332.1 675.14,341.9 675.26,337.3 675.38,337.3 675.50,340.3 675.62,349.2 675.73,348.5 675.85,341.6 675.97,345.6 676.09,345.5 676.21,352.9 676.33,348.6 676.45,349.8 676.57,353.5 676.69,351.8 676.81,347.1 676.93,357.8 677.05,357.3 677.17,355.5 677.28,359.2 677.40,353.9 677.52,354.8 677.64,361.5 677.76,358.2 677.88,355.3 678.00,364.2 678.12,362.9 678.24,355.7 678.36,355.3 678.48,351.5 678.60,356.5 678.72,358.1 678.83,355.2 678.95,357.0 679.07,358.9 679.19,351.2 679.31,348.8 679.43,353.8 679.55,348.5 679.67,350.2 679.79,343.9 679.91,350.9 680.03,350.8 680.15,342.9 680.27,342.5 680.38,337.8 680.50,342.0 680.62,341.7 680.74,341.7 680.86,345.0 680.98,336.1 681.10,335.4 681.22,340.0 681.34,340.0 681.46,337.6 681.58,342.9 681.70,349.6 681.82,345.7 681.94,352.2 682.06,349.2 682.18,344.4 682.30,346.5 682.42,356.4 682.54,350.3 682.66,349.5 682.78,357.2 682.90,361.1 683.02,354.1 683.14,357.8 683.26,363.2 683.38,366.1 683.50,367.4 683.62,364.1 683.74,364.0 683.86,361.9 683.98,369.0 684.10,363.0 684.22,367.7 684.34,374.8 684.46,373.2 684.58,378.0 684.70,380.6 684.82,371.9 684.94,378.1 685.06,382.4 685.18,385.7 685.30,381.7 685.42,380.5 685.54,379.4 685.66,372.1 685.78,380.8 685.90,373.8 686.02,368.8 686.14,369.9 686.27,367.4 686.39,373.7 686.51,367.4 686.63,369.2 686.75,369.9 686.87,371.7 686.99,364.0 687.11,365.0 687.23,364.4 687.35,367.0 687.47,357.8 687.59,357.3 687.71,355.0 687.83,360.7 687.96,361.8 688.08,359.0 688.20,355.0 688.32,355.2 688.44,351.8 688.56,354.7 688.68,354.8 688.80,351.7 688.92,350.4 689.04,348.5 689.16,346.6 689.28,347.4 689.40,339.8 689.52,347.1 689.64,337.7 689.77,335.7 689.89,345.4 690.01,337.5 690.13,334.9 690.25,341.6 690.37,341.2 690.49,335.0 690.61,334.1 690.73,335.1 690.85,327.0 690.97,326.2 691.09,333.8 691.21,330.9 691.33,322.6 691.46,323.2 691.58,328.2 691.70,326.0 691.82,319.5 691.94,317.1 692.06,318.2 692.18,315.2 692.30,316.5 692.42,325.8 692.54,319.0 692.66,321.8 692.78,321.0 692.90,328.3 693.02,319.3 693.14,325.0 693.27,331.3 693.39,323.7 693.51,332.9 693.63,334.5 693.75,328.0 693.87,330.1 693.99,329.3 694.11,336.7 694.23,336.1 694.35,333.4 694.47,336.6 694.59,339.2 694.71,337.8 694.83,335.9 694.96,339.1 695.08,340.7 695.20,339.6 695.32,340.6 695.44,342.9 695.56,348.9 695.68,350.3 695.80,354.2 695.92,346.9 696.04,353.6 696.16,353.9 696.28,350.1 696.40,345.4 696.52,345.2 696.64,349.2 696.77,347.8 696.89,350.2 697.01,348.3 697.13,339.9 697.25,338.6 697.37,346.0 697.49,344.3 697.61,346.8 697.73,337.0 697.85,338.6 697.97,337.1 698.09,333.2 698.21,340.2 698.33,339.9 698.46,340.0 698.58,332.9 698.70,333.6 698.82,330.4 698.94,328.6 699.06,333.1 699.18,326.7 699.30,328.4 699.42,326.2 699.54,321.8 699.66,331.4 699.78,323.5 699.90,322.7 700.02,327.0 700.14,323.9 700.27,324.5 700.39,319.9 700.51,319.5 700.63,318.8 700.75,323.4 700.87,320.9 700.99,311.9 701.11,321.4 701.23,319.5 701.35,314.5 701.47,317.4 701.59,316.0 701.71,312.8 701.83,310.1 701.96,307.7 702.08,304.6 702.20,299.8 702.32,302.8 702.44,301.1 702.56,303.3 702.68,301.3 702.80,297.6 702.92,307.5 703.04,304.5 703.16,310.0 703.28,310.6 703.40,304.2 703.52,302.9 703.64,308.4 703.77,309.3 703.89,303.3 704.01,310.0 704.13,308.5 704.25,306.4 704.37,316.5 704.49,314.8 704.61,315.5 704.73,311.0 704.85,310.0 704.97,314.8 705.09,314.0 705.21,313.5 705.33,309.9 705.46,313.9 705.58,319.6 705.70,314.9 705.82,322.3 705.94,318.0 706.06,319.5 706.18,317.4 706.30,318.7 706.42,321.0 706.54,318.7 706.66,319.2 706.78,322.7 706.90,315.1 707.02,315.6 707.14,319.5 707.26,316.0 707.38,313.8 707.50,319.1 707.62,316.9 707.75,319.5 707.87,318.5 707.99,313.2 708.11,311.9 708.23,306.4 708.35,314.1 708.47,304.7 708.59,305.8 708.71,309.7 708.83,306.5 708.95,306.3 709.07,312.7 709.19,303.1 709.31,303.9 709.43,312.8 709.55,312.7 709.67,304.2 709.79,311.2 709.91,309.3 710.03,308.5 710.15,305.2 710.27,304.8 710.40,311.5 710.52,303.6 710.64,312.7 710.76,311.4 710.88,301.5 711.00,304.0 711.12,302.6 711.24,304.8 711.36,301.9 711.48,306.5 711.60,306.9 711.72,311.2 711.84,303.2 711.96,304.9 712.08,311.6 712.19,311.8 712.31,311.0 712.43,317.2 712.55,316.2 712.67,320.6 712.79,318.2 712.91,318.7 713.03,324.5 713.15,324.7 713.26,323.6 713.38,320.5 713.50,320.6 713.62,326.7 713.74,330.3 713.86,328.3 713.98,335.1 714.10,339.8 714.22,332.5 714.34,333.6 714.45,342.7 714.57,346.3 714.69,339.6 714.81,350.6 714.93,347.8 715.05,347.1 715.17,352.4 715.29,356.7 715.41,354.8 715.52,357.4 715.64,354.3 715.76,353.6 715.88,364.1 716.00,362.5 716.12,361.0 716.24,362.8 716.36,362.1 716.48,358.0 716.60,354.1 716.72,356.6 716.84,357.4 716.97,354.8 717.09,353.7 717.21,352.1 717.33,356.6 717.45,353.1 717.57,351.1 717.69,350.8 717.81,355.4 717.93,355.7 718.05,358.6 718.17,351.9 718.29,356.9 718.41,359.1 718.53,352.8 718.66,353.0 718.78,356.7 718.90,353.1 719.02,350.0 719.14,353.9 719.26,351.4 719.38,347.9 719.50,353.1 719.62,346.2 719.74,353.6 719.86,351.2 719.98,345.8 720.09,348.1 720.21,341.3 720.33,345.1 720.45,347.9 720.57,339.9 720.69,334.7 720.81,336.6 720.93,337.7 721.05,338.9 721.16,328.3 721.28,334.8 721.40,326.4 721.52,335.0 721.64,324.5 721.76,329.7 721.88,329.1 722.00,322.7 722.12,319.0 722.24,326.3 722.35,317.7 722.47,313.7 722.59,321.7 722.71,312.9 722.83,320.8 722.95,319.1 723.07,314.4 723.19,309.8 723.31,309.2 723.42,308.9 723.54,306.5 723.66,311.2 723.78,310.6 723.90,307.1 724.02,308.4 724.14,311.5 724.26,303.8 724.38,313.5 724.50,312.4 724.62,304.7 724.74,308.5 724.87,319.2 724.99,307.5 725.11,318.7 725.23,322.4 725.35,322.5 725.47,319.5 725.59,323.0 725.71,322.6 725.83,326.0 725.95,327.0 726.07,328.9 726.19,329.6 726.31,319.2 726.43,321.9 726.56,332.8 726.68,329.6 726.80,329.6 726.92,330.8 727.04,332.2 727.16,332.9 727.28,329.2 727.40,336.3 727.52,339.4 727.64,340.4 727.76,335.9 727.88,343.8 728.00,338.8 728.12,339.0 728.24,340.7 728.37,338.6 728.49,346.0 728.61,349.6 728.73,349.3 728.85,349.5 728.97,351.7 729.09,350.6 729.21,351.3 729.33,355.1 729.45,356.8 729.57,352.6 729.69,355.4 729.81,354.0 729.93,360.8 730.06,364.3 730.18,364.5 730.30,370.2 730.42,362.3 730.54,367.2 730.66,373.1 730.78,373.4 730.90,366.6 731.02,364.7 731.14,370.6 731.26,362.2 731.38,362.1 731.50,362.7 731.63,361.6 731.75,360.8 731.87,358.8 731.99,353.7 732.11,354.0 732.23,350.5 732.35,353.5 732.47,347.3 732.59,347.1 732.71,352.6 732.83,352.5 732.96,343.6 733.08,347.2 733.20,342.6 733.32,341.6 733.44,345.4 733.56,336.5 733.68,335.2 733.80,337.5 733.92,338.3 734.04,328.6 734.17,333.7 734.29,334.5 734.41,328.2 734.53,321.4 734.65,330.0 734.77,319.1 734.89,318.8 735.01,314.4 735.13,318.0 735.25,312.2 735.37,314.4 735.50,312.9 735.62,310.3 735.74,312.6 735.86,307.2 735.98,312.7 736.10,310.3 736.22,307.2 736.34,306.5 736.46,313.1 736.58,309.3 736.70,301.0 736.82,301.1 736.94,308.8 737.06,304.1 737.18,301.9 737.30,304.6 737.42,304.0 737.55,304.5 737.67,302.6 737.79,298.5 737.91,296.8 738.03,295.7 738.15,296.7 738.27,299.2 738.39,295.5 738.51,304.3 738.63,299.6 738.75,300.2 738.87,298.2 738.99,303.0 739.11,295.4 739.23,302.2 739.35,300.8 739.47,300.8 739.59,295.6 739.71,299.6 739.83,300.8 739.95,299.3 740.08,291.5 740.20,300.9 740.32,293.1 740.44,298.3 740.56,290.6 740.68,288.8 740.80,297.1 740.92,292.9 741.04,285.8 741.16,286.4 741.28,294.1 741.40,292.2 741.52,285.5 741.64,289.6 741.76,296.7 741.88,294.1 742.00,296.7 742.12,290.9 742.24,293.3 742.36,291.2 742.48,297.1 742.60,294.1 742.73,296.5 742.85,290.7 742.97,295.7 743.09,301.9 743.21,293.4 743.33,297.7 743.45,297.8 743.57,299.1 743.69,306.0 743.81,304.9 743.93,305.5 744.05,305.1 744.17,303.4 744.29,304.2 744.41,297.8 744.53,297.1 744.65,296.3 744.77,304.9 744.89,298.5 745.01,301.9 745.13,298.8 745.25,304.3 745.38,301.6 745.50,305.3 745.62,302.0 745.74,302.8 745.86,312.0 745.98,312.2 746.10,309.6 746.22,313.4 746.34,314.8 746.46,311.6 746.58,307.0 746.70,307.0 746.81,307.9 746.93,301.7 747.04,285.7 747.16,282.8 747.27,271.2 747.39,267.4 747.50,256.8 747.62,254.4 747.74,259.8 747.86,265.3 747.98,253.5 748.10,262.4 748.22,260.5 748.33,258.1 748.45,253.2 748.57,258.5 748.69,261.1 748.81,251.8 748.93,263.9 749.05,257.7 749.17,260.6 749.29,263.9 749.41,261.6 749.53,264.1 749.65,263.2 749.77,252.4 749.88,258.1 750.00,253.8 750.12,254.8 750.24,255.1 750.36,253.7 750.48,250.8 750.60,258.2 750.72,253.3 750.84,258.0 750.96,254.6 751.08,257.1 751.20,260.7 751.32,250.8 751.43,259.1 751.55,246.8 751.67,244.5 751.79,248.0 751.91,252.3 752.03,249.0 752.15,253.3 752.27,249.1 752.39,247.0 752.51,241.7 752.63,243.5 752.75,247.5 752.87,251.2 752.98,243.3 753.10,250.3 753.22,246.0 753.34,246.5 753.46,243.8 753.58,245.0 753.70,240.7 753.82,239.4 753.94,245.1 754.06,242.9 754.18,246.7 754.30,256.3 754.41,249.8 754.53,255.9 754.65,255.6 754.77,246.0 754.89,248.4 755.01,247.4 755.13,250.0 755.25,258.5 755.37,256.4 755.49,248.6 755.61,254.9 755.73,256.0 755.84,257.7 755.96,264.1 756.08,253.2 756.20,261.3 756.32,253.5 756.44,265.5 756.56,254.0 756.68,267.8 756.80,261.7 756.92,258.0 757.04,259.9 757.16,268.0 757.27,266.8 757.39,270.7 757.51,266.7 757.63,260.9 757.75,265.6 757.87,263.5 757.99,261.5 758.11,271.1 758.23,265.0 758.35,274.0 758.47,275.7 758.59,268.2 758.70,267.3 758.82,266.8 758.94,277.0 759.06,268.7 759.18,270.3 759.30,268.2 759.42,269.1 759.53,267.2 759.65,263.0 759.77,259.0 759.89,252.5 760.00,249.2 760.12,244.3 760.24,246.0 760.36,243.9 760.47,236.2 760.59,234.4 760.71,235.9 760.83,223.7 760.94,223.4 761.06,218.7 761.18,223.9 761.30,222.2 761.41,211.2 761.53,219.9 761.65,206.1 761.77,209.1 761.88,209.8 762.00,197.6 762.12,199.5 762.24,199.8 762.36,200.3 762.48,193.5 762.60,206.8 762.71,195.5 762.83,195.5 762.95,202.8 763.07,198.4 763.19,205.9 763.31,202.3 763.43,202.2 763.55,201.7 763.67,202.6 763.79,207.5 763.91,214.9 764.03,207.1 764.14,205.6 764.26,208.6 764.38,209.8 764.50,209.6 764.62,203.7 764.74,213.1 764.86,207.6 764.98,206.4 765.10,205.6 765.22,209.7 765.34,217.6 765.46,214.0 765.57,216.3 765.69,211.1 765.81,212.7 765.93,211.0 766.05,210.3 766.17,213.8 766.29,219.4 766.41,211.2 766.53,217.4 766.65,215.3 766.77,216.2 766.89,212.8 767.00,214.9 767.12,220.0 767.24,220.7 767.36,221.8 767.48,217.9 767.60,223.9 767.72,222.1 767.84,219.8 767.97,215.9 768.09,208.1 768.21,206.4 768.33,210.7 768.45,211.1 768.57,203.6 768.70,207.7 768.82,207.9 768.94,199.7 769.06,201.6 769.18,196.1 769.30,204.5 769.43,197.9 769.55,196.3 769.67,191.2 769.79,197.0 769.91,193.6 770.03,196.6 770.16,194.5 770.28,194.7 770.40,193.6 770.52,195.7 770.63,183.0 770.75,197.3 770.87,196.8 770.99,196.5 771.10,189.7 771.22,196.3 771.34,189.5 771.46,199.8 771.57,205.0 771.69,202.0 771.81,207.7 771.93,203.4 772.04,209.1 772.16,208.0 772.28,202.2 772.40,216.0 772.51,203.8 772.63,213.3 772.75,216.2 772.87,214.7 772.98,210.2 773.10,221.0 773.22,209.5 773.34,210.5 773.46,211.7 773.58,211.9 773.69,215.8 773.81,217.5 773.93,208.5 774.05,215.9 774.17,210.2 774.29,213.3 774.41,204.7 774.52,212.5 774.64,202.3 774.76,202.5 774.88,206.0 775.00,202.9 775.12,202.3 775.24,193.3 775.36,199.5 775.48,191.5 775.59,198.7 775.71,194.2 775.83,197.5 775.95,193.9 776.07,191.7 776.19,185.7 776.31,185.8 776.42,191.2 776.54,181.1 776.66,182.3 776.78,177.4 776.90,181.1 777.02,192.0 777.14,185.0 777.26,194.9 777.38,194.9 777.50,199.7 777.62,197.1 777.74,193.6 777.86,200.8 777.98,205.1 778.10,204.4 778.22,208.2 778.34,218.6 778.46,215.0 778.58,212.5 778.70,218.7 778.82,223.0 778.94,224.0 779.06,222.1 779.18,211.2 779.30,216.9 779.42,218.0 779.54,221.8 779.66,216.4 779.78,210.1 779.90,212.6 780.02,205.8 780.14,210.6 780.26,208.8 780.39,216.1 780.51,215.9 780.63,203.2 780.75,204.6 780.87,204.6 780.99,209.3 781.11,203.2 781.23,210.3 781.35,213.4 781.47,213.7 781.59,207.4 781.71,210.4 781.83,208.9 781.95,205.4 782.07,202.9 782.19,201.2 782.31,203.1 782.43,202.3 782.55,203.5 782.67,201.8 782.79,194.3 782.91,194.8 783.03,198.5 783.15,193.4 783.27,202.4 783.39,194.5 783.51,193.1 783.64,195.0 783.76,188.2 783.88,189.3 784.00,200.2 784.12,197.3 784.24,193.8 784.36,192.8 784.48,188.9 784.60,188.2 784.72,195.2 784.84,190.6 784.96,188.8 785.08,191.1 785.20,185.1 785.32,191.5 785.44,183.2 785.57,199.4 785.69,197.1 785.81,202.6 785.93,201.7 786.05,202.9 786.17,204.1 786.30,203.1 786.42,200.9 786.54,197.5 786.66,201.2 786.78,202.1 786.90,203.7 787.03,215.7 787.15,207.4 787.27,209.5 787.39,217.4 787.51,213.2 787.63,216.9 787.76,219.4 787.88,222.9 788.00,220.8 788.12,224.1 788.24,220.6 788.36,218.8 788.48,208.7 788.61,213.3 788.73,215.1 788.85,203.0 788.97,208.5 789.09,208.4 789.21,200.6 789.33,209.5 789.45,198.2 789.57,194.4 789.69,194.7 789.82,198.0 789.94,196.0 790.06,195.9 790.18,196.2 790.30,187.2 790.42,190.3 790.54,195.7 790.66,187.9 790.78,183.7 790.91,189.3 791.03,186.7 791.15,188.4 791.27,183.0 791.39,185.5 791.51,174.2 791.63,173.8 791.75,175.1 791.87,175.2 791.99,169.8 792.12,177.5 792.24,179.3 792.36,169.7 792.48,166.9 792.60,168.0 792.72,162.1 792.84,168.1 792.96,167.2 793.08,170.1 793.21,169.0 793.33,165.1 793.45,167.4 793.57,176.7 793.69,169.6 793.81,170.1 793.93,175.7 794.05,170.0 794.17,178.3 794.29,175.5 794.42,170.2 794.54,176.5 794.66,169.3 794.78,171.9 794.90,172.4 795.02,170.8 795.14,181.8 795.26,175.2 795.38,173.5 795.51,181.5 795.63,181.0 795.75,172.0 795.87,172.9 795.99,171.8 796.11,176.0 796.23,177.5 796.35,183.5 796.47,188.9 796.59,185.0 796.72,177.1 796.84,186.0 796.96,181.9 797.08,180.7 797.20,180.5 797.32,177.3 797.44,181.2 797.56,172.7 797.68,177.4 797.79,175.4 797.91,168.8 798.03,171.1 798.15,161.5 798.27,174.0 798.39,165.4 798.51,160.4 798.62,160.9 798.74,164.1 798.86,151.1 798.98,153.4 799.10,142.7 799.22,145.9 799.34,146.9 799.46,143.1 799.58,141.1 799.71,147.1 799.83,143.4 799.95,141.5 800.07,140.8 800.19,145.8 800.31,140.6 800.43,136.7 800.55,132.5 800.67,136.1 800.79,129.4 800.92,141.4 801.04,139.0 801.16,135.7 801.28,130.1 801.40,137.5 801.52,130.8 801.64,132.0 801.76,130.5 801.88,124.7 802.01,122.5 802.13,130.5 802.25,126.3 802.37,128.5 802.49,126.5 802.61,116.2 802.73,122.9 802.85,123.7 802.97,115.8 803.09,124.9 803.22,110.1 803.34,111.1 803.46,113.0 803.58,111.2 803.70,112.0 803.82,111.3 803.94,125.7 804.06,120.2 804.18,133.6 804.29,136.6 804.41,135.4 804.53,137.5 804.65,144.0 804.77,138.9 804.89,142.4 805.01,156.0 805.12,161.1 805.24,161.6 805.36,167.9 805.48,173.0 805.60,180.9 805.72,182.5 805.84,171.5 805.96,171.3 806.08,172.0 806.20,179.2 806.32,172.2 806.44,181.7 806.55,175.8 806.67,179.6 806.79,183.2 806.91,179.1 807.03,180.7 807.15,171.9 807.27,185.3 807.39,176.2 807.51,178.3 807.63,172.3 807.75,180.2 807.87,177.5 807.99,173.2 808.11,179.5 808.23,173.1 808.35,186.3 808.46,172.9 808.58,181.2 808.70,181.9 808.82,185.0 808.94,184.5 809.06,176.8 809.18,177.5 809.30,178.3 809.42,172.8 809.54,180.9 809.66,172.8 809.78,176.8 809.91,175.8 810.03,176.9 810.15,174.7 810.27,171.7 810.39,169.0 810.51,173.1 810.63,167.9 810.75,163.7 810.87,168.3 810.99,168.9 811.12,164.7 811.24,167.5 811.36,169.8 811.48,165.7 811.60,163.7 811.72,159.3 811.84,159.2 811.96,157.3 812.08,160.1 812.21,162.4 812.33,161.1 812.45,165.7 812.57,168.0 812.69,154.7 812.81,160.3 812.93,152.0 813.05,160.1 813.17,149.1 813.29,159.3 813.42,155.9 813.54,157.9 813.66,152.7 813.78,157.9 813.90,158.0 814.02,149.6 814.14,141.4 814.26,152.9 814.38,147.8 814.50,140.2 814.62,136.7 814.74,138.9 814.85,136.0 814.97,140.9 815.09,145.0 815.21,139.5 815.33,141.3 815.45,132.6 815.57,135.8 815.69,134.0 815.81,139.4 815.93,132.7 816.05,139.5 816.17,126.3 816.29,133.8 816.41,127.1 816.53,133.6 816.65,128.9 816.76,121.6 816.88,125.7 817.00,120.0 817.12,119.3 817.24,131.6 817.36,119.2 817.48,125.2 817.60,129.4 817.72,127.8 817.84,122.7 817.96,115.7 818.08,123.5 818.20,117.2 818.32,122.3 818.44,116.9 818.55,115.9 818.67,124.8 818.79,114.8 818.91,120.8 819.03,118.7 819.15,125.7 819.27,122.2 819.39,120.5 819.51,115.7 819.63,109.7 819.75,117.0 819.87,120.1 819.99,111.2 820.11,117.8 820.23,119.8 820.35,111.1 820.46,105.7 820.58,117.8 820.70,112.0 820.82,108.4 820.94,104.5 821.06,109.1 821.18,111.5 821.30,102.9 821.42,114.5 821.54,111.1 821.66,108.8 821.78,108.9 821.90,102.6 822.02,103.1 822.14,109.5 822.25,103.6 822.37,104.6 822.49,105.1 822.61,99.2 822.73,101.4 822.85,107.3 822.97,105.4 823.09,103.2 823.21,102.8 823.33,99.6 823.45,110.4 823.57,110.3 823.69,98.9 823.81,99.9 823.93,108.0 824.05,104.7 824.16,101.6 824.28,100.3 824.40,97.0 824.52,103.9 824.64,107.1 824.76,95.0 824.88,92.7 825.00,100.8 825.12,105.8 825.24,104.2 825.36,98.2 825.48,100.5 825.60,101.1 825.72,94.1 825.84,101.9 825.95,105.0 826.07,106.8 826.19,110.1 826.31,110.3 826.43,110.5 826.55,106.4 826.67,111.1 826.79,102.3 826.91,102.4 827.03,107.4 827.15,116.6 827.27,115.1 827.39,112.8 827.51,106.3 827.63,112.1 827.75,109.9 827.86,117.4 827.98,113.7 828.10,112.3 828.22,114.2 828.34,117.1 828.46,125.3 828.58,128.9 828.70,125.5 828.82,127.9 828.94,133.0 829.07,125.9 829.19,132.3 829.31,129.3 829.43,139.6 829.55,133.6 829.67,137.3 829.80,144.0 829.92,154.2 830.04,142.7 830.16,151.5 830.28,155.5 830.40,157.8 830.53,156.5 830.65,163.8 830.77,167.2 830.89,165.3 831.01,162.2 831.13,173.9 831.26,177.9 831.38,177.9 831.50,184.8 831.62,174.2 831.74,175.8 831.86,171.5 831.98,176.8 832.10,176.9 832.22,175.6 832.34,167.8 832.45,172.2 832.57,172.6 832.69,159.8 832.81,171.2 832.93,162.7 833.05,170.9 833.17,157.7 833.29,157.1 833.41,157.2 833.53,162.2 833.65,165.0 833.77,167.0 833.89,155.4 834.01,153.7 834.13,165.6 834.25,151.2 834.36,158.9 834.48,160.5 834.60,146.1 834.72,145.6 834.84,152.2 834.96,149.7 835.08,154.3 835.20,145.6 835.32,154.6 835.44,153.2 835.56,172.0 835.68,178.6 835.80,184.9 835.92,186.8 836.04,190.9 836.16,198.8 836.28,205.0 836.40,222.0 836.52,223.1 836.64,226.4 836.76,233.1 836.88,246.2 837.00,254.0 837.12,245.9 837.24,240.6 837.36,242.3 837.48,236.1 837.60,244.5 837.72,231.9 837.84,238.2 837.95,225.9 838.07,224.4 838.19,226.3 838.31,220.8 838.43,212.9 838.55,213.4 838.67,217.6 838.79,216.2 838.91,206.9 839.03,209.0 839.15,206.5 839.27,197.5 839.39,205.8 839.51,198.9 839.63,195.5 839.75,196.1 839.86,192.6 839.98,179.1 840.10,176.6 840.22,172.9 840.34,175.2 840.46,173.0 840.58,176.1 840.70,162.9 840.82,164.7 840.94,160.2 841.06,164.1 841.18,154.9 841.29,164.0 841.41,156.3 841.53,152.0 841.65,163.5 841.77,157.6 841.89,156.9 842.01,145.3 842.12,152.8 842.24,144.9 842.36,141.8 842.48,143.4 842.60,146.8 842.72,144.3 842.84,146.4 842.96,139.3 843.08,147.8 843.20,140.4 843.32,138.3 843.44,143.6 843.55,148.1 843.67,145.3 843.79,152.9 843.91,152.3 844.03,148.0 844.15,149.4 844.27,156.0 844.39,155.9 844.51,154.3 844.63,149.5 844.75,154.0 844.87,157.9 844.99,165.4 845.11,165.1 845.23,163.2 845.35,166.8 845.46,156.6 845.58,161.2 845.70,157.8 845.82,168.1 845.94,160.1 846.06,161.3 846.18,170.8 846.30,171.5 846.42,172.2 846.54,170.4 846.66,161.8 846.78,169.3 846.90,166.1 847.02,157.4 847.14,161.1 847.25,165.0 847.37,153.2 847.49,165.6 847.61,155.3 847.73,153.8 847.85,145.7 847.97,153.9 848.09,152.0 848.21,156.8 848.33,143.5 848.45,149.4 848.57,147.8 848.69,140.0 848.81,141.5 848.93,144.4 849.05,136.0 849.16,140.6 849.28,138.0 849.40,143.7 849.52,126.8 849.64,130.3 849.76,125.9 849.88,124.6 850.00,133.0 850.12,130.9 850.24,129.6 850.37,142.2 850.49,141.9 850.61,137.4 850.73,154.0 850.85,153.3 850.97,154.1 851.10,149.0 851.22,147.9 851.34,157.9 851.46,157.1 851.58,154.6 851.70,156.3 851.83,159.8 851.95,165.7 852.07,163.5 852.19,167.1 852.31,175.4 852.43,181.8 852.56,185.4 852.68,177.5 852.80,183.0 852.92,187.6 853.04,186.2 853.16,185.8 853.28,177.4 853.40,177.7 853.52,182.4 853.64,181.0 853.76,173.3 853.88,175.9 854.00,171.6 854.12,170.4 854.23,174.6 854.35,173.7 854.47,167.7 854.59,168.7 854.71,155.1 854.83,162.3 854.95,159.8 855.07,156.0 855.19,162.4 855.31,157.7 855.43,158.4 855.55,146.5 855.67,147.3 855.79,147.2 855.91,145.2 856.03,151.7 856.15,153.1 856.27,149.4 856.39,141.4 856.51,144.2 856.63,136.0 856.75,136.2 856.87,137.9 856.98,136.2 857.10,140.1 857.22,131.8 857.34,132.3 857.46,139.8 857.58,132.7 857.70,126.0 857.82,121.9 857.94,135.0 858.06,126.2 858.18,121.5 858.30,129.0 858.42,124.9 858.54,127.3 858.67,134.1 858.79,141.5 858.91,139.5 859.03,148.5 859.15,149.3 859.27,141.7 859.40,142.1 859.52,154.6 859.64,156.2 859.76,155.2 859.88,151.6 860.00,153.3 860.13,158.0 860.25,156.0 860.37,159.1 860.49,170.1 860.61,169.4 860.73,164.4 860.86,175.0 860.98,172.5 861.10,181.4 861.22,181.6 861.34,175.0 861.46,186.5 861.58,178.9 861.71,181.6 861.83,181.3 861.95,169.3 862.07,183.3 862.19,174.4 862.31,183.3 862.43,179.9 862.55,175.2 862.67,182.7 862.79,175.7 862.92,172.3 863.04,184.0 863.16,170.8 863.28,178.6 863.40,173.7 863.52,179.8 863.64,175.9 863.76,178.7 863.88,170.9 864.01,179.5 864.13,180.0 864.25,179.2 864.37,168.0 864.49,174.7 864.61,170.9 864.73,166.1 864.85,172.3 864.97,173.5 865.09,170.5 865.22,170.7 865.34,170.2 865.46,172.6 865.58,167.2 865.70,167.4 865.82,166.3 865.94,169.1 866.07,155.7 866.19,152.5 866.31,162.1 866.43,152.3 866.55,159.7 866.67,149.8 866.80,144.5 866.92,149.0 867.04,150.9 867.16,146.3 867.28,135.8 867.40,133.0 867.53,131.0 867.65,126.9 867.77,126.1 867.89,136.1 868.01,132.5 868.13,127.2 868.26,124.0 868.38,126.1 868.50,119.7 868.62,119.8 868.74,118.8 868.86,114.7 868.98,121.4 869.10,127.4 869.22,123.9 869.34,117.3 869.45,123.3 869.57,118.5 869.69,111.4 869.81,115.9 869.93,112.8 870.05,110.8 870.17,120.0 870.29,117.8 870.41,112.9 870.53,117.1 870.65,115.9 870.77,118.6 870.89,115.7 871.01,102.7 871.13,105.6 871.25,99.5 871.36,108.1 871.48,108.1 871.60,111.9 871.72,108.9 871.84,105.8 871.96,103.6 872.08,96.3 872.20,105.8 872.32,105.5 872.44,99.5 872.56,102.5 872.68,100.3 872.80,105.0 872.92,100.8 873.04,91.4 873.15,91.6 873.27,92.9 873.39,97.9 873.51,93.8 873.63,103.4 873.75,100.2 873.87,96.1 873.99,101.1 874.11,99.7 874.23,91.5 874.35,101.5 874.47,89.4 874.59,89.5 874.71,88.1 874.83,93.8 874.95,102.7 875.06,94.1 875.18,89.3 875.30,87.7 875.42,91.0 875.54,91.0 875.66,87.4 875.78,86.6 875.90,93.9 876.02,82.7 876.14,94.9 876.27,86.8 876.39,87.1 876.51,103.6 876.63,101.6 876.75,103.1 876.87,102.7 877.00,112.5 877.12,103.7 877.24,113.6 877.36,109.4 877.48,116.7 877.60,112.8 877.73,122.5 877.85,123.6 877.97,117.6 878.09,115.0 878.21,122.3 878.33,121.2 878.46,131.8 878.58,127.3 878.70,137.7 878.82,131.9 878.94,143.6 879.06,133.9 879.18,141.2 879.30,150.2 879.42,157.0 879.54,160.5 879.66,160.9 879.78,161.0 879.90,156.9 880.02,168.0 880.14,169.4 880.26,170.1 880.38,185.3 880.50,174.4 880.62,204.9 880.75,214.8 880.88,239.7 881.00,261.8 881.15,291.7 881.30,329.0 881.42,336.5 881.55,357.0 881.67,366.4 881.80,379.9 881.92,387.9 882.05,396.3 882.17,402.0 882.30,418.6 882.42,404.7 882.55,405.6 882.67,394.2 882.80,385.8 882.93,376.6 883.07,366.8 883.20,349.8 883.33,365.9 883.47,371.6 883.60,383.3 883.73,367.0 883.87,347.2 884.00,329.2 884.12,324.1 884.25,317.1 884.38,304.4 884.50,304.1 884.62,309.6 884.75,322.7 884.88,322.7 885.00,330.5 885.12,317.7 885.25,301.7 885.38,280.4 885.50,272.0 885.62,275.8 885.75,298.2 885.88,303.8 886.00,318.3 886.12,302.2 886.25,284.9 886.38,273.6 886.50,258.7 886.62,261.4 886.75,272.0 886.88,284.9 887.00,302.2 887.12,303.1 887.25,314.4 887.38,330.9 887.50,336.0 887.62,318.6 887.75,302.6 887.88,286.3 888.00,267.6 888.12,290.3 888.25,299.0 888.38,315.0 888.50,329.9 888.62,311.0 888.75,290.7 888.88,281.0 889.00,254.8 889.15,277.4 889.30,290.0"/><rect x="106" y="941" width="266" height="38" fill="none" stroke="#111" stroke-width="2"/><line x1="111" y1="960.5" x2="142" y2="960.5" stroke="#ea6a62" stroke-width="2.2"/><line x1="218" y1="960.5" x2="248" y2="960.5" stroke="#6f8fd8" stroke-width="2.2"/></svg><div class="btn" style="left:460px;width:84px"></div><div class="btn" style="left:552px;width:135px"></div><div class="btn" style="left:695px;width:142px"></div><div class="btn" style="left:845px;width:48px"><svg width="48" height="44" style="position:absolute;left:-2px;top:-2px"><rect x="19.7" y="8.2" width="5.5" height="8.6" rx="0.6" fill="#333"/><path d="M14 16.3H30.9L22.4 25.1Z" fill="#333"/><rect x="11.6" y="26.2" width="22" height="5.5" rx="0.6" fill="#333"/><ellipse cx="30.5" cy="28.6" rx="1.3" ry="0.7" fill="#fff"/></svg></div><div class="ln" style="top:74px"></div><div class="ln" style="top:114px"></div><div class="ln" style="top:154px"></div><div class="ln" style="top:194px"></div><div class="ln" style="top:234px"></div><div class="bg" style="top:276px"></div><div class="ln" style="top:274px"></div><div class="bg" style="top:316px"></div><div class="ln" style="top:314px"></div><div class="ln" style="top:354px"></div><div class="ln" style="top:394px"></div><div class="ln" style="top:434px"></div><div class="ln" style="top:474px"></div><div class="bg" style="top:554px"></div><div class="ln" style="top:552px"></div><div class="bg" style="top:594px"></div><div class="ln" style="top:592px"></div><div class="bg" style="top:634px"></div><div class="ln" style="top:632px"></div><div class="bg" style="top:674px"></div><div class="ln" style="top:672px"></div><div class="ln" style="top:712px"></div><div class="ln" style="top:752px"></div><div class="ln" style="top:792px"></div><div class="ln" style="top:832px"></div><div class="ln" style="top:872px"></div><div class="ln" style="top:912px"></div><div class="ln" style="top:952px"></div><div class="t" style="left:985.11px;top:16.83px;font-size:38px;transform:scaleX(0.8889);color:#5e5e5e">General Info</div><div class="t" style="left:984.56px;top:495.13px;font-size:38px;transform:scaleX(0.9387);color:#5e5e5e">Quick Stats as of 5/30/2020</div><div class="t" style="left:991.50px;top:76.78px;font-size:24px;transform:scaleX(1.0361);color:#000;-webkit-text-stroke:0.25px">Total Market Value (inc. Cash)</div><div class="t" style="left:1751.80px;top:76.78px;font-size:24px;transform:scaleX(1.0558);color:#000;-webkit-text-stroke:0.25px">$50,624.79</div><div class="t" style="left:991.50px;top:116.78px;font-size:24px;transform:scaleX(0.9527);color:#000;-webkit-text-stroke:0.25px">Cash</div><div class="t" style="left:1765.50px;top:116.78px;font-size:24px;transform:scaleX(1.0561);color:#000;-webkit-text-stroke:0.25px">$4,441.75</div><div class="t" style="left:990.48px;top:156.78px;font-size:24px;transform:scaleX(1.0242);color:#000;-webkit-text-stroke:0.25px"><span class="lk">Number of Positions</span></div><div class="t" style="left:1837.58px;top:156.78px;font-size:24px;transform:scaleX(1.0231);color:#000;-webkit-text-stroke:0.25px"><span class="lk">100</span></div><div class="t" style="left:990.47px;top:196.78px;font-size:24px;transform:scaleX(1.0349);color:#000;-webkit-text-stroke:0.25px"><span class="lk">Last Trades</span> (200)</div><div class="t" style="left:1775.09px;top:196.78px;font-size:24px;transform:scaleX(1.1120);color:#000;-webkit-text-stroke:0.25px"><span class="lk">12/09/19</span></div><div class="t" style="left:990.53px;top:236.78px;font-size:24px;transform:scaleX(0.9735);color:#000;-webkit-text-stroke:0.25px">Period</div><div class="t" style="left:1646.60px;top:236.78px;font-size:24px;transform:scaleX(1.1149);color:#000;-webkit-text-stroke:0.25px">01/02/99 - 05/30/20</div><div class="t" style="left:990.48px;top:276.78px;font-size:24px;transform:scaleX(1.0227);color:#000;-webkit-text-stroke:0.25px">Sizing Method</div><div class="t" style="left:1674.40px;top:276.78px;font-size:24px;transform:scaleX(1.0308);color:#000;-webkit-text-stroke:0.25px">% Portfolio Weight</div><div class="t" style="left:990.48px;top:316.78px;font-size:24px;transform:scaleX(1.0203);color:#000;-webkit-text-stroke:0.25px">Last Rebalanced (Every 52 Weeks)</div><div class="t" style="left:1775.09px;top:316.78px;font-size:24px;transform:scaleX(1.1120);color:#000;-webkit-text-stroke:0.25px">12/09/19</div><div class="t" style="left:990.48px;top:356.78px;font-size:24px;transform:scaleX(1.0174);color:#000;-webkit-text-stroke:0.25px">Benchmark</div><div class="t" style="left:1714.80px;top:356.78px;font-size:24px;transform:scaleX(0.9982);color:#000;-webkit-text-stroke:0.25px">S&amp;P 500 (SPY)</div><div class="t" style="left:990.48px;top:396.78px;font-size:24px;transform:scaleX(1.0151);color:#000;-webkit-text-stroke:0.25px">Universe</div><div class="t" style="left:1700.80px;top:396.78px;font-size:24px;transform:scaleX(1.0039);color:#000;-webkit-text-stroke:0.25px">All Stocks - USA</div><div class="t" style="left:990.48px;top:436.78px;font-size:24px;transform:scaleX(1.0197);color:#000;-webkit-text-stroke:0.25px">Ranking System</div><div class="t" style="left:1841.55px;top:436.78px;font-size:24px;transform:scaleX(0.9474);color:#000;-webkit-text-stroke:0.25px"><span class="lk">P/E</span></div><div class="t" style="left:991.50px;top:554.78px;font-size:24px;transform:scaleX(1.0271);color:#000;-webkit-text-stroke:0.25px">Total Return</div><div class="t" style="left:1777.80px;top:554.78px;font-size:24px;transform:scaleX(1.0600);color:#000;-webkit-text-stroke:0.25px">406.25%</div><div class="t" style="left:990.47px;top:594.78px;font-size:24px;transform:scaleX(1.0328);color:#000;-webkit-text-stroke:0.25px">Benchmark Return</div><div class="t" style="left:1778.20px;top:594.78px;font-size:24px;transform:scaleX(1.0558);color:#000;-webkit-text-stroke:0.25px">265.01%</div><div class="t" style="left:992.52px;top:634.78px;font-size:24px;transform:scaleX(1.0174);color:#000;-webkit-text-stroke:0.25px">Active Return</div><div class="t" style="left:1778.04px;top:634.78px;font-size:24px;transform:scaleX(1.0574);color:#000;-webkit-text-stroke:0.25px">141.24%</div><div class="t" style="left:992.51px;top:674.78px;font-size:24px;transform:scaleX(1.0076);color:#000;-webkit-text-stroke:0.25px">Annualized Return</div><div class="t" style="left:1806.40px;top:674.78px;font-size:24px;transform:scaleX(1.0603);color:#000;-webkit-text-stroke:0.25px">7.87%</div><div class="t" style="left:992.52px;top:714.78px;font-size:24px;transform:scaleX(1.0164);color:#000;-webkit-text-stroke:0.25px">Annual Turnover</div><div class="t" style="left:1791.80px;top:714.78px;font-size:24px;transform:scaleX(1.0704);color:#000;-webkit-text-stroke:0.25px">91.78%</div><div class="t" style="left:990.48px;top:754.78px;font-size:24px;transform:scaleX(1.0159);color:#000;-webkit-text-stroke:0.25px">Max Drawdown</div><div class="t" style="left:1782.00px;top:754.78px;font-size:24px;transform:scaleX(1.0843);color:#000;-webkit-text-stroke:0.25px"><span class="ng">-51.06%</span></div><div class="t" style="left:990.48px;top:794.78px;font-size:24px;transform:scaleX(1.0233);color:#000;-webkit-text-stroke:0.25px">Benchmark Max Drawdown</div><div class="t" style="left:1782.00px;top:794.78px;font-size:24px;transform:scaleX(1.0843);color:#000;-webkit-text-stroke:0.25px"><span class="ng">-55.19%</span></div><div class="t" style="left:991.50px;top:834.78px;font-size:24px;transform:scaleX(1.0152);color:#000;-webkit-text-stroke:0.25px">Overall Winners</div><div class="t" style="left:1642.22px;top:834.78px;font-size:24px;transform:scaleX(1.0839);color:#000;-webkit-text-stroke:0.25px">(1252/2200) 56.91%</div><div class="t" style="left:990.49px;top:874.78px;font-size:24px;transform:scaleX(1.0101);color:#000;-webkit-text-stroke:0.25px">Sharpe Ratio</div><div class="t" style="left:1829.80px;top:874.78px;font-size:24px;transform:scaleX(1.0587);color:#000;-webkit-text-stroke:0.25px">0.45</div><div class="t" style="left:991.50px;top:914.78px;font-size:24px;transform:scaleX(1.0222);color:#000;-webkit-text-stroke:0.25px">Correlation with S&amp;P 500 (SPY)</div><div class="t" style="left:1829.80px;top:914.78px;font-size:24px;transform:scaleX(1.0587);color:#000;-webkit-text-stroke:0.25px">0.86</div><div class="t" style="left:60.60px;top:808.07px;font-size:19.5px;transform:scaleX(1.0964);color:#2a2a2a;-webkit-text-stroke:0.35px #2a2a2a">-50</div><div class="t" style="left:80.50px;top:746.91px;font-size:19.5px;transform:scaleX(0.9818);color:#2a2a2a;-webkit-text-stroke:0.35px #2a2a2a">0</div><div class="t" style="left:68.40px;top:685.75px;font-size:19.5px;transform:scaleX(1.0409);color:#2a2a2a;-webkit-text-stroke:0.35px #2a2a2a">50</div><div class="t" style="left:55.41px;top:624.60px;font-size:19.5px;transform:scaleX(1.0875);color:#2a2a2a;-webkit-text-stroke:0.35px #2a2a2a">100</div><div class="t" style="left:55.41px;top:563.44px;font-size:19.5px;transform:scaleX(1.0875);color:#2a2a2a;-webkit-text-stroke:0.35px #2a2a2a">150</div><div class="t" style="left:56.50px;top:502.28px;font-size:19.5px;transform:scaleX(1.0545);color:#2a2a2a;-webkit-text-stroke:0.35px #2a2a2a">200</div><div class="t" style="left:56.50px;top:441.12px;font-size:19.5px;transform:scaleX(1.0545);color:#2a2a2a;-webkit-text-stroke:0.35px #2a2a2a">250</div><div class="t" style="left:56.50px;top:379.96px;font-size:19.5px;transform:scaleX(1.0545);color:#2a2a2a;-webkit-text-stroke:0.35px #2a2a2a">300</div><div class="t" style="left:56.50px;top:318.80px;font-size:19.5px;transform:scaleX(1.0545);color:#2a2a2a;-webkit-text-stroke:0.35px #2a2a2a">350</div><div class="t" style="left:56.50px;top:257.64px;font-size:19.5px;transform:scaleX(1.0545);color:#2a2a2a;-webkit-text-stroke:0.35px #2a2a2a">400</div><div class="t" style="left:56.50px;top:196.48px;font-size:19.5px;transform:scaleX(1.0545);color:#2a2a2a;-webkit-text-stroke:0.35px #2a2a2a">450</div><div class="t" style="left:56.50px;top:135.32px;font-size:19.5px;transform:scaleX(1.0545);color:#2a2a2a;-webkit-text-stroke:0.35px #2a2a2a">500</div><div class="t" style="left:56.50px;top:74.16px;font-size:19.5px;transform:scaleX(1.0545);color:#2a2a2a;-webkit-text-stroke:0.35px #2a2a2a">550</div><div class="t" style="left:114.20px;top:857.24px;font-size:19.5px;transform:scaleX(1.0694);color:#2a2a2a;-webkit-text-stroke:0.35px #2a2a2a">01/00</div><div class="t" style="left:188.56px;top:857.24px;font-size:19.5px;transform:scaleX(1.0694);color:#2a2a2a;-webkit-text-stroke:0.35px #2a2a2a">01/02</div><div class="t" style="left:262.92px;top:857.24px;font-size:19.5px;transform:scaleX(1.0694);color:#2a2a2a;-webkit-text-stroke:0.35px #2a2a2a">01/04</div><div class="t" style="left:337.28px;top:857.24px;font-size:19.5px;transform:scaleX(1.0694);color:#2a2a2a;-webkit-text-stroke:0.35px #2a2a2a">01/06</div><div class="t" style="left:411.64px;top:857.24px;font-size:19.5px;transform:scaleX(1.0694);color:#2a2a2a;-webkit-text-stroke:0.35px #2a2a2a">01/08</div><div class="t" style="left:486.00px;top:857.24px;font-size:19.5px;transform:scaleX(1.0694);color:#2a2a2a;-webkit-text-stroke:0.35px #2a2a2a">01/10</div><div class="t" style="left:560.36px;top:857.24px;font-size:19.5px;transform:scaleX(1.0694);color:#2a2a2a;-webkit-text-stroke:0.35px #2a2a2a">01/12</div><div class="t" style="left:634.72px;top:857.24px;font-size:19.5px;transform:scaleX(1.0694);color:#2a2a2a;-webkit-text-stroke:0.35px #2a2a2a">01/14</div><div class="t" style="left:709.08px;top:857.24px;font-size:19.5px;transform:scaleX(1.0694);color:#2a2a2a;-webkit-text-stroke:0.35px #2a2a2a">01/16</div><div class="t" style="left:783.44px;top:857.24px;font-size:19.5px;transform:scaleX(1.0694);color:#2a2a2a;-webkit-text-stroke:0.35px #2a2a2a">01/18</div><div class="t" style="left:857.80px;top:857.24px;font-size:19.5px;transform:scaleX(1.0694);color:#2a2a2a;-webkit-text-stroke:0.35px #2a2a2a">01/20</div><div class="t" style="left:88.40px;top:896.82px;font-size:19px;transform:scaleX(1.0954);color:#555">&copy; Portfolio123 | Data provided by S&amp;P Global Market Intelligence and ICE Data, LLP</div><div class="t" style="left:148.92px;top:941.17px;font-size:20px;transform:scaleX(1.0849);color:#222;-webkit-text-stroke:0.3px #222">Model</div><div class="t" style="left:255.52px;top:941.17px;font-size:20px;transform:scaleX(1.0822);color:#222;-webkit-text-stroke:0.3px #222">Benchmark</div><div class="t" style="left:472.54px;top:937.04px;font-size:25px;transform:scaleX(0.9600);color:#333">Basic</div><div class="t" style="left:562.15px;top:937.04px;font-size:25px;transform:scaleX(0.9752);color:#333">Interactive</div><div class="t" style="left:706.82px;top:937.04px;font-size:25px;transform:scaleX(0.9805);color:#333">&lt;/&gt; embed</div></body></html>
